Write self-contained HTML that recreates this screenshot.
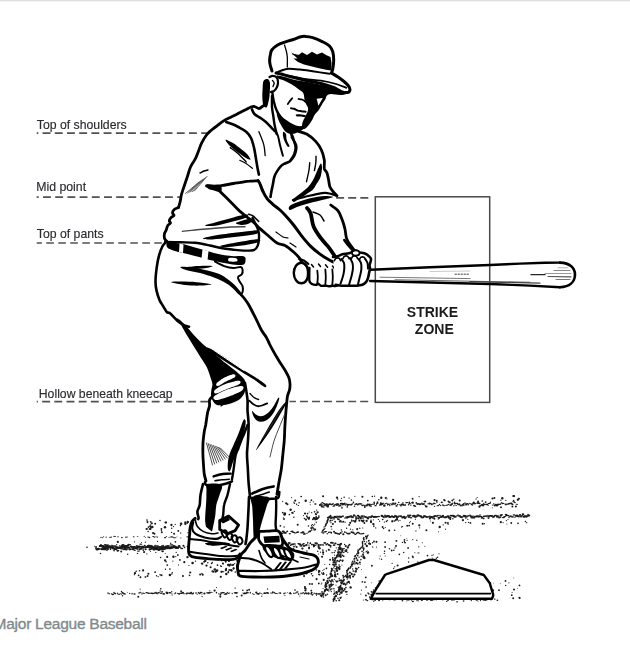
<!DOCTYPE html>
<html><head><meta charset="utf-8">
<style>
html,body{margin:0;padding:0;background:#fff;width:630px;height:653px;overflow:hidden}
svg{display:block;position:absolute;left:0;top:0;filter:blur(0.35px)}
.cap{position:absolute;left:-6.4px;top:614.6px;-webkit-text-stroke:0.35px #7f8a8d;font:15.5px "Liberation Sans",sans-serif;color:#7f8a8d;letter-spacing:-0.26px;white-space:nowrap;line-height:18px}
</style></head><body>
<svg width="630" height="653" viewBox="0 0 630 653">
<rect x="0" y="0" width="630" height="1" fill="#dfdfdf"/><rect x="0" y="1" width="630" height="1" fill="#f4f4f4"/>
<g font-family="Liberation Sans" fill="#2a2a30" stroke="#2a2a30" stroke-width="0.15">
<text x="36.8" y="129.4" font-size="12.25">Top of shoulders</text>
<text x="36.2" y="190.7" font-size="12.3">Mid point</text>
<text x="36.8" y="238.3" font-size="12.25">Top of pants</text>
<text x="38.8" y="397.6" font-size="12.22">Hollow beneath kneecap</text>
</g>
<g stroke="#525252" stroke-width="1.7" fill="none">
<line x1="36.7" y1="133.2" x2="207" y2="133.2" stroke-dasharray="7.9 4.3" stroke-dashoffset="6.3"/>
<line x1="36.7" y1="197.2" x2="181" y2="197.2" stroke-dasharray="7.9 4.3" stroke-dashoffset="5.9"/>
<line x1="336.1" y1="197.8" x2="369" y2="197.8" stroke-dasharray="8 4.1"/>
<line x1="36.7" y1="243" x2="164" y2="243" stroke-dasharray="7.6 4.4" stroke-dashoffset="2.4"/>
<line x1="36.7" y1="401.6" x2="208" y2="401.6" stroke-dasharray="7.9 4.27" stroke-dashoffset="6.7"/>
<line x1="289.5" y1="401.5" x2="369" y2="401.5" stroke-dasharray="8 4.05" stroke-dashoffset="1.6"/>
</g>
<rect x="375.3" y="196.8" width="114.4" height="205.6" fill="none" stroke="#4a4a4a" stroke-width="1.5"/>
<g font-family="Liberation Sans" font-weight="bold" font-size="14" fill="#1a1a1a" text-anchor="middle">
<text x="432.5" y="317.2">STRIKE</text>
<text x="434.3" y="334.4">ZONE</text>
</g>
<!-- DIRT -->
<g fill="#1a1a1a"><ellipse cx="101.0" cy="537.4" rx="0.56" ry="0.58" transform="rotate(0 101.0 537.4)"/><ellipse cx="102.3" cy="537.6" rx="0.55" ry="0.58" transform="rotate(0 102.3 537.6)"/><ellipse cx="103.6" cy="536.8" rx="0.57" ry="0.56" transform="rotate(0 103.6 536.8)"/><ellipse cx="106.2" cy="537.1" rx="0.68" ry="0.61" transform="rotate(0 106.2 537.1)"/><ellipse cx="110.2" cy="537.2" rx="1.19" ry="0.52" transform="rotate(0 110.2 537.2)"/><ellipse cx="111.5" cy="537.0" rx="0.59" ry="0.53" transform="rotate(0 111.5 537.0)"/><ellipse cx="114.1" cy="536.4" rx="0.80" ry="0.59" transform="rotate(0 114.1 536.4)"/><ellipse cx="115.4" cy="536.6" rx="0.55" ry="0.50" transform="rotate(0 115.4 536.6)"/><ellipse cx="118.0" cy="536.7" rx="0.86" ry="0.52" transform="rotate(0 118.0 536.7)"/><ellipse cx="121.9" cy="537.6" rx="0.96" ry="0.58" transform="rotate(0 121.9 537.6)"/><ellipse cx="125.9" cy="537.2" rx="0.83" ry="0.64" transform="rotate(0 125.9 537.2)"/><ellipse cx="127.2" cy="537.0" rx="0.89" ry="0.46" transform="rotate(0 127.2 537.0)"/><ellipse cx="133.7" cy="536.8" rx="0.96" ry="0.56" transform="rotate(0 133.7 536.8)"/><ellipse cx="137.6" cy="536.4" rx="1.03" ry="0.47" transform="rotate(0 137.6 536.4)"/><ellipse cx="144.2" cy="536.4" rx="0.52" ry="0.57" transform="rotate(0 144.2 536.4)"/><ellipse cx="145.5" cy="537.5" rx="0.59" ry="0.46" transform="rotate(0 145.5 537.5)"/><ellipse cx="148.1" cy="537.0" rx="1.20" ry="0.47" transform="rotate(0 148.1 537.0)"/><ellipse cx="149.4" cy="537.5" rx="0.94" ry="0.67" transform="rotate(0 149.4 537.5)"/><ellipse cx="153.4" cy="536.6" rx="1.21" ry="0.69" transform="rotate(0 153.4 536.6)"/><ellipse cx="154.7" cy="537.2" rx="0.64" ry="0.51" transform="rotate(0 154.7 537.2)"/><ellipse cx="156.0" cy="536.3" rx="0.71" ry="0.45" transform="rotate(0 156.0 536.3)"/><ellipse cx="157.3" cy="537.1" rx="0.80" ry="0.59" transform="rotate(0 157.3 537.1)"/><ellipse cx="165.1" cy="537.7" rx="1.20" ry="0.65" transform="rotate(0 165.1 537.7)"/><ellipse cx="166.4" cy="536.5" rx="0.82" ry="0.48" transform="rotate(0 166.4 536.5)"/><ellipse cx="169.1" cy="537.3" rx="0.63" ry="0.54" transform="rotate(0 169.1 537.3)"/><ellipse cx="170.4" cy="537.1" rx="0.50" ry="0.49" transform="rotate(0 170.4 537.1)"/><ellipse cx="171.7" cy="536.9" rx="1.20" ry="0.60" transform="rotate(0 171.7 536.9)"/><ellipse cx="173.0" cy="537.1" rx="0.70" ry="0.54" transform="rotate(0 173.0 537.1)"/><ellipse cx="174.3" cy="537.7" rx="1.29" ry="0.57" transform="rotate(0 174.3 537.7)"/><ellipse cx="175.6" cy="537.7" rx="0.57" ry="0.48" transform="rotate(0 175.6 537.7)"/><ellipse cx="176.9" cy="536.9" rx="0.63" ry="0.46" transform="rotate(0 176.9 536.9)"/><ellipse cx="180.8" cy="537.9" rx="0.93" ry="0.46" transform="rotate(0 180.8 537.9)"/><ellipse cx="187.4" cy="536.8" rx="1.12" ry="0.58" transform="rotate(0 187.4 536.8)"/><ellipse cx="87.0" cy="547.3" rx="0.80" ry="0.82" transform="rotate(0 87.0 547.3)"/><ellipse cx="94.8" cy="546.3" rx="0.63" ry="0.51" transform="rotate(0 94.8 546.3)"/><ellipse cx="96.1" cy="546.9" rx="0.83" ry="0.78" transform="rotate(0 96.1 546.9)"/><ellipse cx="98.7" cy="548.9" rx="1.46" ry="0.65" transform="rotate(0 98.7 548.9)"/><ellipse cx="100.0" cy="546.1" rx="1.25" ry="0.92" transform="rotate(0 100.0 546.1)"/><ellipse cx="101.0" cy="545.8" rx="1.92" ry="1.09" transform="rotate(0 101.0 545.8)"/><ellipse cx="102.0" cy="545.8" rx="1.88" ry="0.85" transform="rotate(0 102.0 545.8)"/><ellipse cx="103.0" cy="548.2" rx="1.83" ry="1.09" transform="rotate(0 103.0 548.2)"/><ellipse cx="104.0" cy="546.3" rx="1.87" ry="1.00" transform="rotate(0 104.0 546.3)"/><ellipse cx="105.0" cy="547.8" rx="1.44" ry="1.37" transform="rotate(0 105.0 547.8)"/><ellipse cx="106.0" cy="546.9" rx="1.19" ry="0.88" transform="rotate(0 106.0 546.9)"/><ellipse cx="107.0" cy="548.2" rx="1.16" ry="1.30" transform="rotate(0 107.0 548.2)"/><ellipse cx="108.0" cy="546.2" rx="1.72" ry="1.01" transform="rotate(0 108.0 546.2)"/><ellipse cx="109.0" cy="547.1" rx="2.07" ry="1.19" transform="rotate(0 109.0 547.1)"/><ellipse cx="110.0" cy="547.2" rx="2.03" ry="1.06" transform="rotate(0 110.0 547.2)"/><ellipse cx="111.0" cy="547.3" rx="1.28" ry="0.98" transform="rotate(0 111.0 547.3)"/><ellipse cx="112.0" cy="546.6" rx="1.65" ry="0.96" transform="rotate(0 112.0 546.6)"/><ellipse cx="113.0" cy="548.3" rx="1.39" ry="1.07" transform="rotate(0 113.0 548.3)"/><ellipse cx="114.0" cy="548.4" rx="1.99" ry="1.05" transform="rotate(0 114.0 548.4)"/><ellipse cx="115.0" cy="546.1" rx="1.58" ry="0.81" transform="rotate(0 115.0 546.1)"/><ellipse cx="116.0" cy="547.1" rx="1.20" ry="0.80" transform="rotate(0 116.0 547.1)"/><ellipse cx="117.0" cy="547.5" rx="1.80" ry="1.13" transform="rotate(0 117.0 547.5)"/><ellipse cx="118.0" cy="547.9" rx="1.57" ry="1.13" transform="rotate(0 118.0 547.9)"/><ellipse cx="119.0" cy="547.9" rx="1.27" ry="0.97" transform="rotate(0 119.0 547.9)"/><ellipse cx="120.0" cy="547.8" rx="1.56" ry="1.14" transform="rotate(0 120.0 547.8)"/><ellipse cx="121.0" cy="547.9" rx="1.67" ry="1.10" transform="rotate(0 121.0 547.9)"/><ellipse cx="122.0" cy="546.7" rx="1.76" ry="1.07" transform="rotate(0 122.0 546.7)"/><ellipse cx="123.0" cy="545.3" rx="1.77" ry="1.33" transform="rotate(0 123.0 545.3)"/><ellipse cx="124.0" cy="547.4" rx="1.29" ry="1.14" transform="rotate(0 124.0 547.4)"/><ellipse cx="125.0" cy="547.4" rx="1.13" ry="1.07" transform="rotate(0 125.0 547.4)"/><ellipse cx="126.0" cy="546.8" rx="1.26" ry="0.84" transform="rotate(0 126.0 546.8)"/><ellipse cx="127.0" cy="547.5" rx="1.17" ry="1.23" transform="rotate(0 127.0 547.5)"/><ellipse cx="128.0" cy="545.5" rx="1.16" ry="1.33" transform="rotate(0 128.0 545.5)"/><ellipse cx="129.0" cy="547.6" rx="1.44" ry="1.09" transform="rotate(0 129.0 547.6)"/><ellipse cx="130.0" cy="549.1" rx="1.92" ry="0.90" transform="rotate(0 130.0 549.1)"/><ellipse cx="131.0" cy="546.5" rx="1.22" ry="0.99" transform="rotate(0 131.0 546.5)"/><ellipse cx="132.0" cy="547.1" rx="1.02" ry="1.13" transform="rotate(0 132.0 547.1)"/><ellipse cx="133.0" cy="547.9" rx="1.69" ry="1.11" transform="rotate(0 133.0 547.9)"/><ellipse cx="134.0" cy="547.3" rx="2.08" ry="1.27" transform="rotate(0 134.0 547.3)"/><ellipse cx="135.0" cy="547.7" rx="1.04" ry="1.27" transform="rotate(0 135.0 547.7)"/><ellipse cx="136.0" cy="547.6" rx="1.14" ry="1.05" transform="rotate(0 136.0 547.6)"/><ellipse cx="137.0" cy="547.5" rx="1.16" ry="1.35" transform="rotate(0 137.0 547.5)"/><ellipse cx="138.0" cy="546.7" rx="1.77" ry="0.85" transform="rotate(0 138.0 546.7)"/><ellipse cx="139.0" cy="546.9" rx="1.08" ry="1.36" transform="rotate(0 139.0 546.9)"/><ellipse cx="140.0" cy="546.5" rx="1.88" ry="0.85" transform="rotate(0 140.0 546.5)"/><ellipse cx="141.0" cy="548.7" rx="1.50" ry="1.00" transform="rotate(0 141.0 548.7)"/><ellipse cx="142.0" cy="547.9" rx="2.02" ry="0.96" transform="rotate(0 142.0 547.9)"/><ellipse cx="143.0" cy="546.7" rx="1.12" ry="0.90" transform="rotate(0 143.0 546.7)"/><ellipse cx="144.0" cy="547.2" rx="1.22" ry="0.99" transform="rotate(0 144.0 547.2)"/><ellipse cx="145.0" cy="547.3" rx="1.55" ry="0.91" transform="rotate(0 145.0 547.3)"/><ellipse cx="146.0" cy="546.6" rx="1.02" ry="0.95" transform="rotate(0 146.0 546.6)"/><ellipse cx="147.0" cy="547.2" rx="1.21" ry="1.08" transform="rotate(0 147.0 547.2)"/><ellipse cx="148.0" cy="546.3" rx="1.12" ry="1.29" transform="rotate(0 148.0 546.3)"/><ellipse cx="149.0" cy="545.8" rx="1.43" ry="1.10" transform="rotate(0 149.0 545.8)"/><ellipse cx="150.0" cy="547.4" rx="2.08" ry="1.01" transform="rotate(0 150.0 547.4)"/><ellipse cx="151.0" cy="547.0" rx="1.45" ry="1.01" transform="rotate(0 151.0 547.0)"/><ellipse cx="152.0" cy="546.2" rx="1.14" ry="0.84" transform="rotate(0 152.0 546.2)"/><ellipse cx="153.0" cy="547.3" rx="1.09" ry="1.30" transform="rotate(0 153.0 547.3)"/><ellipse cx="154.0" cy="547.8" rx="1.74" ry="0.97" transform="rotate(0 154.0 547.8)"/><ellipse cx="155.0" cy="547.1" rx="1.17" ry="1.07" transform="rotate(0 155.0 547.1)"/><ellipse cx="156.0" cy="548.2" rx="2.06" ry="1.38" transform="rotate(0 156.0 548.2)"/><ellipse cx="157.0" cy="547.4" rx="1.34" ry="1.01" transform="rotate(0 157.0 547.4)"/><ellipse cx="158.0" cy="549.4" rx="1.42" ry="1.08" transform="rotate(0 158.0 549.4)"/><ellipse cx="159.0" cy="547.7" rx="1.01" ry="0.96" transform="rotate(0 159.0 547.7)"/><ellipse cx="160.0" cy="548.3" rx="1.44" ry="0.83" transform="rotate(0 160.0 548.3)"/><ellipse cx="161.0" cy="547.2" rx="1.64" ry="1.12" transform="rotate(0 161.0 547.2)"/><ellipse cx="162.0" cy="547.9" rx="1.72" ry="1.23" transform="rotate(0 162.0 547.9)"/><ellipse cx="163.0" cy="546.8" rx="2.08" ry="0.89" transform="rotate(0 163.0 546.8)"/><ellipse cx="164.0" cy="547.9" rx="1.71" ry="0.83" transform="rotate(0 164.0 547.9)"/><ellipse cx="165.0" cy="548.3" rx="1.81" ry="1.29" transform="rotate(0 165.0 548.3)"/><ellipse cx="166.0" cy="546.7" rx="1.58" ry="1.10" transform="rotate(0 166.0 546.7)"/><ellipse cx="167.0" cy="547.9" rx="1.64" ry="1.34" transform="rotate(0 167.0 547.9)"/><ellipse cx="168.0" cy="546.0" rx="1.76" ry="0.94" transform="rotate(0 168.0 546.0)"/><ellipse cx="169.0" cy="547.9" rx="1.12" ry="1.30" transform="rotate(0 169.0 547.9)"/><ellipse cx="170.0" cy="548.0" rx="1.69" ry="1.18" transform="rotate(0 170.0 548.0)"/><ellipse cx="171.0" cy="547.4" rx="1.88" ry="1.25" transform="rotate(0 171.0 547.4)"/><ellipse cx="172.0" cy="547.5" rx="1.59" ry="1.20" transform="rotate(0 172.0 547.5)"/><ellipse cx="173.0" cy="547.4" rx="1.08" ry="0.96" transform="rotate(0 173.0 547.4)"/><ellipse cx="174.0" cy="546.9" rx="1.23" ry="1.24" transform="rotate(0 174.0 546.9)"/><ellipse cx="175.0" cy="546.7" rx="1.53" ry="1.21" transform="rotate(0 175.0 546.7)"/><ellipse cx="176.0" cy="547.5" rx="1.68" ry="1.19" transform="rotate(0 176.0 547.5)"/><ellipse cx="177.0" cy="547.8" rx="1.82" ry="0.98" transform="rotate(0 177.0 547.8)"/><ellipse cx="178.0" cy="548.0" rx="1.01" ry="0.84" transform="rotate(0 178.0 548.0)"/><ellipse cx="179.0" cy="546.9" rx="1.74" ry="0.97" transform="rotate(0 179.0 546.9)"/><ellipse cx="96.0" cy="548.1" rx="1.21" ry="0.83" transform="rotate(0 96.0 548.1)"/><ellipse cx="97.2" cy="549.4" rx="1.73" ry="1.07" transform="rotate(0 97.2 549.4)"/><ellipse cx="98.4" cy="548.7" rx="1.21" ry="1.01" transform="rotate(0 98.4 548.7)"/><ellipse cx="100.8" cy="549.0" rx="1.70" ry="0.71" transform="rotate(0 100.8 549.0)"/><ellipse cx="102.0" cy="549.5" rx="0.89" ry="0.86" transform="rotate(0 102.0 549.5)"/><ellipse cx="104.5" cy="549.4" rx="1.64" ry="0.95" transform="rotate(0 104.5 549.4)"/><ellipse cx="105.7" cy="548.3" rx="1.65" ry="0.84" transform="rotate(0 105.7 548.3)"/><ellipse cx="106.9" cy="549.9" rx="1.20" ry="0.75" transform="rotate(0 106.9 549.9)"/><ellipse cx="108.1" cy="549.1" rx="1.09" ry="0.76" transform="rotate(0 108.1 549.1)"/><ellipse cx="110.5" cy="549.1" rx="0.87" ry="1.06" transform="rotate(0 110.5 549.1)"/><ellipse cx="111.7" cy="547.8" rx="1.65" ry="0.74" transform="rotate(0 111.7 547.8)"/><ellipse cx="113.0" cy="547.1" rx="1.34" ry="0.78" transform="rotate(0 113.0 547.1)"/><ellipse cx="114.1" cy="550.7" rx="1.03" ry="0.62" transform="rotate(0 114.1 550.7)"/><ellipse cx="115.4" cy="549.4" rx="1.69" ry="0.72" transform="rotate(0 115.4 549.4)"/><ellipse cx="116.6" cy="548.7" rx="1.26" ry="0.69" transform="rotate(0 116.6 548.7)"/><ellipse cx="117.8" cy="550.6" rx="1.56" ry="0.92" transform="rotate(0 117.8 550.6)"/><ellipse cx="121.4" cy="548.8" rx="1.47" ry="0.62" transform="rotate(0 121.4 548.8)"/><ellipse cx="122.6" cy="548.1" rx="1.39" ry="0.74" transform="rotate(0 122.6 548.1)"/><ellipse cx="123.8" cy="549.6" rx="1.68" ry="0.66" transform="rotate(0 123.8 549.6)"/><ellipse cx="125.1" cy="548.9" rx="1.49" ry="1.09" transform="rotate(0 125.1 548.9)"/><ellipse cx="126.3" cy="549.7" rx="1.41" ry="0.75" transform="rotate(0 126.3 549.7)"/><ellipse cx="127.5" cy="548.9" rx="0.91" ry="0.70" transform="rotate(0 127.5 548.9)"/><ellipse cx="129.9" cy="549.5" rx="0.97" ry="1.05" transform="rotate(0 129.9 549.5)"/><ellipse cx="132.3" cy="549.6" rx="0.84" ry="0.77" transform="rotate(0 132.3 549.6)"/><ellipse cx="133.5" cy="549.6" rx="0.99" ry="0.73" transform="rotate(0 133.5 549.6)"/><ellipse cx="134.7" cy="550.2" rx="1.16" ry="0.81" transform="rotate(0 134.7 550.2)"/><ellipse cx="136.0" cy="548.5" rx="1.13" ry="0.77" transform="rotate(0 136.0 548.5)"/><ellipse cx="137.2" cy="549.0" rx="0.88" ry="0.85" transform="rotate(0 137.2 549.0)"/><ellipse cx="138.4" cy="551.1" rx="1.61" ry="0.71" transform="rotate(0 138.4 551.1)"/><ellipse cx="139.6" cy="549.3" rx="1.20" ry="1.08" transform="rotate(0 139.6 549.3)"/><ellipse cx="143.2" cy="550.0" rx="0.78" ry="0.95" transform="rotate(0 143.2 550.0)"/><ellipse cx="145.6" cy="549.3" rx="1.14" ry="1.06" transform="rotate(0 145.6 549.3)"/><ellipse cx="150.5" cy="549.4" rx="0.86" ry="0.68" transform="rotate(0 150.5 549.4)"/><ellipse cx="151.7" cy="548.7" rx="1.47" ry="0.92" transform="rotate(0 151.7 548.7)"/><ellipse cx="152.9" cy="547.9" rx="1.21" ry="0.88" transform="rotate(0 152.9 547.9)"/><ellipse cx="154.1" cy="549.5" rx="1.67" ry="0.92" transform="rotate(0 154.1 549.5)"/><ellipse cx="155.3" cy="548.9" rx="0.88" ry="0.73" transform="rotate(0 155.3 548.9)"/><ellipse cx="156.5" cy="549.3" rx="0.82" ry="0.86" transform="rotate(0 156.5 549.3)"/><ellipse cx="157.7" cy="549.1" rx="1.14" ry="0.71" transform="rotate(0 157.7 549.1)"/><ellipse cx="158.9" cy="550.0" rx="1.21" ry="1.08" transform="rotate(0 158.9 550.0)"/><ellipse cx="160.2" cy="549.5" rx="1.63" ry="0.84" transform="rotate(0 160.2 549.5)"/><ellipse cx="161.4" cy="549.5" rx="1.45" ry="0.75" transform="rotate(0 161.4 549.5)"/><ellipse cx="162.6" cy="551.3" rx="1.25" ry="0.94" transform="rotate(0 162.6 551.3)"/><ellipse cx="163.8" cy="549.4" rx="1.68" ry="0.71" transform="rotate(0 163.8 549.4)"/><ellipse cx="100.0" cy="546.4" rx="1.09" ry="0.67" transform="rotate(0 100.0 546.4)"/><ellipse cx="102.6" cy="545.8" rx="1.25" ry="0.58" transform="rotate(0 102.6 545.8)"/><ellipse cx="105.3" cy="544.6" rx="1.57" ry="0.59" transform="rotate(0 105.3 544.6)"/><ellipse cx="106.6" cy="545.5" rx="1.70" ry="0.70" transform="rotate(0 106.6 545.5)"/><ellipse cx="107.9" cy="545.0" rx="0.97" ry="0.67" transform="rotate(0 107.9 545.0)"/><ellipse cx="111.8" cy="545.2" rx="1.72" ry="0.56" transform="rotate(0 111.8 545.2)"/><ellipse cx="113.2" cy="545.8" rx="0.81" ry="0.66" transform="rotate(0 113.2 545.8)"/><ellipse cx="121.1" cy="546.1" rx="1.50" ry="0.51" transform="rotate(0 121.1 546.1)"/><ellipse cx="123.7" cy="546.8" rx="1.12" ry="0.63" transform="rotate(0 123.7 546.8)"/><ellipse cx="125.0" cy="546.0" rx="1.10" ry="0.88" transform="rotate(0 125.0 546.0)"/><ellipse cx="126.3" cy="545.5" rx="1.71" ry="0.58" transform="rotate(0 126.3 545.5)"/><ellipse cx="127.6" cy="546.0" rx="1.18" ry="0.52" transform="rotate(0 127.6 546.0)"/><ellipse cx="128.9" cy="544.5" rx="1.12" ry="0.87" transform="rotate(0 128.9 544.5)"/><ellipse cx="130.3" cy="544.7" rx="0.78" ry="0.66" transform="rotate(0 130.3 544.7)"/><ellipse cx="134.2" cy="546.5" rx="0.78" ry="0.53" transform="rotate(0 134.2 546.5)"/><ellipse cx="136.8" cy="545.5" rx="1.09" ry="0.61" transform="rotate(0 136.8 545.5)"/><ellipse cx="140.8" cy="544.2" rx="1.47" ry="0.63" transform="rotate(0 140.8 544.2)"/><ellipse cx="142.1" cy="546.5" rx="1.67" ry="0.75" transform="rotate(0 142.1 546.5)"/><ellipse cx="144.7" cy="545.5" rx="0.98" ry="0.69" transform="rotate(0 144.7 545.5)"/><ellipse cx="148.7" cy="545.5" rx="1.24" ry="0.87" transform="rotate(0 148.7 545.5)"/><ellipse cx="150.0" cy="546.1" rx="1.55" ry="0.80" transform="rotate(0 150.0 546.1)"/><ellipse cx="155.3" cy="545.3" rx="1.53" ry="0.53" transform="rotate(0 155.3 545.3)"/><ellipse cx="156.6" cy="546.0" rx="1.50" ry="0.60" transform="rotate(0 156.6 546.0)"/><ellipse cx="157.9" cy="546.2" rx="1.08" ry="0.89" transform="rotate(0 157.9 546.2)"/><ellipse cx="161.8" cy="545.7" rx="0.83" ry="0.54" transform="rotate(0 161.8 545.7)"/><ellipse cx="163.2" cy="545.3" rx="0.98" ry="0.67" transform="rotate(0 163.2 545.3)"/><ellipse cx="171.1" cy="544.9" rx="1.59" ry="0.62" transform="rotate(0 171.1 544.9)"/><ellipse cx="172.4" cy="544.8" rx="0.95" ry="0.60" transform="rotate(0 172.4 544.8)"/><ellipse cx="173.7" cy="546.2" rx="0.90" ry="0.85" transform="rotate(0 173.7 546.2)"/><ellipse cx="175.0" cy="547.1" rx="1.49" ry="0.75" transform="rotate(0 175.0 547.1)"/><ellipse cx="176.4" cy="548.2" rx="1.33" ry="0.83" transform="rotate(0 176.4 548.2)"/><ellipse cx="179.1" cy="546.0" rx="1.36" ry="0.96" transform="rotate(0 179.1 546.0)"/><ellipse cx="180.5" cy="547.7" rx="0.86" ry="0.56" transform="rotate(0 180.5 547.7)"/><ellipse cx="181.8" cy="548.5" rx="1.44" ry="0.69" transform="rotate(0 181.8 548.5)"/><ellipse cx="184.5" cy="547.3" rx="0.83" ry="0.89" transform="rotate(0 184.5 547.3)"/><ellipse cx="187.3" cy="546.6" rx="0.80" ry="0.68" transform="rotate(0 187.3 546.6)"/><ellipse cx="188.6" cy="546.9" rx="0.78" ry="0.63" transform="rotate(0 188.6 546.9)"/><circle cx="153.9" cy="549.8" r="0.62"/><circle cx="101.0" cy="544.9" r="0.91"/><circle cx="116.7" cy="544.7" r="0.62"/><circle cx="171.6" cy="548.2" r="0.54"/><circle cx="109.1" cy="545.9" r="0.83"/><circle cx="157.5" cy="541.4" r="0.60"/><circle cx="162.6" cy="546.1" r="0.67"/><circle cx="127.7" cy="554.3" r="0.69"/><circle cx="151.0" cy="545.4" r="0.75"/><circle cx="177.8" cy="554.9" r="0.72"/><circle cx="117.7" cy="550.9" r="0.62"/><circle cx="100.5" cy="553.5" r="0.75"/><circle cx="173.8" cy="546.1" r="1.03"/><circle cx="141.5" cy="542.4" r="0.51"/><circle cx="149.6" cy="549.6" r="1.05"/><circle cx="108.0" cy="549.3" r="0.72"/><circle cx="145.4" cy="542.2" r="0.67"/><circle cx="146.9" cy="553.9" r="0.57"/><circle cx="144.1" cy="552.1" r="1.08"/><circle cx="117.8" cy="541.9" r="1.07"/><circle cx="187.8" cy="547.2" r="0.53"/><circle cx="183.4" cy="545.8" r="1.04"/><circle cx="155.8" cy="552.4" r="0.60"/><circle cx="170.7" cy="543.3" r="0.74"/><circle cx="176.2" cy="552.4" r="0.61"/><circle cx="119.6" cy="546.0" r="0.81"/><circle cx="134.5" cy="541.8" r="0.65"/><circle cx="165.2" cy="553.5" r="0.52"/><circle cx="150.6" cy="551.4" r="0.52"/><circle cx="175.4" cy="541.8" r="0.86"/><circle cx="149.5" cy="549.4" r="0.68"/><circle cx="137.8" cy="548.7" r="0.76"/><circle cx="159.3" cy="546.7" r="0.76"/><circle cx="102.1" cy="549.3" r="0.79"/><circle cx="121.2" cy="551.5" r="0.97"/><circle cx="166.2" cy="522.5" r="0.93"/><circle cx="150.7" cy="521.8" r="0.90"/><circle cx="150.0" cy="526.2" r="0.96"/><circle cx="147.8" cy="528.9" r="0.66"/><circle cx="178.3" cy="530.9" r="0.96"/><circle cx="148.4" cy="527.1" r="0.86"/><circle cx="187.8" cy="521.9" r="1.20"/><circle cx="189.8" cy="530.2" r="1.17"/><circle cx="154.5" cy="533.7" r="0.94"/><circle cx="188.1" cy="532.8" r="0.72"/><circle cx="180.7" cy="533.0" r="0.65"/><circle cx="161.4" cy="530.6" r="0.71"/><circle cx="185.4" cy="523.8" r="1.17"/><circle cx="152.3" cy="527.0" r="1.24"/><circle cx="155.2" cy="523.7" r="0.95"/><circle cx="160.0" cy="520.5" r="0.73"/><circle cx="153.1" cy="533.1" r="1.08"/><circle cx="185.4" cy="522.4" r="1.15"/><circle cx="151.1" cy="527.4" r="1.05"/><circle cx="161.8" cy="532.2" r="0.99"/><circle cx="171.5" cy="532.4" r="0.67"/><circle cx="189.7" cy="528.8" r="0.88"/><circle cx="181.1" cy="523.7" r="1.29"/><circle cx="171.4" cy="525.0" r="1.14"/><circle cx="165.5" cy="522.5" r="1.12"/><circle cx="148.1" cy="531.5" r="0.78"/><circle cx="174.1" cy="533.8" r="1.01"/><circle cx="175.2" cy="524.4" r="0.60"/><circle cx="147.5" cy="522.1" r="1.03"/><circle cx="165.0" cy="527.2" r="1.23"/><circle cx="151.8" cy="523.2" r="1.06"/><circle cx="147.0" cy="520.0" r="0.85"/><circle cx="150.7" cy="525.0" r="0.76"/><circle cx="171.7" cy="528.2" r="0.74"/><circle cx="173.5" cy="526.6" r="0.69"/><circle cx="187.2" cy="523.4" r="0.70"/><circle cx="150.2" cy="528.9" r="1.21"/><circle cx="180.4" cy="525.6" r="0.78"/><circle cx="146.5" cy="529.0" r="0.99"/><circle cx="161.4" cy="529.0" r="0.91"/><circle cx="235.3" cy="572.1" r="0.77"/><circle cx="232.8" cy="557.0" r="0.97"/><circle cx="195.4" cy="561.2" r="0.64"/><circle cx="223.4" cy="556.3" r="0.99"/><circle cx="235.6" cy="559.1" r="0.74"/><circle cx="210.6" cy="567.2" r="1.05"/><circle cx="226.0" cy="559.8" r="0.82"/><circle cx="187.5" cy="557.1" r="1.22"/><circle cx="223.7" cy="571.7" r="0.60"/><circle cx="228.3" cy="572.4" r="0.93"/><circle cx="220.6" cy="566.0" r="0.76"/><circle cx="172.9" cy="561.1" r="0.63"/><circle cx="190.2" cy="572.5" r="1.09"/><circle cx="228.4" cy="571.7" r="0.79"/><circle cx="206.5" cy="565.6" r="1.15"/><circle cx="204.2" cy="561.8" r="1.05"/><circle cx="237.4" cy="560.8" r="1.22"/><circle cx="166.1" cy="561.7" r="0.77"/><circle cx="220.8" cy="576.8" r="1.12"/><circle cx="189.5" cy="575.4" r="0.83"/><circle cx="182.9" cy="576.0" r="1.04"/><circle cx="217.0" cy="570.6" r="1.29"/><circle cx="200.2" cy="574.5" r="1.09"/><circle cx="229.3" cy="565.6" r="1.11"/><circle cx="207.8" cy="562.8" r="0.75"/><circle cx="211.7" cy="557.7" r="1.24"/><circle cx="175.8" cy="556.6" r="0.67"/><circle cx="234.7" cy="563.6" r="0.70"/><circle cx="167.2" cy="556.9" r="1.08"/><circle cx="212.5" cy="571.3" r="1.12"/><circle cx="169.9" cy="569.0" r="0.85"/><circle cx="226.3" cy="574.0" r="1.22"/><circle cx="169.9" cy="575.1" r="1.24"/><circle cx="235.8" cy="558.4" r="0.74"/><circle cx="173.4" cy="556.8" r="1.19"/><circle cx="225.9" cy="570.0" r="1.18"/><circle cx="212.4" cy="562.3" r="0.67"/><circle cx="172.3" cy="572.7" r="0.74"/><circle cx="188.9" cy="565.3" r="0.61"/><circle cx="184.3" cy="562.2" r="1.10"/><circle cx="192.6" cy="563.1" r="1.27"/><circle cx="202.8" cy="574.7" r="1.03"/><circle cx="167.3" cy="565.1" r="0.91"/><circle cx="223.0" cy="563.6" r="1.09"/><circle cx="205.3" cy="560.8" r="1.20"/><circle cx="171.8" cy="574.0" r="0.72"/><circle cx="165.1" cy="560.4" r="1.13"/><circle cx="238.3" cy="556.1" r="0.94"/><circle cx="201.9" cy="573.5" r="0.73"/><circle cx="202.1" cy="563.6" r="1.18"/><circle cx="140.4" cy="577.5" r="0.77"/><circle cx="138.6" cy="575.3" r="0.90"/><circle cx="134.4" cy="574.7" r="0.65"/><circle cx="161.5" cy="575.3" r="1.07"/><circle cx="155.1" cy="572.2" r="0.84"/><circle cx="145.8" cy="577.0" r="0.65"/><circle cx="165.5" cy="569.2" r="0.72"/><circle cx="140.5" cy="577.1" r="0.90"/><circle cx="145.2" cy="577.0" r="0.74"/><circle cx="148.4" cy="573.8" r="1.05"/><circle cx="160.1" cy="574.8" r="0.81"/><circle cx="143.1" cy="570.4" r="1.11"/><circle cx="156.5" cy="575.7" r="0.70"/><circle cx="147.6" cy="576.0" r="0.95"/><circle cx="135.0" cy="573.2" r="1.13"/><circle cx="139.5" cy="570.7" r="0.78"/><circle cx="158.1" cy="576.6" r="0.69"/><circle cx="136.2" cy="571.2" r="0.80"/><circle cx="225.7" cy="561.9" r="0.83"/><circle cx="215.7" cy="571.7" r="1.11"/><circle cx="213.1" cy="571.5" r="0.67"/><circle cx="221.5" cy="571.8" r="1.16"/><circle cx="232.0" cy="565.2" r="0.74"/><circle cx="229.1" cy="561.3" r="0.74"/><circle cx="221.7" cy="560.4" r="0.88"/><circle cx="233.7" cy="568.3" r="0.95"/><circle cx="229.0" cy="565.6" r="0.70"/><circle cx="228.1" cy="564.9" r="1.12"/><circle cx="237.2" cy="565.2" r="1.00"/><circle cx="232.5" cy="565.1" r="0.76"/><circle cx="231.7" cy="570.6" r="1.14"/><circle cx="231.0" cy="570.2" r="1.08"/><circle cx="229.2" cy="565.4" r="0.82"/><circle cx="228.8" cy="561.2" r="0.89"/><circle cx="233.5" cy="568.6" r="1.04"/><circle cx="217.5" cy="565.1" r="0.92"/><circle cx="228.6" cy="564.9" r="1.07"/><circle cx="237.9" cy="562.2" r="1.06"/><circle cx="233.3" cy="564.7" r="0.94"/><circle cx="239.2" cy="560.5" r="0.98"/><circle cx="214.8" cy="569.4" r="1.26"/><circle cx="225.6" cy="561.2" r="1.00"/><circle cx="226.2" cy="568.6" r="0.96"/><circle cx="229.2" cy="569.9" r="0.97"/><circle cx="222.3" cy="571.4" r="0.75"/><circle cx="230.5" cy="564.7" r="1.13"/><circle cx="213.7" cy="571.8" r="0.85"/><circle cx="211.7" cy="563.3" r="0.88"/><ellipse cx="108.0" cy="593.0" rx="1.20" ry="0.61" transform="rotate(-0 108.0 593.0)"/><ellipse cx="109.2" cy="593.8" rx="0.72" ry="0.78" transform="rotate(-0 109.2 593.8)"/><ellipse cx="111.6" cy="593.7" rx="0.89" ry="0.55" transform="rotate(-0 111.6 593.7)"/><ellipse cx="112.8" cy="594.5" rx="1.28" ry="0.81" transform="rotate(-0 112.8 594.5)"/><ellipse cx="114.0" cy="592.7" rx="0.73" ry="0.88" transform="rotate(-0 114.0 592.7)"/><ellipse cx="115.2" cy="593.6" rx="1.14" ry="0.82" transform="rotate(-0 115.2 593.6)"/><ellipse cx="117.6" cy="593.3" rx="0.63" ry="0.83" transform="rotate(-0 117.6 593.3)"/><ellipse cx="118.9" cy="594.2" rx="1.35" ry="0.57" transform="rotate(-0 118.9 594.2)"/><ellipse cx="120.1" cy="593.5" rx="0.69" ry="0.45" transform="rotate(-0 120.1 593.5)"/><ellipse cx="121.3" cy="594.1" rx="0.78" ry="0.56" transform="rotate(-0 121.3 594.1)"/><ellipse cx="122.5" cy="592.8" rx="1.14" ry="0.75" transform="rotate(-0 122.5 592.8)"/><ellipse cx="123.7" cy="593.5" rx="1.43" ry="0.83" transform="rotate(-0 123.7 593.5)"/><ellipse cx="124.9" cy="594.1" rx="1.28" ry="0.51" transform="rotate(-0 124.9 594.1)"/><ellipse cx="127.3" cy="592.3" rx="0.51" ry="0.46" transform="rotate(-0 127.3 592.3)"/><ellipse cx="129.7" cy="593.4" rx="0.64" ry="0.56" transform="rotate(-0 129.7 593.4)"/><ellipse cx="132.1" cy="593.7" rx="0.65" ry="0.86" transform="rotate(-0 132.1 593.7)"/><ellipse cx="134.5" cy="594.1" rx="1.28" ry="0.75" transform="rotate(-0 134.5 594.1)"/><ellipse cx="139.3" cy="592.9" rx="1.19" ry="0.69" transform="rotate(-0 139.3 592.9)"/><ellipse cx="140.5" cy="592.3" rx="1.06" ry="0.57" transform="rotate(-0 140.5 592.3)"/><ellipse cx="141.8" cy="593.9" rx="0.64" ry="0.67" transform="rotate(-0 141.8 593.9)"/><ellipse cx="143.0" cy="593.1" rx="0.99" ry="0.67" transform="rotate(-0 143.0 593.1)"/><ellipse cx="144.2" cy="593.5" rx="1.36" ry="0.45" transform="rotate(-0 144.2 593.5)"/><ellipse cx="146.6" cy="592.6" rx="1.34" ry="0.62" transform="rotate(-0 146.6 592.6)"/><ellipse cx="147.8" cy="593.1" rx="1.46" ry="0.48" transform="rotate(-0 147.8 593.1)"/><ellipse cx="149.0" cy="593.3" rx="1.11" ry="0.76" transform="rotate(-0 149.0 593.3)"/><ellipse cx="151.4" cy="593.3" rx="1.48" ry="0.68" transform="rotate(-0 151.4 593.3)"/><ellipse cx="152.6" cy="593.5" rx="1.22" ry="0.73" transform="rotate(-0 152.6 593.5)"/><ellipse cx="153.8" cy="593.3" rx="1.36" ry="0.61" transform="rotate(-0 153.8 593.3)"/><ellipse cx="155.0" cy="592.4" rx="0.71" ry="0.65" transform="rotate(-0 155.0 592.4)"/><ellipse cx="156.2" cy="593.2" rx="1.05" ry="0.82" transform="rotate(-0 156.2 593.2)"/><ellipse cx="157.4" cy="593.7" rx="1.00" ry="0.57" transform="rotate(-0 157.4 593.7)"/><ellipse cx="158.6" cy="592.8" rx="1.47" ry="0.74" transform="rotate(-0 158.6 592.8)"/><ellipse cx="161.0" cy="593.2" rx="1.09" ry="0.74" transform="rotate(-0 161.0 593.2)"/><ellipse cx="163.5" cy="593.8" rx="1.22" ry="0.85" transform="rotate(-0 163.5 593.8)"/><ellipse cx="164.7" cy="593.9" rx="0.51" ry="0.54" transform="rotate(-0 164.7 593.9)"/><ellipse cx="167.1" cy="593.5" rx="1.16" ry="0.81" transform="rotate(-0 167.1 593.5)"/><ellipse cx="169.5" cy="592.7" rx="1.20" ry="0.72" transform="rotate(-0 169.5 592.7)"/><ellipse cx="170.7" cy="592.8" rx="0.71" ry="0.75" transform="rotate(-0 170.7 592.8)"/><ellipse cx="171.9" cy="593.4" rx="0.68" ry="0.47" transform="rotate(-0 171.9 593.4)"/><ellipse cx="175.5" cy="593.1" rx="0.87" ry="0.82" transform="rotate(-0 175.5 593.1)"/><ellipse cx="177.9" cy="593.3" rx="0.92" ry="0.59" transform="rotate(-0 177.9 593.3)"/><ellipse cx="179.1" cy="593.8" rx="1.14" ry="0.87" transform="rotate(-0 179.1 593.8)"/><ellipse cx="180.3" cy="593.2" rx="0.62" ry="0.81" transform="rotate(-0 180.3 593.2)"/><ellipse cx="181.5" cy="593.3" rx="1.42" ry="0.65" transform="rotate(-0 181.5 593.3)"/><ellipse cx="182.7" cy="592.7" rx="1.44" ry="0.89" transform="rotate(-0 182.7 592.7)"/><ellipse cx="184.0" cy="593.8" rx="0.91" ry="0.50" transform="rotate(-0 184.0 593.8)"/><ellipse cx="185.2" cy="593.4" rx="0.52" ry="0.45" transform="rotate(-0 185.2 593.4)"/><ellipse cx="186.4" cy="593.7" rx="0.62" ry="0.88" transform="rotate(-0 186.4 593.7)"/><ellipse cx="187.6" cy="593.5" rx="0.52" ry="0.77" transform="rotate(-0 187.6 593.5)"/><ellipse cx="188.8" cy="593.1" rx="1.23" ry="0.53" transform="rotate(-0 188.8 593.1)"/><ellipse cx="190.0" cy="593.5" rx="1.36" ry="0.78" transform="rotate(-0 190.0 593.5)"/><ellipse cx="191.2" cy="592.4" rx="1.13" ry="0.77" transform="rotate(-0 191.2 592.4)"/><ellipse cx="192.4" cy="593.7" rx="1.46" ry="0.77" transform="rotate(-0 192.4 593.7)"/><ellipse cx="193.6" cy="593.1" rx="0.51" ry="0.74" transform="rotate(-0 193.6 593.1)"/><ellipse cx="196.0" cy="592.9" rx="0.67" ry="0.84" transform="rotate(-0 196.0 592.9)"/><ellipse cx="197.2" cy="594.2" rx="0.56" ry="0.62" transform="rotate(-0 197.2 594.2)"/><ellipse cx="198.4" cy="592.5" rx="0.64" ry="0.81" transform="rotate(-0 198.4 592.5)"/><ellipse cx="199.6" cy="593.6" rx="1.14" ry="0.73" transform="rotate(-0 199.6 593.6)"/><ellipse cx="200.8" cy="592.5" rx="1.44" ry="0.80" transform="rotate(-0 200.8 592.5)"/><ellipse cx="202.0" cy="594.0" rx="0.79" ry="0.48" transform="rotate(-0 202.0 594.0)"/><ellipse cx="204.4" cy="593.5" rx="1.11" ry="0.89" transform="rotate(-0 204.4 593.5)"/><ellipse cx="206.9" cy="592.8" rx="0.81" ry="0.64" transform="rotate(-0 206.9 592.8)"/><ellipse cx="209.3" cy="592.9" rx="1.40" ry="0.81" transform="rotate(-0 209.3 592.9)"/><ellipse cx="210.5" cy="592.5" rx="0.50" ry="0.57" transform="rotate(-0 210.5 592.5)"/><ellipse cx="211.7" cy="592.3" rx="1.39" ry="0.47" transform="rotate(-0 211.7 592.3)"/><ellipse cx="216.5" cy="592.7" rx="0.77" ry="0.83" transform="rotate(-0 216.5 592.7)"/><ellipse cx="218.9" cy="593.7" rx="0.59" ry="0.70" transform="rotate(-0 218.9 593.7)"/><ellipse cx="221.3" cy="593.0" rx="1.25" ry="0.87" transform="rotate(-0 221.3 593.0)"/><ellipse cx="222.5" cy="592.5" rx="0.97" ry="0.54" transform="rotate(-0 222.5 592.5)"/><ellipse cx="223.7" cy="592.7" rx="1.25" ry="0.81" transform="rotate(-0 223.7 592.7)"/><ellipse cx="224.9" cy="594.2" rx="1.27" ry="0.55" transform="rotate(-0 224.9 594.2)"/><ellipse cx="226.1" cy="593.8" rx="1.40" ry="0.85" transform="rotate(-0 226.1 593.8)"/><ellipse cx="227.3" cy="592.4" rx="0.69" ry="0.54" transform="rotate(-0 227.3 592.4)"/><ellipse cx="228.6" cy="593.3" rx="1.20" ry="0.61" transform="rotate(-0 228.6 593.3)"/><ellipse cx="229.8" cy="592.6" rx="0.65" ry="0.47" transform="rotate(-0 229.8 592.6)"/><ellipse cx="232.2" cy="593.6" rx="0.61" ry="0.73" transform="rotate(-0 232.2 593.6)"/><ellipse cx="234.6" cy="592.8" rx="1.02" ry="0.46" transform="rotate(-0 234.6 592.8)"/><ellipse cx="235.8" cy="592.9" rx="1.49" ry="0.84" transform="rotate(-0 235.8 592.9)"/><ellipse cx="237.0" cy="592.8" rx="1.28" ry="0.64" transform="rotate(-0 237.0 592.8)"/><ellipse cx="243.0" cy="593.0" rx="0.54" ry="0.54" transform="rotate(-0 243.0 593.0)"/><ellipse cx="244.2" cy="593.4" rx="1.06" ry="0.84" transform="rotate(-0 244.2 593.4)"/><ellipse cx="245.4" cy="593.3" rx="1.45" ry="0.86" transform="rotate(-0 245.4 593.3)"/><ellipse cx="246.6" cy="592.7" rx="0.62" ry="0.88" transform="rotate(-0 246.6 592.7)"/><ellipse cx="247.8" cy="592.8" rx="1.06" ry="0.74" transform="rotate(-0 247.8 592.8)"/><ellipse cx="250.3" cy="592.7" rx="0.66" ry="0.88" transform="rotate(-0 250.3 592.7)"/><ellipse cx="252.7" cy="593.6" rx="0.54" ry="0.57" transform="rotate(-0 252.7 593.6)"/><ellipse cx="253.9" cy="594.2" rx="1.34" ry="0.47" transform="rotate(-0 253.9 594.2)"/><ellipse cx="256.3" cy="592.4" rx="1.15" ry="0.89" transform="rotate(-0 256.3 592.4)"/><ellipse cx="257.5" cy="593.8" rx="1.44" ry="0.75" transform="rotate(-0 257.5 593.8)"/><ellipse cx="258.7" cy="593.9" rx="1.09" ry="0.79" transform="rotate(-0 258.7 593.9)"/><ellipse cx="259.9" cy="592.9" rx="0.62" ry="0.67" transform="rotate(-0 259.9 592.9)"/><ellipse cx="261.1" cy="593.6" rx="0.74" ry="0.51" transform="rotate(-0 261.1 593.6)"/><ellipse cx="262.3" cy="594.1" rx="0.70" ry="0.47" transform="rotate(-0 262.3 594.1)"/><ellipse cx="264.7" cy="593.2" rx="1.43" ry="0.84" transform="rotate(-0 264.7 593.2)"/><ellipse cx="267.1" cy="592.9" rx="1.43" ry="0.83" transform="rotate(-0 267.1 592.9)"/><ellipse cx="268.3" cy="593.2" rx="0.95" ry="0.60" transform="rotate(-0 268.3 593.2)"/><ellipse cx="270.7" cy="592.9" rx="0.72" ry="0.48" transform="rotate(-0 270.7 592.9)"/><ellipse cx="272.0" cy="592.9" rx="1.05" ry="0.52" transform="rotate(-0 272.0 592.9)"/><ellipse cx="274.4" cy="592.8" rx="0.77" ry="0.83" transform="rotate(-0 274.4 592.8)"/><ellipse cx="275.6" cy="593.3" rx="0.67" ry="0.67" transform="rotate(-0 275.6 593.3)"/><ellipse cx="276.8" cy="593.4" rx="1.48" ry="0.48" transform="rotate(-0 276.8 593.4)"/><ellipse cx="279.2" cy="592.9" rx="0.71" ry="0.66" transform="rotate(-0 279.2 592.9)"/><ellipse cx="280.4" cy="593.1" rx="0.86" ry="0.90" transform="rotate(-0 280.4 593.1)"/><ellipse cx="284.0" cy="593.5" rx="0.79" ry="0.85" transform="rotate(-0 284.0 593.5)"/><ellipse cx="285.2" cy="593.0" rx="1.48" ry="0.46" transform="rotate(-0 285.2 593.0)"/><ellipse cx="287.6" cy="592.6" rx="0.64" ry="0.45" transform="rotate(-0 287.6 592.6)"/><ellipse cx="290.0" cy="593.3" rx="1.41" ry="0.55" transform="rotate(-0 290.0 593.3)"/><ellipse cx="291.2" cy="593.7" rx="0.64" ry="0.53" transform="rotate(-0 291.2 593.7)"/><ellipse cx="293.7" cy="593.2" rx="0.59" ry="0.72" transform="rotate(-0 293.7 593.2)"/><ellipse cx="294.9" cy="593.3" rx="0.77" ry="0.54" transform="rotate(-0 294.9 593.3)"/><ellipse cx="296.1" cy="592.8" rx="1.08" ry="0.54" transform="rotate(-0 296.1 592.8)"/><ellipse cx="297.3" cy="592.0" rx="1.23" ry="0.63" transform="rotate(-0 297.3 592.0)"/><ellipse cx="298.5" cy="594.1" rx="0.84" ry="0.83" transform="rotate(-0 298.5 594.1)"/><ellipse cx="300.9" cy="593.4" rx="0.52" ry="0.86" transform="rotate(-0 300.9 593.4)"/><ellipse cx="302.1" cy="593.4" rx="0.69" ry="0.82" transform="rotate(-0 302.1 593.4)"/><ellipse cx="303.3" cy="592.7" rx="0.66" ry="0.62" transform="rotate(-0 303.3 592.7)"/><ellipse cx="304.5" cy="593.8" rx="0.95" ry="0.68" transform="rotate(-0 304.5 593.8)"/><ellipse cx="305.7" cy="593.1" rx="1.21" ry="0.82" transform="rotate(-0 305.7 593.1)"/><ellipse cx="308.1" cy="592.9" rx="1.25" ry="0.48" transform="rotate(-0 308.1 592.9)"/><ellipse cx="311.7" cy="592.5" rx="1.01" ry="0.69" transform="rotate(-0 311.7 592.5)"/><ellipse cx="312.9" cy="594.6" rx="0.72" ry="0.53" transform="rotate(-0 312.9 594.6)"/><ellipse cx="314.2" cy="593.2" rx="0.75" ry="0.82" transform="rotate(-0 314.2 593.2)"/><ellipse cx="315.4" cy="593.8" rx="0.70" ry="0.46" transform="rotate(-0 315.4 593.8)"/><ellipse cx="316.6" cy="593.5" rx="1.08" ry="0.69" transform="rotate(-0 316.6 593.5)"/><ellipse cx="317.8" cy="594.0" rx="1.22" ry="0.47" transform="rotate(-0 317.8 594.0)"/><ellipse cx="319.0" cy="593.7" rx="0.99" ry="0.68" transform="rotate(-0 319.0 593.7)"/><ellipse cx="320.2" cy="593.5" rx="0.64" ry="0.72" transform="rotate(-0 320.2 593.5)"/><ellipse cx="322.6" cy="593.4" rx="1.07" ry="0.79" transform="rotate(-0 322.6 593.4)"/><ellipse cx="323.8" cy="593.7" rx="0.89" ry="0.64" transform="rotate(-0 323.8 593.7)"/><circle cx="290.2" cy="592.7" r="0.74"/><circle cx="312.3" cy="595.0" r="0.70"/><circle cx="160.2" cy="591.0" r="0.76"/><circle cx="320.9" cy="595.2" r="1.05"/><circle cx="284.9" cy="595.6" r="0.53"/><circle cx="220.3" cy="596.6" r="1.06"/><circle cx="162.1" cy="591.8" r="0.88"/><circle cx="187.1" cy="592.8" r="0.54"/><circle cx="202.0" cy="592.5" r="0.51"/><circle cx="138.3" cy="596.7" r="0.97"/><circle cx="311.3" cy="593.7" r="0.99"/><circle cx="299.9" cy="596.0" r="0.52"/><circle cx="247.2" cy="590.4" r="0.91"/><circle cx="167.3" cy="592.9" r="1.05"/><circle cx="242.8" cy="590.3" r="0.81"/><circle cx="202.1" cy="596.6" r="0.67"/><circle cx="174.3" cy="593.8" r="0.57"/><circle cx="237.0" cy="596.6" r="0.81"/><circle cx="166.2" cy="592.2" r="0.82"/><circle cx="140.2" cy="589.1" r="0.58"/><circle cx="171.7" cy="591.7" r="0.67"/><circle cx="160.8" cy="588.8" r="0.83"/><circle cx="290.2" cy="593.5" r="0.84"/><circle cx="249.1" cy="589.8" r="0.93"/><circle cx="208.0" cy="592.9" r="0.87"/><circle cx="209.8" cy="590.8" r="0.65"/><circle cx="156.1" cy="592.6" r="0.73"/><circle cx="235.1" cy="588.1" r="0.71"/><circle cx="295.0" cy="590.1" r="0.83"/><circle cx="214.6" cy="590.6" r="1.09"/><circle cx="172.1" cy="594.9" r="0.60"/><circle cx="122.5" cy="595.8" r="0.76"/><circle cx="121.5" cy="591.5" r="0.76"/><circle cx="267.6" cy="589.0" r="0.64"/><circle cx="316.2" cy="594.6" r="0.59"/><circle cx="181.1" cy="591.2" r="0.91"/><circle cx="241.7" cy="595.6" r="0.99"/><circle cx="220.4" cy="594.6" r="0.95"/><circle cx="272.9" cy="592.3" r="0.97"/><circle cx="261.8" cy="596.2" r="0.58"/><circle cx="221.3" cy="530.3" r="0.81"/><circle cx="179.9" cy="559.9" r="0.89"/><circle cx="177.9" cy="555.1" r="0.81"/><circle cx="221.6" cy="566.4" r="0.65"/><circle cx="160.6" cy="557.5" r="0.79"/><circle cx="137.5" cy="553.4" r="0.72"/><circle cx="150.8" cy="549.3" r="0.81"/><circle cx="218.2" cy="560.0" r="0.68"/><circle cx="121.7" cy="548.2" r="0.56"/><circle cx="178.4" cy="564.9" r="0.54"/><circle cx="228.4" cy="549.4" r="0.84"/><circle cx="216.5" cy="587.5" r="0.58"/><ellipse cx="282.7" cy="501.5" rx="0.54" ry="0.67" transform="rotate(1 282.7 501.5)"/><ellipse cx="294.4" cy="503.2" rx="0.78" ry="0.78" transform="rotate(1 294.4 503.2)"/><ellipse cx="298.3" cy="505.5" rx="0.80" ry="0.62" transform="rotate(1 298.3 505.5)"/><ellipse cx="310.2" cy="502.2" rx="0.64" ry="0.60" transform="rotate(1 310.2 502.2)"/><ellipse cx="315.4" cy="504.0" rx="1.22" ry="0.71" transform="rotate(1 315.4 504.0)"/><ellipse cx="320.2" cy="505.0" rx="1.06" ry="0.75" transform="rotate(-0 320.2 505.0)"/><ellipse cx="321.3" cy="505.2" rx="0.76" ry="0.82" transform="rotate(-0 321.3 505.2)"/><ellipse cx="322.4" cy="502.6" rx="1.17" ry="0.52" transform="rotate(-0 322.4 502.6)"/><ellipse cx="323.5" cy="507.0" rx="1.31" ry="0.65" transform="rotate(-0 323.5 507.0)"/><ellipse cx="324.6" cy="505.3" rx="1.36" ry="0.79" transform="rotate(-0 324.6 505.3)"/><ellipse cx="325.7" cy="504.5" rx="0.78" ry="0.75" transform="rotate(-0 325.7 504.5)"/><ellipse cx="326.8" cy="504.3" rx="1.08" ry="1.00" transform="rotate(-0 326.8 504.3)"/><ellipse cx="327.9" cy="505.9" rx="0.97" ry="0.56" transform="rotate(-0 327.9 505.9)"/><ellipse cx="329.0" cy="504.5" rx="0.69" ry="0.59" transform="rotate(-0 329.0 504.5)"/><ellipse cx="330.2" cy="504.0" rx="1.34" ry="0.81" transform="rotate(-0 330.2 504.0)"/><ellipse cx="331.3" cy="504.6" rx="1.29" ry="0.66" transform="rotate(-0 331.3 504.6)"/><ellipse cx="332.4" cy="504.5" rx="0.92" ry="0.58" transform="rotate(-0 332.4 504.5)"/><ellipse cx="333.5" cy="506.2" rx="1.12" ry="0.67" transform="rotate(-0 333.5 506.2)"/><ellipse cx="334.6" cy="505.7" rx="0.95" ry="0.53" transform="rotate(-0 334.6 505.7)"/><ellipse cx="336.8" cy="505.5" rx="1.16" ry="0.62" transform="rotate(-0 336.8 505.5)"/><ellipse cx="337.9" cy="504.2" rx="1.44" ry="0.93" transform="rotate(-0 337.9 504.2)"/><ellipse cx="339.0" cy="505.9" rx="0.87" ry="0.80" transform="rotate(-0 339.0 505.9)"/><ellipse cx="341.2" cy="503.4" rx="1.45" ry="0.62" transform="rotate(-0 341.2 503.4)"/><ellipse cx="342.3" cy="504.3" rx="0.88" ry="0.94" transform="rotate(-0 342.3 504.3)"/><ellipse cx="343.4" cy="503.7" rx="1.31" ry="0.62" transform="rotate(-0 343.4 503.7)"/><ellipse cx="344.5" cy="504.0" rx="1.47" ry="0.65" transform="rotate(-0 344.5 504.0)"/><ellipse cx="345.6" cy="504.9" rx="0.70" ry="0.77" transform="rotate(-0 345.6 504.9)"/><ellipse cx="346.7" cy="504.1" rx="0.71" ry="0.91" transform="rotate(-0 346.7 504.1)"/><ellipse cx="347.8" cy="504.6" rx="0.82" ry="0.60" transform="rotate(-0 347.8 504.6)"/><ellipse cx="348.9" cy="504.4" rx="1.20" ry="0.67" transform="rotate(-0 348.9 504.4)"/><ellipse cx="350.0" cy="504.7" rx="1.24" ry="0.55" transform="rotate(-0 350.0 504.7)"/><ellipse cx="351.1" cy="504.7" rx="1.00" ry="0.92" transform="rotate(-0 351.1 504.7)"/><ellipse cx="352.3" cy="504.0" rx="0.74" ry="0.68" transform="rotate(-0 352.3 504.0)"/><ellipse cx="353.4" cy="502.6" rx="0.79" ry="0.98" transform="rotate(-0 353.4 502.6)"/><ellipse cx="354.5" cy="506.2" rx="0.80" ry="0.73" transform="rotate(-0 354.5 506.2)"/><ellipse cx="355.6" cy="504.2" rx="1.41" ry="0.79" transform="rotate(-0 355.6 504.2)"/><ellipse cx="356.7" cy="503.7" rx="0.82" ry="0.80" transform="rotate(-0 356.7 503.7)"/><ellipse cx="357.8" cy="504.8" rx="1.06" ry="0.77" transform="rotate(-0 357.8 504.8)"/><ellipse cx="358.9" cy="504.0" rx="1.29" ry="0.69" transform="rotate(-0 358.9 504.0)"/><ellipse cx="360.0" cy="503.6" rx="0.95" ry="0.54" transform="rotate(-0 360.0 503.6)"/><ellipse cx="361.1" cy="504.0" rx="1.37" ry="0.66" transform="rotate(-0 361.1 504.0)"/><ellipse cx="362.2" cy="505.4" rx="0.93" ry="0.75" transform="rotate(-0 362.2 505.4)"/><ellipse cx="363.3" cy="505.2" rx="0.66" ry="0.66" transform="rotate(-0 363.3 505.2)"/><ellipse cx="364.4" cy="505.5" rx="0.85" ry="0.70" transform="rotate(-0 364.4 505.5)"/><ellipse cx="366.6" cy="505.5" rx="1.39" ry="0.93" transform="rotate(-0 366.6 505.5)"/><ellipse cx="367.7" cy="504.3" rx="1.21" ry="0.83" transform="rotate(-0 367.7 504.3)"/><ellipse cx="368.8" cy="504.6" rx="0.97" ry="0.83" transform="rotate(-0 368.8 504.6)"/><ellipse cx="369.9" cy="504.4" rx="0.92" ry="0.81" transform="rotate(-0 369.9 504.4)"/><ellipse cx="371.0" cy="506.3" rx="0.70" ry="0.96" transform="rotate(-0 371.0 506.3)"/><ellipse cx="372.1" cy="504.3" rx="0.64" ry="0.58" transform="rotate(-0 372.1 504.3)"/><ellipse cx="373.2" cy="504.1" rx="0.87" ry="0.69" transform="rotate(-0 373.2 504.1)"/><ellipse cx="374.4" cy="503.8" rx="0.76" ry="0.92" transform="rotate(-0 374.4 503.8)"/><ellipse cx="375.5" cy="505.7" rx="1.24" ry="0.63" transform="rotate(-0 375.5 505.7)"/><ellipse cx="376.6" cy="504.0" rx="0.60" ry="0.92" transform="rotate(-0 376.6 504.0)"/><ellipse cx="377.7" cy="503.5" rx="0.86" ry="0.52" transform="rotate(-0 377.7 503.5)"/><ellipse cx="379.9" cy="505.1" rx="0.70" ry="0.90" transform="rotate(-0 379.9 505.1)"/><ellipse cx="381.0" cy="504.6" rx="1.42" ry="0.87" transform="rotate(-0 381.0 504.6)"/><ellipse cx="382.1" cy="504.0" rx="1.27" ry="0.91" transform="rotate(-0 382.1 504.0)"/><ellipse cx="383.2" cy="503.4" rx="0.68" ry="0.97" transform="rotate(-0 383.2 503.4)"/><ellipse cx="384.3" cy="505.7" rx="1.26" ry="0.91" transform="rotate(-0 384.3 505.7)"/><ellipse cx="385.4" cy="503.7" rx="1.01" ry="0.53" transform="rotate(-0 385.4 503.7)"/><ellipse cx="386.5" cy="503.3" rx="1.44" ry="0.56" transform="rotate(-0 386.5 503.3)"/><ellipse cx="387.6" cy="504.8" rx="0.64" ry="0.85" transform="rotate(-0 387.6 504.8)"/><ellipse cx="388.7" cy="504.2" rx="1.47" ry="0.82" transform="rotate(-0 388.7 504.2)"/><ellipse cx="389.8" cy="505.6" rx="0.82" ry="0.53" transform="rotate(-0 389.8 505.6)"/><ellipse cx="390.9" cy="503.7" rx="0.88" ry="0.57" transform="rotate(-0 390.9 503.7)"/><ellipse cx="392.0" cy="504.7" rx="1.20" ry="0.62" transform="rotate(-0 392.0 504.7)"/><ellipse cx="393.1" cy="503.2" rx="1.44" ry="0.68" transform="rotate(-0 393.1 503.2)"/><ellipse cx="394.2" cy="504.2" rx="1.40" ry="0.57" transform="rotate(-0 394.2 504.2)"/><ellipse cx="395.3" cy="503.4" rx="1.09" ry="0.88" transform="rotate(-0 395.3 503.4)"/><ellipse cx="396.5" cy="505.9" rx="1.20" ry="0.80" transform="rotate(-0 396.5 505.9)"/><ellipse cx="397.6" cy="504.5" rx="0.70" ry="0.64" transform="rotate(-0 397.6 504.5)"/><ellipse cx="398.7" cy="502.4" rx="0.79" ry="0.53" transform="rotate(-0 398.7 502.4)"/><ellipse cx="399.8" cy="504.8" rx="1.00" ry="0.56" transform="rotate(-0 399.8 504.8)"/><ellipse cx="400.9" cy="505.8" rx="1.02" ry="0.68" transform="rotate(-0 400.9 505.8)"/><ellipse cx="402.0" cy="504.4" rx="1.49" ry="0.88" transform="rotate(-0 402.0 504.4)"/><ellipse cx="403.1" cy="504.4" rx="1.25" ry="0.99" transform="rotate(-0 403.1 504.4)"/><ellipse cx="404.2" cy="505.2" rx="0.99" ry="0.59" transform="rotate(-0 404.2 505.2)"/><ellipse cx="405.3" cy="505.0" rx="0.61" ry="0.96" transform="rotate(-0 405.3 505.0)"/><ellipse cx="406.4" cy="502.7" rx="1.19" ry="0.63" transform="rotate(-0 406.4 502.7)"/><ellipse cx="407.5" cy="502.6" rx="0.72" ry="0.51" transform="rotate(-0 407.5 502.6)"/><ellipse cx="408.6" cy="504.7" rx="0.77" ry="0.82" transform="rotate(-0 408.6 504.7)"/><ellipse cx="409.7" cy="503.6" rx="1.43" ry="0.58" transform="rotate(-0 409.7 503.6)"/><ellipse cx="410.8" cy="505.1" rx="0.89" ry="0.59" transform="rotate(-0 410.8 505.1)"/><ellipse cx="411.9" cy="502.8" rx="0.89" ry="0.68" transform="rotate(-0 411.9 502.8)"/><ellipse cx="413.0" cy="503.0" rx="0.82" ry="0.52" transform="rotate(-0 413.0 503.0)"/><ellipse cx="414.1" cy="505.6" rx="1.17" ry="0.91" transform="rotate(-0 414.1 505.6)"/><ellipse cx="415.2" cy="506.3" rx="1.04" ry="0.75" transform="rotate(-0 415.2 506.3)"/><ellipse cx="416.3" cy="502.9" rx="0.87" ry="0.79" transform="rotate(-0 416.3 502.9)"/><ellipse cx="417.4" cy="504.0" rx="1.00" ry="0.98" transform="rotate(-0 417.4 504.0)"/><ellipse cx="418.6" cy="503.7" rx="0.64" ry="0.72" transform="rotate(-0 418.6 503.7)"/><ellipse cx="419.7" cy="504.2" rx="1.36" ry="0.93" transform="rotate(-0 419.7 504.2)"/><ellipse cx="420.8" cy="504.2" rx="0.98" ry="0.64" transform="rotate(-0 420.8 504.2)"/><ellipse cx="421.9" cy="503.2" rx="0.90" ry="0.72" transform="rotate(-0 421.9 503.2)"/><ellipse cx="423.0" cy="504.1" rx="1.34" ry="0.95" transform="rotate(-0 423.0 504.1)"/><ellipse cx="424.1" cy="503.9" rx="1.11" ry="0.67" transform="rotate(-0 424.1 503.9)"/><ellipse cx="425.2" cy="505.3" rx="0.68" ry="0.66" transform="rotate(-0 425.2 505.3)"/><ellipse cx="426.3" cy="506.4" rx="1.38" ry="0.99" transform="rotate(-0 426.3 506.4)"/><ellipse cx="428.5" cy="503.8" rx="1.33" ry="0.53" transform="rotate(-0 428.5 503.8)"/><ellipse cx="429.6" cy="503.6" rx="1.11" ry="0.98" transform="rotate(-0 429.6 503.6)"/><ellipse cx="430.7" cy="503.7" rx="1.18" ry="0.65" transform="rotate(-0 430.7 503.7)"/><ellipse cx="431.8" cy="504.4" rx="0.77" ry="0.84" transform="rotate(-0 431.8 504.4)"/><ellipse cx="432.9" cy="504.1" rx="0.68" ry="0.83" transform="rotate(-0 432.9 504.1)"/><ellipse cx="434.0" cy="503.3" rx="1.08" ry="0.78" transform="rotate(-0 434.0 503.3)"/><ellipse cx="435.1" cy="503.7" rx="0.70" ry="0.59" transform="rotate(-0 435.1 503.7)"/><ellipse cx="437.3" cy="505.7" rx="0.83" ry="0.55" transform="rotate(-0 437.3 505.7)"/><ellipse cx="438.4" cy="505.5" rx="0.83" ry="0.74" transform="rotate(-0 438.4 505.5)"/><ellipse cx="439.5" cy="504.4" rx="0.70" ry="0.76" transform="rotate(-0 439.5 504.4)"/><ellipse cx="440.7" cy="505.5" rx="0.67" ry="0.70" transform="rotate(-0 440.7 505.5)"/><ellipse cx="441.8" cy="502.3" rx="1.10" ry="0.86" transform="rotate(-0 441.8 502.3)"/><ellipse cx="442.9" cy="504.9" rx="0.70" ry="1.00" transform="rotate(-0 442.9 504.9)"/><ellipse cx="444.0" cy="505.7" rx="0.95" ry="0.59" transform="rotate(-0 444.0 505.7)"/><ellipse cx="446.2" cy="505.3" rx="1.30" ry="0.57" transform="rotate(-0 446.2 505.3)"/><ellipse cx="447.3" cy="504.9" rx="0.94" ry="0.51" transform="rotate(-0 447.3 504.9)"/><ellipse cx="448.4" cy="504.4" rx="0.79" ry="0.65" transform="rotate(-0 448.4 504.4)"/><ellipse cx="449.5" cy="502.3" rx="1.16" ry="0.94" transform="rotate(-0 449.5 502.3)"/><ellipse cx="450.6" cy="505.1" rx="1.43" ry="0.94" transform="rotate(-0 450.6 505.1)"/><ellipse cx="451.7" cy="504.1" rx="1.29" ry="0.84" transform="rotate(-0 451.7 504.1)"/><ellipse cx="452.8" cy="503.2" rx="0.71" ry="0.69" transform="rotate(-0 452.8 503.2)"/><ellipse cx="453.9" cy="505.7" rx="0.64" ry="0.80" transform="rotate(-0 453.9 505.7)"/><ellipse cx="455.0" cy="503.6" rx="1.09" ry="0.90" transform="rotate(-0 455.0 503.6)"/><ellipse cx="456.1" cy="505.5" rx="0.83" ry="0.60" transform="rotate(-0 456.1 505.5)"/><ellipse cx="457.2" cy="503.5" rx="1.35" ry="0.79" transform="rotate(-0 457.2 503.5)"/><ellipse cx="458.3" cy="504.6" rx="1.32" ry="0.59" transform="rotate(-0 458.3 504.6)"/><ellipse cx="459.4" cy="504.2" rx="0.86" ry="0.84" transform="rotate(-0 459.4 504.2)"/><ellipse cx="460.5" cy="505.4" rx="1.08" ry="0.84" transform="rotate(-0 460.5 505.4)"/><ellipse cx="461.7" cy="505.7" rx="1.45" ry="0.51" transform="rotate(-0 461.7 505.7)"/><ellipse cx="462.8" cy="504.8" rx="1.39" ry="0.90" transform="rotate(-0 462.8 504.8)"/><ellipse cx="463.9" cy="505.1" rx="0.76" ry="0.91" transform="rotate(-0 463.9 505.1)"/><ellipse cx="465.0" cy="503.2" rx="0.74" ry="0.92" transform="rotate(-0 465.0 503.2)"/><ellipse cx="466.1" cy="504.8" rx="1.39" ry="0.81" transform="rotate(-0 466.1 504.8)"/><ellipse cx="467.2" cy="503.8" rx="1.40" ry="0.79" transform="rotate(-0 467.2 503.8)"/><ellipse cx="468.3" cy="504.7" rx="0.75" ry="0.68" transform="rotate(-0 468.3 504.7)"/><ellipse cx="469.4" cy="503.2" rx="0.92" ry="0.50" transform="rotate(-0 469.4 503.2)"/><ellipse cx="470.5" cy="503.7" rx="0.90" ry="0.51" transform="rotate(-0 470.5 503.7)"/><ellipse cx="471.6" cy="504.4" rx="0.73" ry="0.84" transform="rotate(-0 471.6 504.4)"/><ellipse cx="472.7" cy="504.1" rx="0.85" ry="0.75" transform="rotate(-0 472.7 504.1)"/><ellipse cx="473.8" cy="503.0" rx="1.46" ry="1.00" transform="rotate(-0 473.8 503.0)"/><ellipse cx="474.9" cy="503.6" rx="1.10" ry="0.89" transform="rotate(-0 474.9 503.6)"/><ellipse cx="477.1" cy="503.2" rx="0.93" ry="0.64" transform="rotate(-0 477.1 503.2)"/><ellipse cx="478.2" cy="503.0" rx="1.39" ry="0.97" transform="rotate(-0 478.2 503.0)"/><ellipse cx="479.3" cy="503.5" rx="1.27" ry="0.75" transform="rotate(-0 479.3 503.5)"/><ellipse cx="480.4" cy="505.7" rx="0.92" ry="0.78" transform="rotate(-0 480.4 505.7)"/><ellipse cx="481.5" cy="504.9" rx="0.89" ry="0.99" transform="rotate(-0 481.5 504.9)"/><ellipse cx="482.6" cy="504.4" rx="0.93" ry="0.62" transform="rotate(-0 482.6 504.4)"/><ellipse cx="483.7" cy="503.8" rx="0.61" ry="0.94" transform="rotate(-0 483.7 503.8)"/><ellipse cx="484.9" cy="504.5" rx="1.00" ry="0.78" transform="rotate(-0 484.9 504.5)"/><ellipse cx="486.0" cy="504.3" rx="0.87" ry="0.65" transform="rotate(-0 486.0 504.3)"/><ellipse cx="487.1" cy="504.4" rx="1.10" ry="0.97" transform="rotate(-0 487.1 504.4)"/><ellipse cx="488.2" cy="505.2" rx="0.67" ry="0.59" transform="rotate(-0 488.2 505.2)"/><ellipse cx="489.3" cy="503.4" rx="1.49" ry="0.68" transform="rotate(-0 489.3 503.4)"/><ellipse cx="490.4" cy="502.3" rx="0.66" ry="0.74" transform="rotate(-0 490.4 502.3)"/><ellipse cx="492.6" cy="504.9" rx="0.83" ry="0.51" transform="rotate(-0 492.6 504.9)"/><ellipse cx="493.7" cy="503.9" rx="0.80" ry="0.70" transform="rotate(-0 493.7 503.9)"/><ellipse cx="494.8" cy="505.6" rx="1.14" ry="0.93" transform="rotate(-0 494.8 505.6)"/><ellipse cx="495.9" cy="504.6" rx="1.47" ry="0.80" transform="rotate(-0 495.9 504.6)"/><ellipse cx="497.0" cy="505.6" rx="1.33" ry="0.94" transform="rotate(-0 497.0 505.6)"/><ellipse cx="498.1" cy="504.5" rx="1.08" ry="0.94" transform="rotate(-0 498.1 504.5)"/><ellipse cx="499.2" cy="504.5" rx="1.43" ry="0.61" transform="rotate(-0 499.2 504.5)"/><ellipse cx="500.3" cy="504.0" rx="0.96" ry="0.84" transform="rotate(-0 500.3 504.0)"/><ellipse cx="501.4" cy="502.6" rx="0.65" ry="0.71" transform="rotate(-0 501.4 502.6)"/><ellipse cx="502.5" cy="503.4" rx="1.04" ry="0.80" transform="rotate(-0 502.5 503.4)"/><ellipse cx="503.6" cy="503.4" rx="1.02" ry="0.51" transform="rotate(-0 503.6 503.4)"/><ellipse cx="505.8" cy="504.4" rx="1.15" ry="0.86" transform="rotate(-0 505.8 504.4)"/><ellipse cx="507.0" cy="504.0" rx="0.68" ry="0.58" transform="rotate(-0 507.0 504.0)"/><ellipse cx="508.1" cy="504.1" rx="1.33" ry="0.71" transform="rotate(-0 508.1 504.1)"/><ellipse cx="509.2" cy="503.6" rx="1.13" ry="0.78" transform="rotate(-0 509.2 503.6)"/><ellipse cx="510.3" cy="503.3" rx="1.27" ry="0.63" transform="rotate(-0 510.3 503.3)"/><ellipse cx="511.4" cy="503.5" rx="1.29" ry="0.89" transform="rotate(-0 511.4 503.5)"/><ellipse cx="512.5" cy="504.4" rx="1.01" ry="0.64" transform="rotate(-0 512.5 504.4)"/><ellipse cx="513.6" cy="501.3" rx="1.45" ry="0.57" transform="rotate(-0 513.6 501.3)"/><ellipse cx="514.7" cy="502.6" rx="1.30" ry="0.68" transform="rotate(-0 514.7 502.6)"/><ellipse cx="516.9" cy="504.2" rx="1.28" ry="0.54" transform="rotate(-0 516.9 504.2)"/><circle cx="291.6" cy="497.6" r="0.54"/><circle cx="402.9" cy="502.7" r="0.63"/><circle cx="505.8" cy="500.4" r="0.60"/><circle cx="326.7" cy="504.9" r="1.15"/><circle cx="323.1" cy="496.3" r="1.04"/><circle cx="342.0" cy="507.8" r="0.85"/><circle cx="434.5" cy="500.1" r="1.06"/><circle cx="393.1" cy="499.9" r="1.13"/><circle cx="310.3" cy="504.8" r="0.55"/><circle cx="436.7" cy="500.8" r="1.10"/><circle cx="299.1" cy="502.8" r="0.79"/><circle cx="501.0" cy="507.3" r="0.94"/><circle cx="337.7" cy="499.0" r="0.68"/><circle cx="386.9" cy="498.8" r="0.64"/><circle cx="463.4" cy="503.7" r="0.71"/><circle cx="518.7" cy="498.6" r="0.90"/><circle cx="321.8" cy="506.4" r="1.11"/><circle cx="347.8" cy="505.0" r="1.08"/><circle cx="351.4" cy="500.0" r="0.84"/><circle cx="494.4" cy="497.9" r="0.98"/><circle cx="425.4" cy="501.4" r="0.91"/><circle cx="492.5" cy="498.5" r="1.12"/><circle cx="369.7" cy="505.4" r="1.10"/><circle cx="327.8" cy="506.4" r="1.20"/><circle cx="354.9" cy="496.3" r="0.58"/><circle cx="514.0" cy="496.1" r="1.14"/><circle cx="320.4" cy="504.8" r="0.57"/><circle cx="324.7" cy="504.2" r="0.56"/><circle cx="364.8" cy="507.0" r="1.00"/><circle cx="492.3" cy="507.8" r="0.52"/><circle cx="340.1" cy="505.5" r="0.98"/><circle cx="293.9" cy="502.1" r="0.66"/><circle cx="386.2" cy="497.3" r="0.51"/><circle cx="517.8" cy="499.8" r="1.12"/><circle cx="313.3" cy="501.8" r="0.60"/><circle cx="385.7" cy="498.1" r="0.98"/><circle cx="319.8" cy="504.9" r="0.85"/><circle cx="311.4" cy="500.2" r="0.85"/><circle cx="500.9" cy="500.2" r="0.65"/><circle cx="512.4" cy="506.6" r="1.01"/><circle cx="349.1" cy="498.1" r="0.69"/><circle cx="301.2" cy="496.5" r="0.86"/><circle cx="380.9" cy="502.7" r="0.75"/><circle cx="287.5" cy="504.3" r="0.96"/><circle cx="412.8" cy="502.6" r="0.98"/><circle cx="515.9" cy="506.5" r="1.00"/><circle cx="378.8" cy="499.8" r="0.79"/><circle cx="513.6" cy="500.6" r="0.77"/><circle cx="381.3" cy="497.7" r="1.20"/><circle cx="286.2" cy="503.3" r="1.15"/><circle cx="344.8" cy="503.3" r="0.76"/><circle cx="341.6" cy="498.4" r="0.58"/><circle cx="483.1" cy="505.4" r="1.14"/><circle cx="296.6" cy="504.3" r="0.73"/><circle cx="436.9" cy="502.6" r="0.72"/><circle cx="513.3" cy="496.0" r="1.02"/><circle cx="485.6" cy="502.1" r="0.91"/><circle cx="518.8" cy="498.8" r="0.94"/><circle cx="459.7" cy="500.5" r="1.00"/><circle cx="377.5" cy="502.3" r="0.93"/><circle cx="444.1" cy="499.9" r="0.94"/><circle cx="412.6" cy="498.7" r="0.93"/><circle cx="347.3" cy="506.9" r="0.83"/><circle cx="454.6" cy="502.3" r="0.83"/><circle cx="337.0" cy="497.7" r="1.15"/><circle cx="409.3" cy="502.3" r="0.87"/><circle cx="476.1" cy="498.9" r="0.62"/><circle cx="478.1" cy="501.5" r="0.95"/><circle cx="479.4" cy="506.7" r="1.11"/><circle cx="295.2" cy="500.6" r="1.08"/><circle cx="477.2" cy="497.5" r="0.61"/><circle cx="344.1" cy="497.2" r="0.75"/><circle cx="473.8" cy="502.3" r="0.82"/><circle cx="305.7" cy="500.7" r="1.20"/><circle cx="448.3" cy="501.4" r="0.83"/><circle cx="472.6" cy="505.1" r="0.60"/><circle cx="444.8" cy="500.4" r="0.86"/><circle cx="340.8" cy="500.4" r="0.74"/><circle cx="374.6" cy="496.2" r="0.64"/><circle cx="419.1" cy="496.7" r="0.62"/><circle cx="453.8" cy="499.3" r="0.73"/><circle cx="341.8" cy="506.0" r="0.56"/><circle cx="434.5" cy="506.3" r="0.64"/><circle cx="384.4" cy="505.5" r="0.93"/><circle cx="372.3" cy="496.5" r="0.81"/><circle cx="371.3" cy="504.6" r="0.71"/><circle cx="380.9" cy="503.8" r="1.07"/><circle cx="367.8" cy="500.6" r="0.91"/><circle cx="502.3" cy="498.3" r="1.18"/><circle cx="452.3" cy="500.5" r="0.97"/><circle cx="362.4" cy="496.8" r="1.03"/><circle cx="374.2" cy="502.3" r="0.85"/><circle cx="496.8" cy="505.1" r="0.52"/><circle cx="424.3" cy="501.6" r="0.82"/><circle cx="482.3" cy="501.0" r="0.83"/><ellipse cx="321.3" cy="504.0" rx="1.34" ry="0.77" transform="rotate(-2 321.3 504.0)"/><ellipse cx="322.6" cy="505.0" rx="0.96" ry="0.52" transform="rotate(-2 322.6 505.0)"/><ellipse cx="323.9" cy="503.6" rx="1.29" ry="0.55" transform="rotate(-2 323.9 503.6)"/><ellipse cx="325.2" cy="504.3" rx="0.67" ry="0.83" transform="rotate(-2 325.2 504.3)"/><ellipse cx="326.5" cy="505.9" rx="1.11" ry="0.52" transform="rotate(-2 326.5 505.9)"/><ellipse cx="327.8" cy="505.4" rx="1.24" ry="0.69" transform="rotate(-2 327.8 505.4)"/><ellipse cx="329.1" cy="504.3" rx="1.13" ry="0.90" transform="rotate(-2 329.1 504.3)"/><ellipse cx="333.0" cy="503.7" rx="0.90" ry="0.71" transform="rotate(-2 333.0 503.7)"/><ellipse cx="334.3" cy="505.1" rx="0.84" ry="0.63" transform="rotate(-2 334.3 505.1)"/><ellipse cx="335.6" cy="504.4" rx="1.37" ry="0.72" transform="rotate(-2 335.6 504.4)"/><ellipse cx="336.9" cy="504.1" rx="0.87" ry="0.85" transform="rotate(-2 336.9 504.1)"/><ellipse cx="340.8" cy="504.3" rx="0.78" ry="0.52" transform="rotate(-2 340.8 504.3)"/><ellipse cx="342.1" cy="503.5" rx="1.04" ry="0.73" transform="rotate(-2 342.1 503.5)"/><ellipse cx="343.4" cy="504.7" rx="1.32" ry="0.58" transform="rotate(-2 343.4 504.7)"/><ellipse cx="328.0" cy="517.6" rx="1.23" ry="0.80" transform="rotate(-0 328.0 517.6)"/><ellipse cx="329.0" cy="517.2" rx="1.02" ry="0.74" transform="rotate(-0 329.0 517.2)"/><ellipse cx="330.0" cy="516.7" rx="1.50" ry="0.90" transform="rotate(-0 330.0 516.7)"/><ellipse cx="331.0" cy="518.1" rx="1.63" ry="0.82" transform="rotate(-0 331.0 518.1)"/><ellipse cx="332.0" cy="517.7" rx="1.34" ry="0.62" transform="rotate(-0 332.0 517.7)"/><ellipse cx="333.0" cy="517.2" rx="0.77" ry="0.90" transform="rotate(-0 333.0 517.2)"/><ellipse cx="334.0" cy="517.8" rx="1.50" ry="0.85" transform="rotate(-0 334.0 517.8)"/><ellipse cx="335.0" cy="516.5" rx="1.37" ry="0.75" transform="rotate(-0 335.0 516.5)"/><ellipse cx="336.0" cy="517.2" rx="1.62" ry="0.70" transform="rotate(-0 336.0 517.2)"/><ellipse cx="337.0" cy="516.6" rx="0.80" ry="0.99" transform="rotate(-0 337.0 516.6)"/><ellipse cx="339.0" cy="516.7" rx="1.61" ry="0.94" transform="rotate(-0 339.0 516.7)"/><ellipse cx="340.0" cy="516.5" rx="0.76" ry="0.95" transform="rotate(-0 340.0 516.5)"/><ellipse cx="341.0" cy="517.2" rx="0.93" ry="0.89" transform="rotate(-0 341.0 517.2)"/><ellipse cx="342.0" cy="516.4" rx="1.26" ry="0.68" transform="rotate(-0 342.0 516.4)"/><ellipse cx="343.0" cy="516.3" rx="0.85" ry="1.00" transform="rotate(-0 343.0 516.3)"/><ellipse cx="345.0" cy="518.1" rx="0.73" ry="0.79" transform="rotate(-0 345.0 518.1)"/><ellipse cx="346.0" cy="517.1" rx="0.79" ry="0.83" transform="rotate(-0 346.0 517.1)"/><ellipse cx="347.0" cy="517.8" rx="1.13" ry="0.94" transform="rotate(-0 347.0 517.8)"/><ellipse cx="348.0" cy="517.1" rx="1.62" ry="1.10" transform="rotate(-0 348.0 517.1)"/><ellipse cx="349.0" cy="516.6" rx="1.23" ry="0.75" transform="rotate(-0 349.0 516.6)"/><ellipse cx="350.0" cy="516.9" rx="1.63" ry="0.65" transform="rotate(-0 350.0 516.9)"/><ellipse cx="351.0" cy="516.1" rx="1.56" ry="0.90" transform="rotate(-0 351.0 516.1)"/><ellipse cx="352.0" cy="517.2" rx="0.97" ry="1.05" transform="rotate(-0 352.0 517.2)"/><ellipse cx="353.0" cy="517.1" rx="0.93" ry="1.06" transform="rotate(-0 353.0 517.1)"/><ellipse cx="354.0" cy="515.4" rx="1.04" ry="1.07" transform="rotate(-0 354.0 515.4)"/><ellipse cx="355.0" cy="515.8" rx="0.75" ry="0.77" transform="rotate(-0 355.0 515.8)"/><ellipse cx="356.0" cy="516.9" rx="0.88" ry="0.99" transform="rotate(-0 356.0 516.9)"/><ellipse cx="357.0" cy="518.0" rx="0.77" ry="0.88" transform="rotate(-0 357.0 518.0)"/><ellipse cx="358.0" cy="515.7" rx="1.30" ry="0.83" transform="rotate(-0 358.0 515.7)"/><ellipse cx="359.0" cy="516.5" rx="1.21" ry="0.65" transform="rotate(-0 359.0 516.5)"/><ellipse cx="360.0" cy="517.5" rx="1.05" ry="0.79" transform="rotate(-0 360.0 517.5)"/><ellipse cx="361.0" cy="517.5" rx="0.86" ry="0.68" transform="rotate(-0 361.0 517.5)"/><ellipse cx="362.0" cy="516.2" rx="1.57" ry="0.84" transform="rotate(-0 362.0 516.2)"/><ellipse cx="363.0" cy="518.0" rx="0.79" ry="1.04" transform="rotate(-0 363.0 518.0)"/><ellipse cx="364.0" cy="516.0" rx="0.82" ry="0.83" transform="rotate(-0 364.0 516.0)"/><ellipse cx="365.0" cy="516.8" rx="1.24" ry="0.85" transform="rotate(-0 365.0 516.8)"/><ellipse cx="366.0" cy="517.0" rx="0.90" ry="0.66" transform="rotate(-0 366.0 517.0)"/><ellipse cx="367.0" cy="517.5" rx="1.57" ry="0.85" transform="rotate(-0 367.0 517.5)"/><ellipse cx="368.0" cy="518.5" rx="1.19" ry="1.00" transform="rotate(-0 368.0 518.5)"/><ellipse cx="369.0" cy="517.0" rx="1.39" ry="0.71" transform="rotate(-0 369.0 517.0)"/><ellipse cx="370.0" cy="517.1" rx="0.73" ry="0.80" transform="rotate(-0 370.0 517.1)"/><ellipse cx="371.0" cy="517.2" rx="0.99" ry="1.05" transform="rotate(-0 371.0 517.2)"/><ellipse cx="372.0" cy="516.3" rx="1.30" ry="0.99" transform="rotate(-0 372.0 516.3)"/><ellipse cx="373.0" cy="516.5" rx="0.76" ry="0.72" transform="rotate(-0 373.0 516.5)"/><ellipse cx="374.0" cy="517.0" rx="1.32" ry="0.95" transform="rotate(-0 374.0 517.0)"/><ellipse cx="375.0" cy="516.7" rx="1.04" ry="1.01" transform="rotate(-0 375.0 516.7)"/><ellipse cx="376.0" cy="516.9" rx="1.64" ry="0.81" transform="rotate(-0 376.0 516.9)"/><ellipse cx="377.0" cy="516.7" rx="0.79" ry="0.72" transform="rotate(-0 377.0 516.7)"/><ellipse cx="378.0" cy="516.6" rx="1.04" ry="0.67" transform="rotate(-0 378.0 516.6)"/><ellipse cx="379.0" cy="516.4" rx="0.92" ry="0.77" transform="rotate(-0 379.0 516.4)"/><ellipse cx="382.0" cy="515.9" rx="1.48" ry="1.05" transform="rotate(-0 382.0 515.9)"/><ellipse cx="383.0" cy="516.8" rx="1.34" ry="0.70" transform="rotate(-0 383.0 516.8)"/><ellipse cx="384.0" cy="517.4" rx="0.79" ry="0.96" transform="rotate(-0 384.0 517.4)"/><ellipse cx="385.0" cy="515.7" rx="0.86" ry="1.08" transform="rotate(-0 385.0 515.7)"/><ellipse cx="386.0" cy="516.7" rx="1.53" ry="1.07" transform="rotate(-0 386.0 516.7)"/><ellipse cx="387.0" cy="516.3" rx="1.44" ry="1.02" transform="rotate(-0 387.0 516.3)"/><ellipse cx="388.0" cy="516.1" rx="1.53" ry="0.99" transform="rotate(-0 388.0 516.1)"/><ellipse cx="389.0" cy="516.3" rx="1.00" ry="1.08" transform="rotate(-0 389.0 516.3)"/><ellipse cx="390.0" cy="517.0" rx="1.67" ry="0.99" transform="rotate(-0 390.0 517.0)"/><ellipse cx="391.0" cy="516.6" rx="1.54" ry="0.72" transform="rotate(-0 391.0 516.6)"/><ellipse cx="392.0" cy="516.2" rx="1.19" ry="1.05" transform="rotate(-0 392.0 516.2)"/><ellipse cx="393.0" cy="516.8" rx="1.41" ry="0.80" transform="rotate(-0 393.0 516.8)"/><ellipse cx="394.0" cy="517.0" rx="1.64" ry="1.01" transform="rotate(-0 394.0 517.0)"/><ellipse cx="395.0" cy="515.6" rx="0.79" ry="0.93" transform="rotate(-0 395.0 515.6)"/><ellipse cx="396.0" cy="516.2" rx="1.54" ry="1.00" transform="rotate(-0 396.0 516.2)"/><ellipse cx="397.0" cy="517.5" rx="1.19" ry="0.61" transform="rotate(-0 397.0 517.5)"/><ellipse cx="398.0" cy="516.9" rx="1.30" ry="0.83" transform="rotate(-0 398.0 516.9)"/><ellipse cx="399.0" cy="516.0" rx="0.91" ry="0.78" transform="rotate(-0 399.0 516.0)"/><ellipse cx="400.0" cy="516.2" rx="0.79" ry="0.74" transform="rotate(-0 400.0 516.2)"/><ellipse cx="401.0" cy="516.2" rx="1.14" ry="0.93" transform="rotate(-0 401.0 516.2)"/><ellipse cx="402.0" cy="517.4" rx="0.74" ry="1.01" transform="rotate(-0 402.0 517.4)"/><ellipse cx="403.0" cy="517.4" rx="0.97" ry="1.08" transform="rotate(-0 403.0 517.4)"/><ellipse cx="404.0" cy="516.9" rx="1.31" ry="1.05" transform="rotate(-0 404.0 516.9)"/><ellipse cx="405.0" cy="518.1" rx="1.20" ry="1.08" transform="rotate(-0 405.0 518.1)"/><ellipse cx="406.0" cy="517.1" rx="1.53" ry="0.68" transform="rotate(-0 406.0 517.1)"/><ellipse cx="407.0" cy="516.6" rx="0.70" ry="0.69" transform="rotate(-0 407.0 516.6)"/><ellipse cx="408.0" cy="515.4" rx="0.95" ry="0.78" transform="rotate(-0 408.0 515.4)"/><ellipse cx="409.0" cy="517.0" rx="1.25" ry="1.03" transform="rotate(-0 409.0 517.0)"/><ellipse cx="410.0" cy="515.4" rx="1.59" ry="0.93" transform="rotate(-0 410.0 515.4)"/><ellipse cx="411.0" cy="517.7" rx="1.32" ry="0.82" transform="rotate(-0 411.0 517.7)"/><ellipse cx="413.0" cy="516.1" rx="1.08" ry="0.86" transform="rotate(-0 413.0 516.1)"/><ellipse cx="414.0" cy="515.7" rx="1.61" ry="0.85" transform="rotate(-0 414.0 515.7)"/><ellipse cx="415.0" cy="516.8" rx="1.53" ry="0.94" transform="rotate(-0 415.0 516.8)"/><ellipse cx="416.0" cy="516.5" rx="1.15" ry="0.98" transform="rotate(-0 416.0 516.5)"/><ellipse cx="417.0" cy="516.4" rx="0.74" ry="0.76" transform="rotate(-0 417.0 516.4)"/><ellipse cx="418.0" cy="515.4" rx="1.65" ry="1.05" transform="rotate(-0 418.0 515.4)"/><ellipse cx="419.0" cy="515.8" rx="0.75" ry="0.80" transform="rotate(-0 419.0 515.8)"/><ellipse cx="420.0" cy="516.1" rx="1.34" ry="0.74" transform="rotate(-0 420.0 516.1)"/><ellipse cx="421.0" cy="516.3" rx="1.12" ry="1.09" transform="rotate(-0 421.0 516.3)"/><ellipse cx="422.0" cy="517.4" rx="1.50" ry="0.94" transform="rotate(-0 422.0 517.4)"/><ellipse cx="423.0" cy="517.6" rx="1.39" ry="0.74" transform="rotate(-0 423.0 517.6)"/><ellipse cx="424.0" cy="516.3" rx="1.28" ry="1.01" transform="rotate(-0 424.0 516.3)"/><ellipse cx="425.0" cy="516.3" rx="1.22" ry="1.04" transform="rotate(-0 425.0 516.3)"/><ellipse cx="426.0" cy="516.8" rx="1.44" ry="0.69" transform="rotate(-0 426.0 516.8)"/><ellipse cx="427.0" cy="517.1" rx="1.08" ry="1.08" transform="rotate(-0 427.0 517.1)"/><ellipse cx="429.0" cy="516.7" rx="1.01" ry="1.07" transform="rotate(-0 429.0 516.7)"/><ellipse cx="430.0" cy="516.2" rx="0.81" ry="0.73" transform="rotate(-0 430.0 516.2)"/><ellipse cx="431.0" cy="517.2" rx="1.09" ry="1.08" transform="rotate(-0 431.0 517.2)"/><ellipse cx="432.0" cy="516.9" rx="1.15" ry="1.02" transform="rotate(-0 432.0 516.9)"/><ellipse cx="433.0" cy="517.9" rx="1.48" ry="0.76" transform="rotate(-0 433.0 517.9)"/><ellipse cx="434.0" cy="516.5" rx="1.26" ry="0.94" transform="rotate(-0 434.0 516.5)"/><ellipse cx="435.0" cy="515.7" rx="0.98" ry="0.78" transform="rotate(-0 435.0 515.7)"/><ellipse cx="436.0" cy="515.9" rx="1.33" ry="0.73" transform="rotate(-0 436.0 515.9)"/><ellipse cx="437.0" cy="516.4" rx="0.74" ry="1.01" transform="rotate(-0 437.0 516.4)"/><ellipse cx="438.0" cy="515.4" rx="0.97" ry="0.72" transform="rotate(-0 438.0 515.4)"/><ellipse cx="439.0" cy="517.8" rx="1.25" ry="0.98" transform="rotate(-0 439.0 517.8)"/><ellipse cx="440.0" cy="515.4" rx="0.81" ry="0.75" transform="rotate(-0 440.0 515.4)"/><ellipse cx="441.0" cy="517.1" rx="1.67" ry="0.92" transform="rotate(-0 441.0 517.1)"/><ellipse cx="442.0" cy="516.5" rx="1.64" ry="0.97" transform="rotate(-0 442.0 516.5)"/><ellipse cx="443.0" cy="515.7" rx="1.09" ry="1.00" transform="rotate(-0 443.0 515.7)"/><ellipse cx="444.0" cy="517.0" rx="1.23" ry="0.86" transform="rotate(-0 444.0 517.0)"/><ellipse cx="445.0" cy="517.7" rx="1.60" ry="0.67" transform="rotate(-0 445.0 517.7)"/><ellipse cx="446.0" cy="517.1" rx="1.20" ry="1.03" transform="rotate(-0 446.0 517.1)"/><ellipse cx="447.0" cy="516.7" rx="1.28" ry="0.80" transform="rotate(-0 447.0 516.7)"/><ellipse cx="448.0" cy="516.2" rx="1.49" ry="1.02" transform="rotate(-0 448.0 516.2)"/><ellipse cx="449.0" cy="517.7" rx="1.37" ry="0.98" transform="rotate(-0 449.0 517.7)"/><ellipse cx="450.0" cy="517.6" rx="1.44" ry="1.01" transform="rotate(-0 450.0 517.6)"/><ellipse cx="451.0" cy="515.5" rx="1.58" ry="0.67" transform="rotate(-0 451.0 515.5)"/><ellipse cx="452.0" cy="516.1" rx="0.98" ry="0.63" transform="rotate(-0 452.0 516.1)"/><ellipse cx="453.0" cy="515.5" rx="1.52" ry="0.74" transform="rotate(-0 453.0 515.5)"/><ellipse cx="454.0" cy="516.4" rx="1.38" ry="1.09" transform="rotate(-0 454.0 516.4)"/><ellipse cx="455.0" cy="516.7" rx="1.06" ry="0.95" transform="rotate(-0 455.0 516.7)"/><ellipse cx="456.0" cy="516.7" rx="0.70" ry="0.91" transform="rotate(-0 456.0 516.7)"/><ellipse cx="457.0" cy="515.8" rx="0.98" ry="0.63" transform="rotate(-0 457.0 515.8)"/><ellipse cx="458.0" cy="515.2" rx="0.74" ry="1.01" transform="rotate(-0 458.0 515.2)"/><ellipse cx="459.0" cy="515.9" rx="0.92" ry="0.91" transform="rotate(-0 459.0 515.9)"/><ellipse cx="460.0" cy="515.9" rx="0.92" ry="1.00" transform="rotate(-0 460.0 515.9)"/><ellipse cx="461.0" cy="517.1" rx="1.54" ry="1.00" transform="rotate(-0 461.0 517.1)"/><ellipse cx="462.0" cy="517.5" rx="0.73" ry="0.85" transform="rotate(-0 462.0 517.5)"/><ellipse cx="463.0" cy="516.6" rx="0.76" ry="0.92" transform="rotate(-0 463.0 516.6)"/><ellipse cx="464.0" cy="515.7" rx="1.21" ry="0.89" transform="rotate(-0 464.0 515.7)"/><ellipse cx="465.0" cy="516.0" rx="1.57" ry="1.10" transform="rotate(-0 465.0 516.0)"/><ellipse cx="466.0" cy="516.9" rx="1.69" ry="0.64" transform="rotate(-0 466.0 516.9)"/><ellipse cx="467.0" cy="516.2" rx="0.83" ry="0.83" transform="rotate(-0 467.0 516.2)"/><ellipse cx="468.0" cy="516.1" rx="1.04" ry="0.69" transform="rotate(-0 468.0 516.1)"/><ellipse cx="469.0" cy="515.6" rx="0.98" ry="0.70" transform="rotate(-0 469.0 515.6)"/><ellipse cx="470.0" cy="515.5" rx="0.90" ry="0.95" transform="rotate(-0 470.0 515.5)"/><ellipse cx="471.0" cy="516.2" rx="0.97" ry="0.88" transform="rotate(-0 471.0 516.2)"/><ellipse cx="472.0" cy="517.4" rx="1.65" ry="1.06" transform="rotate(-0 472.0 517.4)"/><ellipse cx="473.0" cy="516.1" rx="1.42" ry="0.63" transform="rotate(-0 473.0 516.1)"/><ellipse cx="474.0" cy="517.7" rx="1.42" ry="0.92" transform="rotate(-0 474.0 517.7)"/><ellipse cx="475.0" cy="516.4" rx="1.06" ry="0.68" transform="rotate(-0 475.0 516.4)"/><ellipse cx="476.0" cy="516.9" rx="0.74" ry="0.69" transform="rotate(-0 476.0 516.9)"/><ellipse cx="477.0" cy="516.2" rx="1.60" ry="1.00" transform="rotate(-0 477.0 516.2)"/><ellipse cx="478.0" cy="516.5" rx="0.85" ry="0.99" transform="rotate(-0 478.0 516.5)"/><ellipse cx="479.0" cy="516.5" rx="1.69" ry="1.06" transform="rotate(-0 479.0 516.5)"/><ellipse cx="480.0" cy="515.0" rx="0.83" ry="0.65" transform="rotate(-0 480.0 515.0)"/><ellipse cx="481.0" cy="516.4" rx="1.21" ry="0.70" transform="rotate(-0 481.0 516.4)"/><ellipse cx="482.0" cy="517.8" rx="1.41" ry="1.07" transform="rotate(-0 482.0 517.8)"/><ellipse cx="484.0" cy="516.4" rx="1.43" ry="0.79" transform="rotate(-0 484.0 516.4)"/><ellipse cx="485.0" cy="516.4" rx="0.71" ry="0.71" transform="rotate(-0 485.0 516.4)"/><ellipse cx="486.0" cy="515.9" rx="1.08" ry="0.60" transform="rotate(-0 486.0 515.9)"/><ellipse cx="487.0" cy="516.4" rx="0.74" ry="1.04" transform="rotate(-0 487.0 516.4)"/><ellipse cx="488.0" cy="515.4" rx="0.77" ry="0.76" transform="rotate(-0 488.0 515.4)"/><ellipse cx="489.0" cy="516.8" rx="1.34" ry="0.70" transform="rotate(-0 489.0 516.8)"/><ellipse cx="490.0" cy="515.7" rx="1.61" ry="0.79" transform="rotate(-0 490.0 515.7)"/><ellipse cx="491.0" cy="515.9" rx="0.90" ry="0.83" transform="rotate(-0 491.0 515.9)"/><ellipse cx="492.0" cy="516.0" rx="1.34" ry="0.95" transform="rotate(-0 492.0 516.0)"/><ellipse cx="493.0" cy="517.2" rx="0.75" ry="0.84" transform="rotate(-0 493.0 517.2)"/><ellipse cx="494.0" cy="516.6" rx="1.37" ry="0.96" transform="rotate(-0 494.0 516.6)"/><ellipse cx="495.0" cy="515.5" rx="1.17" ry="0.67" transform="rotate(-0 495.0 515.5)"/><ellipse cx="496.0" cy="515.3" rx="1.30" ry="0.63" transform="rotate(-0 496.0 515.3)"/><ellipse cx="497.0" cy="516.7" rx="1.09" ry="0.99" transform="rotate(-0 497.0 516.7)"/><ellipse cx="498.0" cy="516.1" rx="1.33" ry="0.97" transform="rotate(-0 498.0 516.1)"/><ellipse cx="499.0" cy="517.7" rx="1.50" ry="0.62" transform="rotate(-0 499.0 517.7)"/><ellipse cx="500.0" cy="517.2" rx="0.94" ry="1.07" transform="rotate(-0 500.0 517.2)"/><ellipse cx="501.0" cy="515.4" rx="1.34" ry="1.06" transform="rotate(-0 501.0 515.4)"/><ellipse cx="502.0" cy="514.7" rx="0.85" ry="0.61" transform="rotate(-0 502.0 514.7)"/><ellipse cx="503.0" cy="517.6" rx="1.41" ry="0.69" transform="rotate(-0 503.0 517.6)"/><ellipse cx="504.0" cy="517.3" rx="0.86" ry="0.86" transform="rotate(-0 504.0 517.3)"/><ellipse cx="505.0" cy="516.5" rx="1.62" ry="0.60" transform="rotate(-0 505.0 516.5)"/><ellipse cx="506.0" cy="514.7" rx="1.26" ry="1.01" transform="rotate(-0 506.0 514.7)"/><ellipse cx="507.0" cy="515.4" rx="1.50" ry="0.64" transform="rotate(-0 507.0 515.4)"/><ellipse cx="508.0" cy="515.5" rx="1.25" ry="0.75" transform="rotate(-0 508.0 515.5)"/><ellipse cx="509.0" cy="517.3" rx="0.72" ry="1.01" transform="rotate(-0 509.0 517.3)"/><ellipse cx="510.0" cy="516.2" rx="1.16" ry="0.66" transform="rotate(-0 510.0 516.2)"/><ellipse cx="511.0" cy="516.3" rx="0.81" ry="1.09" transform="rotate(-0 511.0 516.3)"/><ellipse cx="512.0" cy="516.8" rx="1.05" ry="0.65" transform="rotate(-0 512.0 516.8)"/><ellipse cx="513.0" cy="516.9" rx="0.80" ry="0.78" transform="rotate(-0 513.0 516.9)"/><ellipse cx="514.0" cy="515.0" rx="1.46" ry="0.67" transform="rotate(-0 514.0 515.0)"/><ellipse cx="515.0" cy="517.3" rx="0.71" ry="0.64" transform="rotate(-0 515.0 517.3)"/><ellipse cx="516.0" cy="515.9" rx="1.39" ry="0.90" transform="rotate(-0 516.0 515.9)"/><ellipse cx="517.0" cy="515.4" rx="1.31" ry="0.92" transform="rotate(-0 517.0 515.4)"/><ellipse cx="518.0" cy="516.3" rx="1.43" ry="1.00" transform="rotate(-0 518.0 516.3)"/><ellipse cx="519.0" cy="516.6" rx="0.73" ry="0.94" transform="rotate(-0 519.0 516.6)"/><ellipse cx="520.0" cy="515.1" rx="1.13" ry="1.04" transform="rotate(-0 520.0 515.1)"/><ellipse cx="521.0" cy="516.8" rx="1.41" ry="0.73" transform="rotate(-0 521.0 516.8)"/><ellipse cx="522.0" cy="515.8" rx="1.05" ry="0.76" transform="rotate(-0 522.0 515.8)"/><ellipse cx="523.0" cy="514.2" rx="1.35" ry="1.07" transform="rotate(-0 523.0 514.2)"/><ellipse cx="524.0" cy="516.7" rx="1.54" ry="1.10" transform="rotate(-0 524.0 516.7)"/><ellipse cx="525.0" cy="515.9" rx="1.11" ry="0.61" transform="rotate(-0 525.0 515.9)"/><ellipse cx="526.0" cy="516.5" rx="1.59" ry="1.06" transform="rotate(-0 526.0 516.5)"/><ellipse cx="527.0" cy="516.2" rx="1.59" ry="1.00" transform="rotate(-0 527.0 516.2)"/><ellipse cx="528.0" cy="514.8" rx="0.80" ry="1.01" transform="rotate(-0 528.0 514.8)"/><ellipse cx="529.0" cy="515.5" rx="1.24" ry="1.08" transform="rotate(-0 529.0 515.5)"/><circle cx="349.3" cy="524.9" r="0.95"/><circle cx="394.6" cy="530.2" r="0.79"/><circle cx="439.7" cy="527.0" r="1.18"/><circle cx="340.8" cy="520.8" r="0.70"/><circle cx="438.8" cy="518.2" r="0.68"/><circle cx="415.9" cy="530.9" r="0.62"/><circle cx="382.6" cy="526.9" r="0.98"/><circle cx="419.5" cy="527.8" r="0.67"/><circle cx="360.9" cy="518.4" r="0.98"/><circle cx="355.1" cy="521.4" r="1.18"/><circle cx="407.2" cy="525.7" r="0.96"/><circle cx="401.7" cy="527.0" r="0.71"/><circle cx="337.7" cy="518.9" r="0.51"/><circle cx="373.4" cy="519.8" r="0.58"/><circle cx="389.2" cy="530.6" r="0.98"/><circle cx="362.8" cy="528.0" r="0.62"/><circle cx="342.0" cy="521.9" r="0.79"/><circle cx="412.7" cy="523.8" r="1.01"/><circle cx="341.4" cy="530.1" r="0.74"/><circle cx="429.9" cy="518.4" r="1.08"/><circle cx="357.2" cy="529.1" r="1.06"/><circle cx="410.5" cy="521.6" r="0.51"/><circle cx="352.8" cy="529.8" r="0.61"/><circle cx="409.1" cy="525.6" r="0.96"/><circle cx="351.7" cy="519.9" r="0.57"/><circle cx="447.9" cy="523.0" r="0.96"/><circle cx="398.4" cy="520.9" r="0.55"/><circle cx="331.8" cy="529.1" r="0.59"/><circle cx="445.6" cy="522.7" r="1.01"/><circle cx="346.6" cy="528.2" r="0.68"/><circle cx="373.9" cy="524.8" r="0.58"/><circle cx="359.8" cy="528.3" r="0.70"/><circle cx="375.7" cy="527.9" r="0.66"/><circle cx="353.3" cy="520.8" r="0.77"/><circle cx="373.8" cy="526.3" r="0.83"/><circle cx="434.4" cy="518.7" r="0.96"/><circle cx="430.4" cy="521.1" r="0.52"/><circle cx="382.6" cy="519.5" r="0.82"/><circle cx="415.4" cy="519.2" r="0.58"/><circle cx="387.5" cy="520.3" r="0.66"/><circle cx="382.8" cy="519.5" r="0.55"/><circle cx="373.3" cy="524.1" r="1.16"/><circle cx="396.6" cy="518.9" r="0.66"/><circle cx="419.3" cy="525.3" r="1.11"/><circle cx="445.5" cy="529.2" r="0.58"/><circle cx="443.2" cy="524.8" r="0.67"/><circle cx="350.5" cy="529.2" r="0.65"/><circle cx="340.0" cy="521.4" r="1.15"/><circle cx="385.3" cy="527.5" r="0.55"/><circle cx="384.4" cy="522.1" r="0.64"/><circle cx="409.6" cy="522.7" r="0.58"/><circle cx="448.1" cy="524.3" r="0.63"/><circle cx="331.3" cy="526.5" r="0.86"/><circle cx="332.9" cy="524.1" r="1.02"/><circle cx="394.5" cy="521.0" r="0.85"/><circle cx="402.6" cy="526.5" r="0.60"/><circle cx="426.4" cy="530.3" r="1.02"/><circle cx="432.9" cy="522.8" r="1.13"/><circle cx="351.8" cy="520.9" r="0.92"/><circle cx="438.2" cy="519.1" r="0.65"/><circle cx="332.5" cy="520.2" r="0.60"/><circle cx="343.4" cy="521.7" r="0.91"/><circle cx="395.8" cy="520.0" r="0.98"/><circle cx="330.9" cy="522.7" r="0.66"/><circle cx="363.4" cy="520.6" r="1.16"/><circle cx="364.4" cy="523.0" r="0.93"/><circle cx="345.1" cy="522.2" r="0.64"/><circle cx="400.0" cy="520.3" r="0.66"/><circle cx="397.3" cy="519.6" r="0.78"/><circle cx="354.0" cy="521.3" r="0.52"/><circle cx="356.2" cy="518.8" r="1.08"/><circle cx="330.0" cy="521.0" r="0.68"/><circle cx="361.8" cy="520.8" r="1.00"/><circle cx="339.6" cy="519.2" r="0.58"/><circle cx="397.2" cy="518.7" r="0.60"/><circle cx="366.6" cy="520.9" r="1.12"/><circle cx="334.0" cy="519.2" r="0.62"/><circle cx="371.0" cy="520.3" r="0.79"/><circle cx="392.2" cy="521.3" r="1.10"/><circle cx="397.0" cy="519.3" r="1.16"/><circle cx="358.5" cy="518.3" r="1.14"/><circle cx="337.3" cy="518.1" r="0.70"/><circle cx="350.2" cy="522.8" r="1.11"/><circle cx="359.4" cy="520.6" r="1.09"/><circle cx="386.5" cy="521.3" r="0.86"/><circle cx="338.2" cy="519.2" r="0.96"/><circle cx="371.0" cy="522.0" r="1.13"/><circle cx="397.4" cy="519.0" r="0.55"/><circle cx="392.8" cy="520.9" r="0.63"/><circle cx="378.4" cy="519.3" r="0.67"/><circle cx="355.6" cy="520.6" r="0.97"/><circle cx="335.1" cy="521.7" r="0.94"/><circle cx="363.0" cy="521.4" r="1.06"/><circle cx="330.7" cy="520.4" r="0.97"/><circle cx="379.6" cy="521.2" r="0.63"/><circle cx="526.7" cy="522.7" r="0.64"/><circle cx="484.5" cy="523.7" r="0.62"/><circle cx="482.7" cy="523.8" r="1.04"/><circle cx="468.6" cy="522.4" r="0.72"/><circle cx="503.1" cy="522.6" r="0.58"/><circle cx="467.8" cy="519.3" r="0.66"/><circle cx="452.9" cy="518.8" r="0.74"/><circle cx="483.7" cy="518.5" r="0.85"/><circle cx="525.4" cy="521.5" r="0.71"/><circle cx="506.4" cy="520.6" r="0.61"/><circle cx="488.5" cy="518.1" r="0.91"/><circle cx="462.9" cy="520.2" r="1.08"/><circle cx="511.3" cy="523.0" r="0.89"/><circle cx="500.8" cy="522.2" r="1.08"/><circle cx="465.7" cy="522.6" r="0.68"/><circle cx="470.5" cy="522.9" r="0.86"/><circle cx="518.0" cy="523.3" r="0.85"/><circle cx="465.9" cy="518.1" r="0.82"/><circle cx="508.0" cy="519.6" r="0.54"/><circle cx="450.4" cy="519.0" r="0.92"/><circle cx="450.3" cy="519.4" r="0.66"/><circle cx="506.9" cy="523.9" r="0.51"/><ellipse cx="330.4" cy="516.2" rx="1.44" ry="0.99" transform="rotate(117 330.4 516.2)"/><ellipse cx="329.7" cy="517.4" rx="0.89" ry="0.74" transform="rotate(117 329.7 517.4)"/><ellipse cx="328.2" cy="518.2" rx="0.83" ry="0.57" transform="rotate(117 328.2 518.2)"/><ellipse cx="328.0" cy="519.6" rx="1.16" ry="0.86" transform="rotate(117 328.0 519.6)"/><ellipse cx="327.3" cy="520.8" rx="1.31" ry="0.88" transform="rotate(117 327.3 520.8)"/><ellipse cx="327.3" cy="522.3" rx="1.44" ry="0.80" transform="rotate(117 327.3 522.3)"/><ellipse cx="326.3" cy="523.4" rx="0.74" ry="0.86" transform="rotate(117 326.3 523.4)"/><ellipse cx="325.8" cy="524.7" rx="1.32" ry="0.91" transform="rotate(117 325.8 524.7)"/><ellipse cx="325.5" cy="526.0" rx="1.13" ry="0.64" transform="rotate(117 325.5 526.0)"/><ellipse cx="324.1" cy="526.9" rx="0.81" ry="0.59" transform="rotate(117 324.1 526.9)"/><ellipse cx="324.7" cy="528.8" rx="1.11" ry="0.61" transform="rotate(117 324.7 528.8)"/><ellipse cx="323.5" cy="529.6" rx="1.17" ry="0.66" transform="rotate(117 323.5 529.6)"/><ellipse cx="322.7" cy="530.8" rx="0.98" ry="0.79" transform="rotate(117 322.7 530.8)"/><ellipse cx="318.9" cy="516.0" rx="0.73" ry="0.76" transform="rotate(120 318.9 516.0)"/><ellipse cx="318.7" cy="517.4" rx="0.99" ry="0.86" transform="rotate(120 318.7 517.4)"/><ellipse cx="317.9" cy="518.4" rx="0.71" ry="0.56" transform="rotate(120 317.9 518.4)"/><ellipse cx="315.9" cy="518.8" rx="1.12" ry="0.83" transform="rotate(120 315.9 518.8)"/><ellipse cx="314.7" cy="524.2" rx="0.54" ry="0.74" transform="rotate(120 314.7 524.2)"/><ellipse cx="312.6" cy="524.5" rx="0.54" ry="0.71" transform="rotate(120 312.6 524.5)"/><ellipse cx="311.6" cy="525.4" rx="0.87" ry="0.58" transform="rotate(120 311.6 525.4)"/><ellipse cx="312.9" cy="527.7" rx="0.91" ry="0.71" transform="rotate(120 312.9 527.7)"/><ellipse cx="311.8" cy="528.6" rx="1.12" ry="0.54" transform="rotate(120 311.8 528.6)"/><ellipse cx="311.8" cy="530.1" rx="0.81" ry="0.69" transform="rotate(120 311.8 530.1)"/><ellipse cx="310.6" cy="530.9" rx="0.75" ry="0.69" transform="rotate(120 310.6 530.9)"/><circle cx="309.3" cy="517.2" r="0.81"/><circle cx="315.2" cy="529.5" r="0.93"/><circle cx="284.0" cy="519.0" r="0.95"/><circle cx="290.6" cy="509.8" r="1.19"/><circle cx="314.6" cy="511.8" r="0.83"/><circle cx="303.5" cy="515.6" r="0.55"/><circle cx="308.5" cy="526.0" r="0.81"/><circle cx="283.3" cy="517.7" r="0.57"/><circle cx="316.6" cy="510.1" r="0.70"/><circle cx="309.2" cy="512.0" r="0.57"/><circle cx="282.7" cy="512.6" r="0.87"/><circle cx="311.7" cy="512.7" r="0.62"/><circle cx="309.1" cy="518.4" r="0.74"/><circle cx="284.7" cy="514.3" r="1.18"/><circle cx="284.4" cy="514.7" r="1.02"/><circle cx="313.9" cy="528.9" r="0.83"/><circle cx="316.3" cy="522.3" r="0.70"/><circle cx="297.7" cy="524.8" r="1.01"/><circle cx="284.9" cy="513.3" r="1.17"/><circle cx="284.1" cy="526.9" r="0.74"/><circle cx="289.4" cy="514.6" r="0.83"/><circle cx="317.6" cy="512.3" r="1.10"/><circle cx="292.2" cy="512.8" r="1.02"/><circle cx="293.0" cy="513.1" r="0.79"/><circle cx="311.2" cy="528.0" r="0.90"/><circle cx="280.4" cy="525.8" r="0.92"/><circle cx="314.2" cy="529.9" r="0.73"/><circle cx="312.2" cy="527.0" r="0.69"/><circle cx="293.9" cy="517.2" r="0.75"/><circle cx="294.4" cy="511.4" r="0.66"/><circle cx="314.6" cy="518.0" r="0.95"/><circle cx="313.7" cy="525.6" r="0.67"/><circle cx="316.9" cy="518.6" r="1.29"/><circle cx="314.2" cy="518.3" r="1.17"/><circle cx="307.5" cy="517.6" r="0.87"/><circle cx="315.8" cy="513.9" r="0.98"/><circle cx="308.7" cy="518.7" r="0.84"/><circle cx="315.8" cy="518.9" r="1.22"/><circle cx="305.9" cy="519.6" r="1.12"/><circle cx="313.5" cy="517.6" r="0.63"/><circle cx="316.2" cy="516.8" r="0.92"/><circle cx="308.8" cy="518.5" r="1.15"/><circle cx="316.2" cy="514.5" r="0.84"/><circle cx="307.5" cy="513.7" r="0.83"/><circle cx="304.4" cy="518.6" r="0.76"/><circle cx="305.0" cy="513.5" r="1.12"/><circle cx="306.8" cy="516.2" r="0.88"/><circle cx="315.2" cy="519.7" r="0.82"/><circle cx="312.9" cy="519.3" r="0.93"/><circle cx="316.6" cy="518.1" r="0.82"/><ellipse cx="322.0" cy="532.1" rx="1.19" ry="0.60" transform="rotate(1 322.0 532.1)"/><ellipse cx="323.3" cy="532.9" rx="1.11" ry="0.74" transform="rotate(1 323.3 532.9)"/><ellipse cx="324.7" cy="531.9" rx="1.28" ry="0.64" transform="rotate(1 324.7 531.9)"/><ellipse cx="326.0" cy="531.6" rx="1.31" ry="0.61" transform="rotate(1 326.0 531.6)"/><ellipse cx="327.3" cy="533.8" rx="0.68" ry="0.82" transform="rotate(1 327.3 533.8)"/><ellipse cx="328.7" cy="532.5" rx="0.74" ry="0.79" transform="rotate(1 328.7 532.5)"/><ellipse cx="330.0" cy="532.1" rx="1.40" ry="0.71" transform="rotate(1 330.0 532.1)"/><ellipse cx="331.3" cy="532.7" rx="0.86" ry="0.95" transform="rotate(1 331.3 532.7)"/><ellipse cx="334.0" cy="531.7" rx="1.01" ry="0.87" transform="rotate(1 334.0 531.7)"/><ellipse cx="335.3" cy="533.0" rx="0.96" ry="0.88" transform="rotate(1 335.3 533.0)"/><ellipse cx="336.7" cy="533.3" rx="1.17" ry="0.78" transform="rotate(1 336.7 533.3)"/><ellipse cx="338.0" cy="533.8" rx="1.60" ry="0.80" transform="rotate(1 338.0 533.8)"/><ellipse cx="339.3" cy="534.1" rx="0.82" ry="0.96" transform="rotate(1 339.3 534.1)"/><ellipse cx="340.7" cy="533.0" rx="0.99" ry="0.97" transform="rotate(1 340.7 533.0)"/><ellipse cx="342.0" cy="531.7" rx="0.67" ry="0.78" transform="rotate(1 342.0 531.7)"/><ellipse cx="343.3" cy="534.2" rx="1.14" ry="0.97" transform="rotate(1 343.3 534.2)"/><ellipse cx="344.7" cy="532.1" rx="0.79" ry="0.83" transform="rotate(1 344.7 532.1)"/><ellipse cx="346.0" cy="532.3" rx="0.90" ry="0.67" transform="rotate(1 346.0 532.3)"/><ellipse cx="347.3" cy="533.5" rx="1.14" ry="0.76" transform="rotate(1 347.3 533.5)"/><ellipse cx="348.7" cy="533.7" rx="1.33" ry="0.89" transform="rotate(1 348.7 533.7)"/><ellipse cx="350.0" cy="533.2" rx="0.89" ry="0.78" transform="rotate(1 350.0 533.2)"/><ellipse cx="351.4" cy="532.1" rx="0.84" ry="0.81" transform="rotate(1 351.4 532.1)"/><ellipse cx="352.7" cy="532.4" rx="1.36" ry="0.87" transform="rotate(1 352.7 532.4)"/><ellipse cx="354.0" cy="533.1" rx="1.53" ry="0.57" transform="rotate(1 354.0 533.1)"/><ellipse cx="355.3" cy="534.4" rx="1.07" ry="0.59" transform="rotate(1 355.3 534.4)"/><ellipse cx="356.7" cy="533.5" rx="0.79" ry="0.76" transform="rotate(1 356.7 533.5)"/><ellipse cx="358.0" cy="532.5" rx="1.60" ry="0.70" transform="rotate(1 358.0 532.5)"/><ellipse cx="359.3" cy="533.4" rx="0.80" ry="0.73" transform="rotate(1 359.3 533.4)"/><ellipse cx="360.7" cy="533.8" rx="0.94" ry="0.62" transform="rotate(1 360.7 533.8)"/><ellipse cx="362.0" cy="533.7" rx="0.95" ry="0.78" transform="rotate(1 362.0 533.7)"/><ellipse cx="363.3" cy="533.6" rx="1.11" ry="0.75" transform="rotate(1 363.3 533.6)"/><ellipse cx="270.0" cy="533.3" rx="0.86" ry="0.85" transform="rotate(0 270.0 533.3)"/><ellipse cx="271.3" cy="532.2" rx="0.83" ry="0.59" transform="rotate(0 271.3 532.2)"/><ellipse cx="272.6" cy="533.3" rx="1.02" ry="0.76" transform="rotate(0 272.6 533.3)"/><ellipse cx="274.0" cy="532.3" rx="1.38" ry="0.75" transform="rotate(0 274.0 532.3)"/><ellipse cx="275.3" cy="533.2" rx="0.66" ry="0.97" transform="rotate(0 275.3 533.2)"/><ellipse cx="276.6" cy="531.7" rx="1.02" ry="0.86" transform="rotate(0 276.6 531.7)"/><ellipse cx="279.3" cy="531.9" rx="1.23" ry="0.88" transform="rotate(0 279.3 531.9)"/><ellipse cx="280.6" cy="532.8" rx="1.65" ry="0.62" transform="rotate(0 280.6 532.8)"/><ellipse cx="281.9" cy="533.3" rx="1.27" ry="0.89" transform="rotate(0 281.9 533.3)"/><ellipse cx="283.2" cy="531.4" rx="1.64" ry="0.82" transform="rotate(0 283.2 531.4)"/><ellipse cx="284.5" cy="532.7" rx="1.59" ry="0.95" transform="rotate(0 284.5 532.7)"/><ellipse cx="285.9" cy="532.9" rx="0.99" ry="0.79" transform="rotate(0 285.9 532.9)"/><ellipse cx="287.2" cy="531.4" rx="1.02" ry="0.82" transform="rotate(0 287.2 531.4)"/><ellipse cx="289.8" cy="533.8" rx="1.15" ry="0.72" transform="rotate(0 289.8 533.8)"/><ellipse cx="291.2" cy="531.4" rx="0.92" ry="0.74" transform="rotate(0 291.2 531.4)"/><ellipse cx="292.5" cy="531.6" rx="1.03" ry="1.01" transform="rotate(0 292.5 531.6)"/><ellipse cx="293.8" cy="532.4" rx="1.51" ry="0.63" transform="rotate(0 293.8 532.4)"/><ellipse cx="295.1" cy="533.2" rx="0.67" ry="0.65" transform="rotate(0 295.1 533.2)"/><ellipse cx="296.5" cy="532.7" rx="0.89" ry="0.58" transform="rotate(0 296.5 532.7)"/><ellipse cx="297.8" cy="532.1" rx="1.42" ry="0.91" transform="rotate(0 297.8 532.1)"/><ellipse cx="301.7" cy="532.8" rx="1.62" ry="0.77" transform="rotate(0 301.7 532.8)"/><ellipse cx="303.1" cy="532.3" rx="1.44" ry="0.98" transform="rotate(0 303.1 532.3)"/><ellipse cx="304.4" cy="533.9" rx="1.44" ry="0.85" transform="rotate(0 304.4 533.9)"/><ellipse cx="307.0" cy="533.4" rx="0.71" ry="0.61" transform="rotate(0 307.0 533.4)"/><ellipse cx="308.4" cy="532.2" rx="0.77" ry="0.63" transform="rotate(0 308.4 532.2)"/><ellipse cx="309.7" cy="531.4" rx="1.29" ry="0.89" transform="rotate(0 309.7 531.4)"/><ellipse cx="281.3" cy="545.2" rx="1.06" ry="0.68" transform="rotate(-0 281.3 545.2)"/><ellipse cx="282.6" cy="544.4" rx="1.67" ry="1.05" transform="rotate(-0 282.6 544.4)"/><ellipse cx="284.0" cy="544.7" rx="0.81" ry="0.73" transform="rotate(-0 284.0 544.7)"/><ellipse cx="285.3" cy="544.9" rx="0.71" ry="0.82" transform="rotate(-0 285.3 544.9)"/><ellipse cx="286.6" cy="545.2" rx="1.48" ry="0.84" transform="rotate(-0 286.6 545.2)"/><ellipse cx="287.9" cy="544.6" rx="1.58" ry="0.85" transform="rotate(-0 287.9 544.6)"/><ellipse cx="289.2" cy="543.1" rx="1.55" ry="1.01" transform="rotate(-0 289.2 543.1)"/><ellipse cx="290.6" cy="545.4" rx="0.80" ry="0.64" transform="rotate(-0 290.6 545.4)"/><ellipse cx="291.9" cy="544.4" rx="1.49" ry="0.94" transform="rotate(-0 291.9 544.4)"/><ellipse cx="293.2" cy="544.3" rx="0.66" ry="0.95" transform="rotate(-0 293.2 544.3)"/><ellipse cx="294.5" cy="543.9" rx="1.41" ry="0.75" transform="rotate(-0 294.5 543.9)"/><ellipse cx="298.5" cy="543.6" rx="1.30" ry="0.71" transform="rotate(-0 298.5 543.6)"/><ellipse cx="299.8" cy="544.2" rx="1.48" ry="0.94" transform="rotate(-0 299.8 544.2)"/><ellipse cx="301.1" cy="545.8" rx="1.69" ry="0.89" transform="rotate(-0 301.1 545.8)"/><ellipse cx="302.4" cy="544.3" rx="1.29" ry="0.63" transform="rotate(-0 302.4 544.3)"/><ellipse cx="303.7" cy="543.8" rx="1.16" ry="0.69" transform="rotate(-0 303.7 543.8)"/><ellipse cx="305.1" cy="545.7" rx="1.44" ry="0.62" transform="rotate(-0 305.1 545.7)"/><ellipse cx="306.4" cy="545.1" rx="1.25" ry="1.00" transform="rotate(-0 306.4 545.1)"/><ellipse cx="307.7" cy="542.8" rx="0.74" ry="0.94" transform="rotate(-0 307.7 542.8)"/><ellipse cx="309.0" cy="545.0" rx="0.94" ry="0.61" transform="rotate(-0 309.0 545.0)"/><ellipse cx="310.3" cy="543.2" rx="0.92" ry="0.92" transform="rotate(-0 310.3 543.2)"/><ellipse cx="311.7" cy="544.6" rx="0.75" ry="0.80" transform="rotate(-0 311.7 544.6)"/><ellipse cx="313.0" cy="544.5" rx="0.94" ry="0.74" transform="rotate(-0 313.0 544.5)"/><ellipse cx="314.3" cy="545.2" rx="1.64" ry="1.05" transform="rotate(-0 314.3 545.2)"/><ellipse cx="315.6" cy="543.1" rx="1.45" ry="0.78" transform="rotate(-0 315.6 543.1)"/><ellipse cx="316.9" cy="543.6" rx="1.07" ry="1.03" transform="rotate(-0 316.9 543.6)"/><ellipse cx="318.3" cy="545.0" rx="0.80" ry="0.89" transform="rotate(-0 318.3 545.0)"/><ellipse cx="319.6" cy="545.0" rx="1.69" ry="0.82" transform="rotate(-0 319.6 545.0)"/><ellipse cx="320.9" cy="544.8" rx="1.05" ry="0.67" transform="rotate(-0 320.9 544.8)"/><ellipse cx="322.2" cy="544.9" rx="0.68" ry="0.79" transform="rotate(-0 322.2 544.9)"/><ellipse cx="323.5" cy="545.0" rx="0.69" ry="0.78" transform="rotate(-0 323.5 545.0)"/><ellipse cx="324.8" cy="542.9" rx="1.40" ry="0.91" transform="rotate(-0 324.8 542.9)"/><ellipse cx="326.2" cy="544.5" rx="0.79" ry="0.96" transform="rotate(-0 326.2 544.5)"/><ellipse cx="327.5" cy="543.9" rx="0.85" ry="0.80" transform="rotate(-0 327.5 543.9)"/><ellipse cx="328.8" cy="544.9" rx="1.15" ry="0.94" transform="rotate(-0 328.8 544.9)"/><ellipse cx="330.1" cy="545.5" rx="1.61" ry="0.66" transform="rotate(-0 330.1 545.5)"/><ellipse cx="331.4" cy="542.7" rx="1.46" ry="0.87" transform="rotate(-0 331.4 542.7)"/><ellipse cx="332.8" cy="542.9" rx="1.55" ry="0.77" transform="rotate(-0 332.8 542.9)"/><ellipse cx="334.1" cy="545.1" rx="1.37" ry="0.92" transform="rotate(-0 334.1 545.1)"/><ellipse cx="335.4" cy="543.4" rx="1.14" ry="0.96" transform="rotate(-0 335.4 543.4)"/><ellipse cx="338.0" cy="544.6" rx="1.23" ry="0.75" transform="rotate(-0 338.0 544.6)"/><ellipse cx="339.4" cy="544.9" rx="0.79" ry="0.79" transform="rotate(-0 339.4 544.9)"/><ellipse cx="340.7" cy="543.9" rx="1.23" ry="0.93" transform="rotate(-0 340.7 543.9)"/><circle cx="318.6" cy="546.8" r="1.12"/><circle cx="306.0" cy="555.6" r="1.19"/><circle cx="293.0" cy="551.4" r="1.18"/><circle cx="306.9" cy="551.0" r="0.72"/><circle cx="286.6" cy="547.3" r="0.59"/><circle cx="301.2" cy="551.9" r="0.89"/><circle cx="339.0" cy="552.5" r="0.75"/><circle cx="339.1" cy="552.0" r="0.88"/><circle cx="334.2" cy="552.4" r="0.75"/><circle cx="319.5" cy="548.3" r="1.18"/><circle cx="298.9" cy="555.7" r="0.55"/><circle cx="285.6" cy="551.1" r="0.64"/><circle cx="313.9" cy="546.3" r="1.09"/><circle cx="323.1" cy="552.5" r="1.15"/><circle cx="341.6" cy="552.5" r="1.00"/><circle cx="285.1" cy="545.5" r="0.80"/><circle cx="340.2" cy="548.4" r="0.90"/><circle cx="285.5" cy="549.6" r="1.13"/><circle cx="318.6" cy="554.1" r="0.51"/><circle cx="296.6" cy="547.0" r="1.08"/><circle cx="290.8" cy="555.3" r="0.69"/><circle cx="335.2" cy="550.7" r="0.73"/><circle cx="340.1" cy="549.5" r="0.99"/><circle cx="288.8" cy="554.1" r="1.19"/><circle cx="291.3" cy="553.2" r="0.69"/><circle cx="293.4" cy="549.0" r="0.96"/><circle cx="339.4" cy="555.9" r="1.20"/><circle cx="320.5" cy="552.2" r="0.61"/><circle cx="326.4" cy="551.1" r="0.75"/><circle cx="336.3" cy="547.8" r="0.60"/><circle cx="294.0" cy="546.6" r="0.91"/><circle cx="330.6" cy="546.8" r="0.85"/><circle cx="317.7" cy="551.2" r="0.79"/><circle cx="316.0" cy="545.2" r="0.54"/><circle cx="309.1" cy="547.6" r="1.03"/><circle cx="298.8" cy="554.1" r="0.67"/><circle cx="290.3" cy="550.3" r="0.77"/><circle cx="304.1" cy="553.4" r="0.66"/><circle cx="323.2" cy="554.2" r="0.82"/><circle cx="313.7" cy="555.2" r="0.92"/><circle cx="295.3" cy="545.8" r="0.56"/><circle cx="303.9" cy="546.0" r="0.95"/><circle cx="309.1" cy="548.4" r="0.86"/><circle cx="338.4" cy="547.7" r="0.61"/><circle cx="302.4" cy="548.6" r="1.14"/><ellipse cx="341.2" cy="543.7" rx="1.01" ry="0.68" transform="rotate(111 341.2 543.7)"/><ellipse cx="340.4" cy="544.8" rx="1.20" ry="0.68" transform="rotate(111 340.4 544.8)"/><ellipse cx="339.9" cy="546.0" rx="0.70" ry="0.85" transform="rotate(111 339.9 546.0)"/><ellipse cx="339.5" cy="547.3" rx="1.26" ry="0.86" transform="rotate(111 339.5 547.3)"/><ellipse cx="339.3" cy="548.6" rx="1.22" ry="0.82" transform="rotate(111 339.3 548.6)"/><ellipse cx="338.1" cy="549.6" rx="0.65" ry="0.71" transform="rotate(111 338.1 549.6)"/><ellipse cx="338.2" cy="551.1" rx="0.82" ry="0.64" transform="rotate(111 338.2 551.1)"/><ellipse cx="337.9" cy="552.4" rx="0.88" ry="0.94" transform="rotate(111 337.9 552.4)"/><ellipse cx="338.2" cy="553.9" rx="0.99" ry="0.94" transform="rotate(111 338.2 553.9)"/><ellipse cx="337.6" cy="555.1" rx="1.11" ry="1.10" transform="rotate(111 337.6 555.1)"/><ellipse cx="337.0" cy="556.3" rx="0.73" ry="0.85" transform="rotate(111 337.0 556.3)"/><ellipse cx="336.4" cy="557.5" rx="1.07" ry="1.00" transform="rotate(111 336.4 557.5)"/><ellipse cx="335.1" cy="558.4" rx="1.44" ry="1.01" transform="rotate(111 335.1 558.4)"/><ellipse cx="335.2" cy="559.9" rx="0.76" ry="0.94" transform="rotate(111 335.2 559.9)"/><ellipse cx="334.6" cy="561.1" rx="1.14" ry="1.09" transform="rotate(111 334.6 561.1)"/><ellipse cx="335.2" cy="562.7" rx="0.75" ry="0.76" transform="rotate(111 335.2 562.7)"/><ellipse cx="335.9" cy="564.4" rx="1.15" ry="0.96" transform="rotate(111 335.9 564.4)"/><ellipse cx="334.2" cy="565.2" rx="1.26" ry="0.74" transform="rotate(111 334.2 565.2)"/><ellipse cx="333.7" cy="567.8" rx="0.65" ry="0.65" transform="rotate(111 333.7 567.8)"/><ellipse cx="331.7" cy="568.5" rx="0.78" ry="1.04" transform="rotate(111 331.7 568.5)"/><ellipse cx="332.9" cy="570.4" rx="0.75" ry="0.79" transform="rotate(111 332.9 570.4)"/><ellipse cx="331.3" cy="571.2" rx="0.95" ry="1.04" transform="rotate(111 331.3 571.2)"/><ellipse cx="330.6" cy="573.7" rx="1.42" ry="0.99" transform="rotate(111 330.6 573.7)"/><ellipse cx="332.0" cy="575.7" rx="1.20" ry="1.07" transform="rotate(111 332.0 575.7)"/><ellipse cx="330.8" cy="576.7" rx="0.82" ry="0.86" transform="rotate(111 330.8 576.7)"/><ellipse cx="329.6" cy="577.6" rx="1.08" ry="0.89" transform="rotate(111 329.6 577.6)"/><ellipse cx="328.0" cy="578.4" rx="0.89" ry="0.85" transform="rotate(111 328.0 578.4)"/><ellipse cx="329.3" cy="580.4" rx="0.81" ry="0.87" transform="rotate(111 329.3 580.4)"/><ellipse cx="327.2" cy="581.0" rx="1.30" ry="0.95" transform="rotate(111 327.2 581.0)"/><ellipse cx="327.9" cy="582.7" rx="1.44" ry="0.86" transform="rotate(111 327.9 582.7)"/><ellipse cx="326.9" cy="583.7" rx="0.90" ry="0.80" transform="rotate(111 326.9 583.7)"/><ellipse cx="325.9" cy="584.8" rx="1.27" ry="0.71" transform="rotate(111 325.9 584.8)"/><ellipse cx="326.7" cy="586.5" rx="0.95" ry="0.75" transform="rotate(111 326.7 586.5)"/><ellipse cx="325.4" cy="587.4" rx="0.83" ry="0.72" transform="rotate(111 325.4 587.4)"/><ellipse cx="326.3" cy="589.1" rx="1.21" ry="0.94" transform="rotate(111 326.3 589.1)"/><ellipse cx="324.7" cy="590.0" rx="0.70" ry="0.78" transform="rotate(111 324.7 590.0)"/><ellipse cx="324.6" cy="591.3" rx="1.47" ry="0.86" transform="rotate(111 324.6 591.3)"/><ellipse cx="322.0" cy="591.8" rx="0.84" ry="0.77" transform="rotate(111 322.0 591.8)"/><ellipse cx="323.3" cy="593.7" rx="1.33" ry="0.97" transform="rotate(111 323.3 593.7)"/><ellipse cx="323.0" cy="595.0" rx="1.06" ry="0.96" transform="rotate(111 323.0 595.0)"/><ellipse cx="321.6" cy="595.9" rx="1.37" ry="1.03" transform="rotate(111 321.6 595.9)"/><ellipse cx="367.7" cy="535.8" rx="1.48" ry="0.69" transform="rotate(118 367.7 535.8)"/><ellipse cx="366.0" cy="536.4" rx="0.89" ry="1.06" transform="rotate(118 366.0 536.4)"/><ellipse cx="366.6" cy="538.2" rx="1.41" ry="0.81" transform="rotate(118 366.6 538.2)"/><ellipse cx="363.7" cy="538.1" rx="1.31" ry="0.79" transform="rotate(118 363.7 538.1)"/><ellipse cx="363.8" cy="539.6" rx="0.99" ry="0.90" transform="rotate(118 363.8 539.6)"/><ellipse cx="364.5" cy="541.5" rx="0.67" ry="0.80" transform="rotate(118 364.5 541.5)"/><ellipse cx="362.5" cy="541.9" rx="1.30" ry="0.77" transform="rotate(118 362.5 541.9)"/><ellipse cx="362.6" cy="543.5" rx="1.18" ry="0.69" transform="rotate(118 362.6 543.5)"/><ellipse cx="362.6" cy="545.0" rx="0.90" ry="0.70" transform="rotate(118 362.6 545.0)"/><ellipse cx="362.6" cy="546.4" rx="1.42" ry="0.72" transform="rotate(118 362.6 546.4)"/><ellipse cx="361.6" cy="547.3" rx="0.68" ry="0.76" transform="rotate(118 361.6 547.3)"/><ellipse cx="360.6" cy="548.3" rx="1.16" ry="0.86" transform="rotate(118 360.6 548.3)"/><ellipse cx="359.5" cy="549.2" rx="1.00" ry="0.78" transform="rotate(118 359.5 549.2)"/><ellipse cx="358.3" cy="550.1" rx="0.75" ry="1.09" transform="rotate(118 358.3 550.1)"/><ellipse cx="358.0" cy="551.4" rx="1.15" ry="0.79" transform="rotate(118 358.0 551.4)"/><ellipse cx="358.3" cy="553.0" rx="1.33" ry="1.01" transform="rotate(118 358.3 553.0)"/><ellipse cx="357.0" cy="553.8" rx="1.49" ry="0.63" transform="rotate(118 357.0 553.8)"/><ellipse cx="357.6" cy="555.6" rx="0.84" ry="0.91" transform="rotate(118 357.6 555.6)"/><ellipse cx="355.3" cy="555.9" rx="0.98" ry="1.00" transform="rotate(118 355.3 555.9)"/><ellipse cx="356.3" cy="557.9" rx="0.87" ry="0.98" transform="rotate(118 356.3 557.9)"/><ellipse cx="354.3" cy="558.4" rx="1.04" ry="0.71" transform="rotate(118 354.3 558.4)"/><ellipse cx="354.1" cy="559.7" rx="0.73" ry="0.65" transform="rotate(118 354.1 559.7)"/><ellipse cx="354.5" cy="561.4" rx="0.90" ry="0.95" transform="rotate(118 354.5 561.4)"/><ellipse cx="352.4" cy="561.8" rx="1.48" ry="0.68" transform="rotate(118 352.4 561.8)"/><ellipse cx="353.1" cy="563.6" rx="1.38" ry="0.70" transform="rotate(118 353.1 563.6)"/><ellipse cx="351.6" cy="564.3" rx="0.95" ry="0.77" transform="rotate(118 351.6 564.3)"/><ellipse cx="351.7" cy="565.9" rx="0.72" ry="1.08" transform="rotate(118 351.7 565.9)"/><ellipse cx="350.7" cy="566.8" rx="0.75" ry="0.93" transform="rotate(118 350.7 566.8)"/><ellipse cx="350.2" cy="568.0" rx="1.37" ry="0.77" transform="rotate(118 350.2 568.0)"/><ellipse cx="348.5" cy="568.6" rx="1.46" ry="0.78" transform="rotate(118 348.5 568.6)"/><ellipse cx="347.9" cy="569.8" rx="1.22" ry="0.82" transform="rotate(118 347.9 569.8)"/><ellipse cx="346.9" cy="570.7" rx="0.85" ry="0.99" transform="rotate(118 346.9 570.7)"/><ellipse cx="346.9" cy="572.2" rx="1.27" ry="0.61" transform="rotate(118 346.9 572.2)"/><ellipse cx="347.5" cy="574.0" rx="1.47" ry="0.94" transform="rotate(118 347.5 574.0)"/><ellipse cx="347.1" cy="575.3" rx="0.82" ry="0.69" transform="rotate(118 347.1 575.3)"/><ellipse cx="345.5" cy="575.9" rx="1.24" ry="0.73" transform="rotate(118 345.5 575.9)"/><ellipse cx="344.1" cy="576.7" rx="0.80" ry="0.85" transform="rotate(118 344.1 576.7)"/><ellipse cx="343.4" cy="577.8" rx="1.12" ry="0.67" transform="rotate(118 343.4 577.8)"/><ellipse cx="344.0" cy="579.6" rx="0.91" ry="0.94" transform="rotate(118 344.0 579.6)"/><ellipse cx="343.4" cy="580.7" rx="1.17" ry="0.99" transform="rotate(118 343.4 580.7)"/><ellipse cx="342.3" cy="581.6" rx="1.36" ry="0.88" transform="rotate(118 342.3 581.6)"/><ellipse cx="340.9" cy="582.4" rx="0.96" ry="0.82" transform="rotate(118 340.9 582.4)"/><ellipse cx="340.8" cy="585.3" rx="1.17" ry="0.62" transform="rotate(118 340.8 585.3)"/><ellipse cx="340.3" cy="586.5" rx="1.48" ry="0.96" transform="rotate(118 340.3 586.5)"/><ellipse cx="339.1" cy="587.3" rx="1.35" ry="0.86" transform="rotate(118 339.1 587.3)"/><ellipse cx="339.2" cy="588.9" rx="1.41" ry="0.82" transform="rotate(118 339.2 588.9)"/><ellipse cx="338.6" cy="590.0" rx="1.38" ry="0.70" transform="rotate(118 338.6 590.0)"/><ellipse cx="338.5" cy="591.5" rx="0.94" ry="0.61" transform="rotate(118 338.5 591.5)"/><ellipse cx="336.6" cy="592.0" rx="1.18" ry="0.66" transform="rotate(118 336.6 592.0)"/><ellipse cx="336.2" cy="593.2" rx="0.90" ry="0.74" transform="rotate(118 336.2 593.2)"/><ellipse cx="334.2" cy="593.7" rx="1.49" ry="0.82" transform="rotate(118 334.2 593.7)"/><ellipse cx="336.1" cy="596.1" rx="0.89" ry="1.06" transform="rotate(118 336.1 596.1)"/><ellipse cx="334.5" cy="596.8" rx="0.73" ry="1.06" transform="rotate(118 334.5 596.8)"/><ellipse cx="334.5" cy="598.3" rx="1.17" ry="1.03" transform="rotate(118 334.5 598.3)"/><ellipse cx="333.5" cy="599.2" rx="1.32" ry="0.83" transform="rotate(118 333.5 599.2)"/><ellipse cx="333.6" cy="600.7" rx="1.46" ry="0.74" transform="rotate(118 333.6 600.7)"/><circle cx="331.3" cy="585.7" r="0.99"/><circle cx="336.0" cy="566.2" r="0.66"/><circle cx="343.7" cy="556.2" r="0.86"/><circle cx="334.8" cy="572.1" r="0.52"/><circle cx="330.0" cy="586.2" r="0.75"/><circle cx="336.5" cy="555.7" r="0.74"/><circle cx="329.2" cy="585.0" r="0.87"/><circle cx="340.6" cy="552.6" r="1.14"/><circle cx="331.7" cy="570.4" r="0.64"/><circle cx="330.6" cy="584.5" r="0.75"/><circle cx="330.6" cy="589.5" r="0.94"/><circle cx="337.0" cy="571.0" r="0.76"/><circle cx="334.4" cy="576.4" r="0.50"/><circle cx="331.9" cy="588.7" r="0.68"/><circle cx="325.3" cy="590.5" r="0.94"/><circle cx="342.3" cy="551.0" r="1.04"/><circle cx="342.7" cy="560.4" r="0.97"/><circle cx="325.5" cy="589.7" r="0.81"/><circle cx="333.4" cy="581.7" r="0.57"/><circle cx="336.9" cy="567.1" r="0.86"/><circle cx="343.8" cy="552.4" r="0.77"/><circle cx="347.8" cy="552.3" r="0.63"/><circle cx="334.9" cy="576.3" r="0.88"/><circle cx="339.4" cy="568.6" r="0.85"/><circle cx="334.2" cy="590.9" r="0.64"/><circle cx="345.8" cy="546.1" r="1.04"/><circle cx="332.3" cy="575.9" r="1.05"/><circle cx="339.2" cy="561.2" r="1.01"/><circle cx="338.0" cy="556.8" r="0.76"/><circle cx="334.3" cy="570.9" r="0.55"/><circle cx="332.0" cy="580.0" r="0.89"/><circle cx="329.3" cy="585.1" r="0.57"/><circle cx="328.9" cy="591.0" r="0.67"/><circle cx="343.6" cy="548.7" r="0.68"/><circle cx="342.3" cy="548.8" r="0.71"/><circle cx="336.4" cy="569.8" r="0.76"/><circle cx="329.2" cy="588.2" r="0.66"/><circle cx="344.6" cy="544.5" r="0.73"/><circle cx="342.3" cy="550.1" r="1.20"/><circle cx="337.5" cy="555.7" r="0.53"/><circle cx="325.2" cy="586.4" r="0.77"/><circle cx="342.5" cy="561.5" r="0.55"/><circle cx="323.4" cy="597.1" r="0.81"/><circle cx="329.7" cy="587.0" r="1.08"/><circle cx="337.1" cy="570.7" r="1.12"/><circle cx="339.7" cy="566.8" r="0.96"/><circle cx="331.1" cy="575.3" r="0.67"/><circle cx="335.1" cy="575.2" r="1.11"/><circle cx="340.8" cy="548.5" r="1.18"/><circle cx="349.5" cy="544.7" r="0.94"/><circle cx="334.3" cy="579.4" r="0.59"/><circle cx="337.3" cy="560.8" r="1.00"/><circle cx="331.7" cy="584.8" r="0.96"/><circle cx="335.6" cy="580.8" r="0.52"/><circle cx="335.2" cy="568.7" r="0.74"/><circle cx="346.3" cy="551.2" r="0.97"/><circle cx="340.5" cy="560.1" r="0.88"/><circle cx="327.0" cy="589.3" r="0.58"/><circle cx="336.0" cy="584.9" r="0.52"/><circle cx="333.2" cy="584.5" r="0.76"/><circle cx="339.9" cy="554.1" r="0.79"/><circle cx="345.2" cy="550.9" r="0.87"/><circle cx="342.1" cy="560.8" r="0.80"/><circle cx="340.7" cy="556.8" r="1.18"/><circle cx="336.4" cy="562.0" r="0.78"/><circle cx="326.4" cy="586.3" r="0.70"/><circle cx="346.3" cy="550.1" r="1.11"/><circle cx="342.5" cy="555.4" r="0.81"/><circle cx="329.7" cy="586.7" r="0.86"/><circle cx="338.5" cy="567.8" r="1.16"/><circle cx="327.4" cy="594.3" r="0.79"/><circle cx="348.5" cy="545.9" r="0.81"/><circle cx="325.7" cy="595.3" r="1.00"/><circle cx="347.8" cy="547.5" r="1.15"/><circle cx="342.4" cy="550.1" r="0.51"/><circle cx="341.9" cy="565.0" r="0.59"/><circle cx="337.5" cy="570.5" r="0.66"/><circle cx="344.4" cy="548.6" r="0.56"/><circle cx="340.6" cy="554.9" r="1.07"/><circle cx="337.1" cy="567.3" r="0.68"/><circle cx="363.1" cy="554.7" r="1.02"/><circle cx="366.8" cy="546.0" r="1.16"/><circle cx="351.8" cy="564.9" r="0.57"/><circle cx="365.3" cy="543.9" r="0.99"/><circle cx="350.0" cy="575.8" r="0.85"/><circle cx="362.1" cy="551.4" r="0.81"/><circle cx="359.0" cy="557.2" r="0.69"/><circle cx="347.2" cy="579.2" r="0.56"/><circle cx="340.8" cy="588.9" r="0.58"/><circle cx="353.3" cy="571.0" r="0.85"/><circle cx="343.6" cy="583.9" r="1.12"/><circle cx="363.6" cy="556.7" r="1.19"/><circle cx="346.9" cy="594.4" r="0.68"/><circle cx="342.1" cy="589.7" r="0.93"/><circle cx="368.2" cy="552.4" r="1.07"/><circle cx="351.4" cy="574.0" r="0.56"/><circle cx="341.8" cy="592.7" r="0.93"/><circle cx="366.3" cy="551.8" r="0.82"/><circle cx="349.7" cy="583.5" r="0.57"/><circle cx="356.9" cy="569.0" r="0.95"/><circle cx="348.8" cy="581.9" r="1.17"/><circle cx="357.8" cy="563.9" r="0.80"/><circle cx="356.3" cy="562.9" r="0.96"/><circle cx="352.3" cy="564.5" r="0.90"/><circle cx="355.7" cy="571.4" r="1.18"/><circle cx="350.6" cy="587.4" r="1.19"/><circle cx="355.9" cy="568.4" r="1.02"/><circle cx="344.1" cy="583.6" r="1.16"/><circle cx="343.6" cy="590.8" r="1.05"/><circle cx="352.7" cy="569.0" r="0.72"/><circle cx="359.8" cy="562.5" r="1.09"/><circle cx="342.1" cy="580.8" r="0.62"/><circle cx="363.7" cy="549.5" r="0.74"/><circle cx="366.6" cy="546.3" r="0.61"/><circle cx="346.9" cy="583.7" r="0.73"/><circle cx="347.0" cy="591.8" r="0.71"/><circle cx="361.3" cy="556.3" r="0.80"/><circle cx="358.0" cy="563.2" r="0.51"/><circle cx="340.8" cy="592.6" r="1.17"/><circle cx="363.1" cy="553.9" r="0.68"/><circle cx="374.0" cy="541.5" r="0.91"/><circle cx="356.1" cy="570.7" r="0.67"/><circle cx="363.8" cy="557.5" r="1.19"/><circle cx="339.4" cy="594.1" r="0.59"/><circle cx="346.0" cy="591.7" r="1.07"/><circle cx="347.3" cy="582.4" r="0.88"/><circle cx="344.7" cy="589.6" r="0.69"/><circle cx="360.1" cy="564.3" r="0.63"/><circle cx="341.5" cy="583.2" r="0.94"/><circle cx="347.7" cy="576.6" r="1.15"/><circle cx="340.1" cy="589.6" r="1.15"/><circle cx="356.9" cy="562.6" r="0.57"/><circle cx="357.5" cy="560.3" r="0.95"/><circle cx="341.1" cy="580.4" r="1.16"/><circle cx="340.6" cy="587.5" r="1.03"/><circle cx="361.0" cy="559.4" r="0.58"/><circle cx="350.1" cy="577.8" r="0.98"/><circle cx="337.6" cy="594.4" r="0.59"/><circle cx="363.5" cy="548.3" r="1.16"/><circle cx="336.2" cy="600.8" r="0.81"/><circle cx="342.0" cy="588.4" r="1.18"/><circle cx="363.5" cy="550.6" r="0.55"/><circle cx="358.6" cy="567.6" r="0.79"/><circle cx="338.0" cy="598.2" r="0.79"/><circle cx="342.0" cy="591.8" r="0.67"/><circle cx="356.4" cy="558.6" r="0.84"/><circle cx="355.0" cy="564.1" r="0.73"/><circle cx="346.9" cy="577.0" r="1.20"/><circle cx="363.7" cy="552.4" r="0.57"/><circle cx="369.5" cy="543.4" r="0.80"/><circle cx="339.2" cy="591.0" r="1.09"/><circle cx="343.1" cy="575.7" r="0.91"/><circle cx="368.8" cy="540.8" r="0.93"/><circle cx="370.3" cy="544.0" r="0.88"/><circle cx="354.8" cy="562.9" r="0.57"/><circle cx="345.6" cy="584.6" r="1.06"/><circle cx="353.1" cy="576.5" r="1.11"/><circle cx="339.2" cy="600.2" r="1.03"/><circle cx="372.6" cy="542.8" r="0.69"/><circle cx="335.7" cy="596.1" r="1.08"/><circle cx="339.7" cy="594.6" r="0.77"/><circle cx="364.6" cy="558.1" r="1.03"/><circle cx="347.6" cy="577.6" r="1.15"/><circle cx="354.4" cy="574.6" r="1.14"/><circle cx="351.9" cy="574.5" r="0.82"/><circle cx="351.6" cy="573.7" r="1.01"/><circle cx="334.6" cy="599.1" r="0.94"/><circle cx="349.9" cy="572.5" r="0.99"/><circle cx="340.5" cy="597.8" r="1.11"/><circle cx="369.1" cy="543.6" r="1.05"/><circle cx="366.7" cy="541.9" r="0.67"/><circle cx="353.3" cy="563.3" r="0.66"/><circle cx="342.3" cy="583.0" r="0.73"/><circle cx="349.7" cy="575.8" r="1.17"/><circle cx="345.9" cy="587.5" r="0.86"/><circle cx="356.8" cy="563.5" r="0.74"/><circle cx="344.6" cy="589.0" r="1.04"/><circle cx="341.7" cy="597.1" r="0.51"/><circle cx="354.5" cy="556.5" r="0.61"/><circle cx="341.9" cy="591.3" r="0.78"/><circle cx="321.9" cy="593.1" r="0.54"/><circle cx="313.2" cy="562.2" r="0.59"/><circle cx="312.1" cy="584.0" r="0.91"/><circle cx="304.9" cy="588.1" r="0.86"/><circle cx="305.7" cy="588.8" r="1.07"/><circle cx="308.7" cy="593.6" r="1.07"/><circle cx="309.2" cy="556.0" r="1.11"/><circle cx="333.0" cy="559.9" r="1.04"/><circle cx="330.9" cy="581.3" r="1.08"/><circle cx="339.4" cy="569.1" r="1.08"/><circle cx="336.8" cy="568.5" r="0.98"/><circle cx="327.4" cy="590.0" r="0.90"/><circle cx="311.0" cy="566.1" r="0.88"/><circle cx="305.4" cy="590.4" r="1.12"/><circle cx="309.7" cy="583.9" r="0.97"/><circle cx="304.9" cy="587.1" r="1.04"/><circle cx="312.3" cy="559.9" r="0.70"/><circle cx="330.9" cy="574.7" r="1.07"/><circle cx="306.4" cy="560.3" r="0.74"/><circle cx="335.2" cy="562.5" r="0.55"/><circle cx="330.1" cy="559.7" r="0.97"/><circle cx="303.3" cy="565.9" r="0.96"/><circle cx="334.9" cy="572.4" r="0.81"/><circle cx="301.2" cy="569.6" r="0.67"/><circle cx="331.5" cy="584.6" r="1.05"/><circle cx="321.3" cy="584.0" r="0.59"/><circle cx="315.4" cy="567.7" r="0.70"/><circle cx="329.6" cy="564.6" r="0.73"/><circle cx="311.3" cy="590.6" r="0.95"/><circle cx="319.2" cy="571.2" r="1.15"/><circle cx="337.6" cy="574.0" r="0.90"/><circle cx="334.5" cy="566.3" r="0.68"/><circle cx="304.1" cy="576.1" r="1.04"/><circle cx="306.3" cy="573.3" r="1.19"/><circle cx="319.2" cy="571.3" r="1.09"/><circle cx="335.7" cy="571.0" r="0.59"/><circle cx="325.5" cy="585.6" r="1.15"/><circle cx="326.4" cy="568.3" r="0.86"/><circle cx="311.5" cy="573.8" r="0.83"/><circle cx="336.5" cy="592.2" r="1.15"/><circle cx="319.1" cy="594.6" r="0.60"/><circle cx="336.8" cy="581.6" r="1.11"/><circle cx="316.5" cy="595.6" r="0.52"/><circle cx="333.9" cy="588.8" r="0.76"/><circle cx="333.1" cy="564.5" r="1.03"/><circle cx="318.7" cy="572.4" r="0.64"/><circle cx="332.0" cy="585.2" r="0.56"/><circle cx="339.1" cy="564.9" r="0.76"/><circle cx="316.6" cy="579.1" r="1.12"/><circle cx="337.8" cy="581.3" r="0.76"/><circle cx="304.3" cy="558.8" r="0.86"/><circle cx="323.3" cy="573.9" r="1.19"/><circle cx="316.5" cy="570.0" r="0.79"/><circle cx="306.9" cy="593.6" r="0.91"/><circle cx="321.7" cy="573.0" r="0.68"/><circle cx="312.6" cy="575.7" r="0.81"/><circle cx="339.2" cy="578.5" r="0.64"/><circle cx="302.1" cy="562.4" r="0.74"/><circle cx="331.3" cy="591.6" r="0.67"/><circle cx="331.2" cy="573.7" r="0.88"/><circle cx="329.7" cy="550.0" r="0.55"/><circle cx="332.7" cy="581.1" r="0.77"/><circle cx="338.2" cy="587.4" r="0.71"/><circle cx="319.5" cy="574.6" r="0.96"/><circle cx="322.9" cy="550.1" r="0.84"/><circle cx="318.8" cy="583.4" r="0.94"/><circle cx="324.1" cy="569.4" r="0.66"/><circle cx="322.1" cy="556.7" r="1.07"/><circle cx="328.0" cy="582.3" r="0.74"/><circle cx="335.8" cy="576.6" r="0.96"/><circle cx="326.6" cy="575.0" r="0.63"/><circle cx="339.4" cy="580.3" r="0.87"/><circle cx="332.1" cy="552.8" r="0.73"/><circle cx="323.1" cy="588.5" r="0.51"/><circle cx="327.8" cy="589.7" r="1.05"/><circle cx="333.8" cy="562.5" r="0.66"/><circle cx="333.5" cy="562.3" r="1.01"/><circle cx="325.7" cy="584.5" r="0.90"/><circle cx="335.9" cy="595.3" r="0.77"/><circle cx="339.7" cy="548.5" r="1.11"/><circle cx="318.7" cy="574.2" r="0.77"/><circle cx="334.9" cy="563.1" r="0.65"/><circle cx="335.2" cy="574.4" r="1.03"/><circle cx="328.8" cy="549.8" r="1.04"/><circle cx="322.8" cy="570.6" r="0.50"/><circle cx="323.7" cy="579.9" r="1.03"/><circle cx="332.0" cy="569.3" r="1.01"/><circle cx="332.7" cy="557.9" r="0.87"/><circle cx="331.2" cy="583.0" r="0.64"/><circle cx="324.8" cy="564.5" r="0.57"/><circle cx="325.7" cy="583.0" r="0.90"/><circle cx="321.8" cy="583.1" r="0.58"/><circle cx="334.5" cy="555.1" r="0.57"/><circle cx="323.5" cy="572.7" r="0.69"/><circle cx="337.4" cy="593.0" r="0.70"/><circle cx="405.0" cy="581.7" r="0.76"/><circle cx="375.3" cy="597.0" r="0.98"/><circle cx="360.8" cy="559.8" r="0.63"/><circle cx="371.9" cy="565.8" r="0.94"/><circle cx="361.4" cy="590.1" r="0.62"/><circle cx="360.8" cy="594.0" r="0.60"/><circle cx="372.7" cy="547.0" r="0.65"/><circle cx="367.2" cy="550.8" r="0.59"/><circle cx="394.7" cy="566.8" r="0.62"/><circle cx="391.6" cy="586.4" r="0.85"/><circle cx="380.6" cy="595.1" r="0.89"/><circle cx="393.7" cy="568.5" r="0.63"/><circle cx="368.0" cy="593.1" r="0.78"/><circle cx="365.9" cy="595.5" r="0.94"/><circle cx="362.0" cy="582.0" r="0.58"/><circle cx="392.1" cy="590.1" r="0.64"/><circle cx="389.9" cy="579.9" r="0.56"/><circle cx="397.6" cy="565.5" r="0.99"/><circle cx="371.3" cy="582.7" r="0.47"/><circle cx="376.4" cy="547.1" r="0.53"/><circle cx="391.7" cy="550.5" r="0.89"/><circle cx="365.8" cy="577.4" r="0.92"/><circle cx="367.6" cy="553.0" r="0.87"/><circle cx="388.2" cy="595.9" r="0.64"/><circle cx="383.9" cy="597.5" r="0.64"/><circle cx="418.0" cy="593.5" r="0.56"/><circle cx="392.7" cy="596.5" r="0.51"/><circle cx="410.9" cy="586.5" r="0.86"/><circle cx="396.0" cy="546.0" r="0.98"/><circle cx="366.1" cy="587.0" r="0.85"/><circle cx="379.0" cy="581.1" r="0.68"/><circle cx="405.0" cy="542.6" r="0.96"/><circle cx="383.1" cy="588.2" r="0.71"/><circle cx="408.7" cy="558.1" r="0.75"/><circle cx="361.5" cy="569.4" r="0.49"/><circle cx="411.6" cy="580.6" r="0.68"/><circle cx="418.5" cy="596.8" r="0.98"/><circle cx="364.9" cy="582.2" r="0.85"/><circle cx="396.4" cy="540.9" r="0.96"/><circle cx="386.3" cy="575.7" r="0.90"/><circle cx="376.5" cy="541.8" r="0.96"/><circle cx="376.2" cy="542.5" r="0.53"/><circle cx="419.7" cy="584.4" r="0.57"/><circle cx="368.8" cy="593.9" r="0.82"/><circle cx="395.0" cy="547.9" r="0.68"/><circle cx="416.8" cy="540.2" r="0.68"/><circle cx="363.4" cy="599.9" r="0.51"/><circle cx="417.2" cy="590.5" r="0.85"/><circle cx="362.5" cy="581.7" r="0.72"/><circle cx="389.5" cy="548.7" r="0.73"/><circle cx="408.1" cy="547.9" r="0.93"/><circle cx="385.2" cy="556.0" r="0.58"/><circle cx="387.6" cy="578.8" r="0.76"/><circle cx="413.4" cy="570.7" r="0.73"/><circle cx="419.3" cy="552.9" r="0.46"/><circle cx="379.7" cy="558.8" r="0.52"/><circle cx="385.1" cy="542.1" r="0.96"/><circle cx="389.1" cy="592.7" r="0.83"/><circle cx="403.8" cy="585.5" r="0.62"/><circle cx="403.7" cy="552.4" r="0.76"/><circle cx="414.9" cy="552.8" r="0.53"/><circle cx="399.3" cy="554.4" r="0.81"/><circle cx="438.6" cy="531.8" r="0.54"/><circle cx="384.6" cy="551.2" r="0.79"/><circle cx="418.2" cy="552.9" r="0.68"/><circle cx="412.9" cy="557.5" r="0.74"/><circle cx="418.7" cy="546.8" r="0.67"/><circle cx="424.9" cy="546.3" r="0.51"/><circle cx="404.4" cy="541.5" r="0.64"/><circle cx="412.8" cy="539.6" r="0.63"/><circle cx="404.5" cy="539.9" r="0.89"/><circle cx="383.6" cy="528.5" r="0.77"/><circle cx="402.5" cy="542.4" r="0.72"/><circle cx="400.8" cy="535.7" r="0.46"/><circle cx="432.2" cy="558.0" r="0.58"/><circle cx="406.8" cy="538.4" r="0.48"/><circle cx="433.3" cy="554.8" r="0.56"/><circle cx="393.8" cy="550.3" r="0.81"/><circle cx="407.1" cy="540.4" r="0.56"/><circle cx="427.5" cy="555.6" r="0.84"/><circle cx="385.1" cy="547.0" r="0.89"/><circle cx="422.3" cy="542.7" r="0.52"/><circle cx="371.9" cy="596.5" r="1.07"/><circle cx="380.9" cy="582.0" r="0.83"/><circle cx="387.8" cy="576.6" r="0.57"/><circle cx="379.3" cy="583.9" r="0.79"/><circle cx="377.9" cy="592.0" r="0.59"/><circle cx="373.3" cy="592.5" r="0.74"/><circle cx="379.2" cy="584.2" r="1.07"/><circle cx="375.8" cy="593.6" r="1.00"/><circle cx="380.9" cy="590.1" r="0.73"/><circle cx="379.0" cy="583.5" r="0.58"/><circle cx="375.5" cy="588.1" r="0.74"/><circle cx="369.5" cy="597.2" r="0.59"/><circle cx="380.8" cy="584.5" r="0.93"/><circle cx="386.9" cy="576.4" r="0.86"/><circle cx="373.7" cy="591.9" r="1.05"/><circle cx="372.7" cy="594.3" r="0.68"/><circle cx="379.0" cy="587.5" r="0.63"/><circle cx="372.5" cy="594.8" r="0.65"/><circle cx="373.6" cy="590.0" r="0.78"/><circle cx="380.7" cy="586.6" r="0.78"/><circle cx="385.1" cy="579.4" r="1.14"/><circle cx="373.8" cy="592.0" r="1.18"/><circle cx="378.6" cy="585.4" r="0.69"/><circle cx="371.4" cy="594.8" r="1.12"/><circle cx="376.0" cy="589.4" r="0.87"/><circle cx="372.2" cy="593.0" r="0.62"/><circle cx="375.3" cy="589.9" r="0.50"/><circle cx="380.1" cy="580.9" r="0.80"/><circle cx="372.0" cy="596.3" r="1.08"/><circle cx="381.2" cy="584.8" r="0.73"/><circle cx="374.6" cy="592.0" r="0.74"/><circle cx="385.2" cy="579.0" r="1.05"/><circle cx="384.4" cy="581.2" r="0.58"/><circle cx="369.8" cy="596.9" r="0.62"/><circle cx="371.5" cy="591.8" r="0.91"/><circle cx="377.2" cy="587.7" r="0.67"/><circle cx="386.7" cy="574.4" r="0.53"/><circle cx="384.9" cy="574.4" r="0.68"/><circle cx="386.7" cy="577.7" r="0.75"/><circle cx="387.2" cy="576.7" r="0.71"/><circle cx="492.3" cy="595.7" r="1.19"/><circle cx="490.3" cy="583.2" r="0.98"/><circle cx="489.6" cy="591.5" r="1.19"/><circle cx="492.5" cy="597.0" r="0.93"/><circle cx="490.0" cy="590.0" r="1.15"/><circle cx="492.0" cy="592.3" r="0.62"/><circle cx="485.6" cy="583.5" r="0.63"/><circle cx="483.0" cy="577.9" r="0.58"/><circle cx="490.7" cy="594.0" r="0.83"/><circle cx="490.0" cy="585.3" r="1.01"/><circle cx="484.3" cy="577.4" r="1.08"/><circle cx="492.0" cy="597.6" r="0.72"/><circle cx="488.1" cy="594.7" r="0.59"/><circle cx="487.6" cy="591.2" r="1.10"/><circle cx="488.9" cy="582.2" r="1.06"/><circle cx="490.7" cy="588.6" r="0.61"/><circle cx="486.3" cy="582.8" r="0.62"/><circle cx="489.8" cy="588.7" r="0.59"/><circle cx="486.5" cy="589.1" r="0.78"/><circle cx="484.8" cy="579.6" r="0.56"/><circle cx="493.0" cy="590.4" r="1.14"/><circle cx="484.3" cy="580.4" r="0.88"/><circle cx="484.8" cy="579.9" r="0.68"/><circle cx="490.8" cy="595.8" r="1.11"/><circle cx="487.3" cy="590.6" r="0.57"/><circle cx="487.7" cy="581.8" r="1.06"/><circle cx="486.9" cy="579.7" r="0.60"/><circle cx="484.7" cy="580.5" r="0.99"/><circle cx="488.4" cy="589.5" r="1.08"/><circle cx="489.3" cy="587.4" r="1.07"/><ellipse cx="366.0" cy="599.7" rx="1.10" ry="0.76" transform="rotate(0 366.0 599.7)"/><ellipse cx="367.3" cy="600.6" rx="1.05" ry="0.59" transform="rotate(0 367.3 600.6)"/><ellipse cx="372.5" cy="599.8" rx="1.14" ry="0.56" transform="rotate(0 372.5 599.8)"/><ellipse cx="373.8" cy="601.2" rx="0.66" ry="0.79" transform="rotate(0 373.8 601.2)"/><ellipse cx="375.1" cy="600.3" rx="0.94" ry="0.64" transform="rotate(0 375.1 600.3)"/><ellipse cx="376.4" cy="599.3" rx="0.95" ry="0.48" transform="rotate(0 376.4 599.3)"/><ellipse cx="379.0" cy="600.6" rx="1.01" ry="0.73" transform="rotate(0 379.0 600.6)"/><ellipse cx="382.9" cy="600.7" rx="0.51" ry="0.53" transform="rotate(0 382.9 600.7)"/><ellipse cx="385.5" cy="599.0" rx="0.63" ry="0.63" transform="rotate(0 385.5 599.0)"/><ellipse cx="389.4" cy="599.8" rx="0.88" ry="0.55" transform="rotate(0 389.4 599.8)"/><ellipse cx="394.6" cy="599.9" rx="1.14" ry="0.58" transform="rotate(0 394.6 599.9)"/><ellipse cx="398.5" cy="599.3" rx="0.95" ry="0.73" transform="rotate(0 398.5 599.3)"/><ellipse cx="402.4" cy="600.8" rx="0.89" ry="0.75" transform="rotate(0 402.4 600.8)"/><ellipse cx="403.7" cy="599.4" rx="0.77" ry="0.70" transform="rotate(0 403.7 599.4)"/><ellipse cx="406.3" cy="600.9" rx="0.54" ry="0.49" transform="rotate(0 406.3 600.9)"/><ellipse cx="407.6" cy="600.0" rx="0.96" ry="0.56" transform="rotate(0 407.6 600.0)"/><ellipse cx="408.9" cy="599.8" rx="1.23" ry="0.74" transform="rotate(0 408.9 599.8)"/><ellipse cx="411.5" cy="600.1" rx="0.75" ry="0.66" transform="rotate(0 411.5 600.1)"/><ellipse cx="412.8" cy="601.5" rx="1.08" ry="0.74" transform="rotate(0 412.8 601.5)"/><ellipse cx="414.1" cy="599.8" rx="0.60" ry="0.57" transform="rotate(0 414.1 599.8)"/><ellipse cx="415.4" cy="598.4" rx="1.17" ry="0.79" transform="rotate(0 415.4 598.4)"/><ellipse cx="416.7" cy="600.8" rx="0.68" ry="0.46" transform="rotate(0 416.7 600.8)"/><ellipse cx="418.0" cy="600.7" rx="0.74" ry="0.69" transform="rotate(0 418.0 600.7)"/><ellipse cx="421.9" cy="600.3" rx="1.09" ry="0.69" transform="rotate(0 421.9 600.3)"/><ellipse cx="424.5" cy="599.5" rx="0.53" ry="0.61" transform="rotate(0 424.5 599.5)"/><ellipse cx="427.1" cy="600.1" rx="1.19" ry="0.76" transform="rotate(0 427.1 600.1)"/><ellipse cx="431.0" cy="600.2" rx="1.09" ry="0.79" transform="rotate(0 431.0 600.2)"/><ellipse cx="432.3" cy="600.4" rx="0.51" ry="0.57" transform="rotate(0 432.3 600.4)"/><ellipse cx="433.7" cy="599.8" rx="1.18" ry="0.57" transform="rotate(0 433.7 599.8)"/><ellipse cx="436.3" cy="599.8" rx="0.74" ry="0.51" transform="rotate(0 436.3 599.8)"/><ellipse cx="441.5" cy="599.1" rx="1.29" ry="0.78" transform="rotate(0 441.5 599.1)"/><ellipse cx="442.8" cy="599.7" rx="0.80" ry="0.80" transform="rotate(0 442.8 599.7)"/><ellipse cx="446.7" cy="601.4" rx="0.71" ry="0.65" transform="rotate(0 446.7 601.4)"/><ellipse cx="448.0" cy="600.2" rx="0.96" ry="0.78" transform="rotate(0 448.0 600.2)"/><ellipse cx="451.9" cy="600.0" rx="0.83" ry="0.78" transform="rotate(0 451.9 600.0)"/><ellipse cx="453.2" cy="599.9" rx="0.79" ry="0.65" transform="rotate(0 453.2 599.9)"/><ellipse cx="454.5" cy="599.8" rx="0.58" ry="0.77" transform="rotate(0 454.5 599.8)"/><ellipse cx="455.8" cy="599.2" rx="1.06" ry="0.57" transform="rotate(0 455.8 599.2)"/><ellipse cx="457.1" cy="601.8" rx="1.14" ry="0.61" transform="rotate(0 457.1 601.8)"/><ellipse cx="463.6" cy="601.0" rx="0.91" ry="0.79" transform="rotate(0 463.6 601.0)"/><ellipse cx="468.8" cy="598.9" rx="0.66" ry="0.75" transform="rotate(0 468.8 598.9)"/><ellipse cx="470.1" cy="599.6" rx="0.93" ry="0.65" transform="rotate(0 470.1 599.6)"/><ellipse cx="471.4" cy="600.6" rx="0.65" ry="0.59" transform="rotate(0 471.4 600.6)"/><ellipse cx="474.0" cy="599.7" rx="0.50" ry="0.48" transform="rotate(0 474.0 599.7)"/><ellipse cx="476.6" cy="600.0" rx="1.19" ry="0.76" transform="rotate(0 476.6 600.0)"/><ellipse cx="477.9" cy="601.1" rx="0.50" ry="0.71" transform="rotate(0 477.9 601.1)"/><ellipse cx="480.5" cy="600.6" rx="0.69" ry="0.66" transform="rotate(0 480.5 600.6)"/><ellipse cx="483.1" cy="600.1" rx="0.56" ry="0.69" transform="rotate(0 483.1 600.1)"/><ellipse cx="484.4" cy="600.1" rx="1.29" ry="0.56" transform="rotate(0 484.4 600.1)"/><ellipse cx="485.7" cy="600.6" rx="0.88" ry="0.51" transform="rotate(0 485.7 600.6)"/><ellipse cx="487.0" cy="599.8" rx="1.14" ry="0.51" transform="rotate(0 487.0 599.8)"/><ellipse cx="488.3" cy="599.5" rx="1.00" ry="0.61" transform="rotate(0 488.3 599.5)"/><ellipse cx="490.9" cy="600.0" rx="0.80" ry="0.49" transform="rotate(0 490.9 600.0)"/><ellipse cx="494.8" cy="599.1" rx="0.88" ry="0.69" transform="rotate(0 494.8 599.1)"/><ellipse cx="497.4" cy="600.3" rx="0.94" ry="0.76" transform="rotate(0 497.4 600.3)"/><circle cx="413.4" cy="556.9" r="0.55"/><circle cx="417.8" cy="561.9" r="0.56"/><circle cx="421.4" cy="565.0" r="0.63"/><circle cx="436.3" cy="558.2" r="0.74"/><circle cx="432.0" cy="555.4" r="0.61"/><circle cx="439.0" cy="553.8" r="0.59"/><circle cx="408.6" cy="561.9" r="0.73"/><circle cx="435.8" cy="561.0" r="0.45"/><circle cx="384.3" cy="553.4" r="0.64"/><circle cx="381.6" cy="559.3" r="0.73"/><circle cx="392.1" cy="563.3" r="0.64"/><circle cx="437.6" cy="557.3" r="0.73"/><circle cx="412.5" cy="556.2" r="0.80"/><circle cx="380.2" cy="556.0" r="0.59"/><circle cx="432.9" cy="559.0" r="0.47"/><circle cx="499.0" cy="590.2" r="0.89"/><circle cx="493.3" cy="594.5" r="0.66"/><circle cx="505.7" cy="585.5" r="0.69"/><circle cx="519.7" cy="598.0" r="0.95"/><circle cx="512.1" cy="592.5" r="0.53"/><circle cx="491.1" cy="595.8" r="0.82"/><circle cx="508.9" cy="582.8" r="0.60"/><circle cx="517.6" cy="588.3" r="0.46"/><circle cx="500.2" cy="583.7" r="0.49"/><circle cx="519.3" cy="597.6" r="0.90"/><circle cx="490.1" cy="585.4" r="0.51"/><circle cx="511.8" cy="595.2" r="0.88"/><circle cx="513.8" cy="578.0" r="0.46"/><circle cx="492.8" cy="596.1" r="0.91"/><circle cx="505.5" cy="580.9" r="0.92"/><circle cx="493.6" cy="583.1" r="0.45"/><circle cx="519.5" cy="585.4" r="0.87"/><circle cx="514.0" cy="589.5" r="0.99"/><circle cx="513.2" cy="598.2" r="0.98"/><circle cx="492.5" cy="593.8" r="0.57"/></g>
<!-- PLATE -->
<g fill="none" stroke="#000" stroke-width="2.4" stroke-linejoin="round">
<path d="M370.7,598.8 L376.7,588 L385,575 L387.4,573.8 L429,560 L433.8,560 L483.8,575 L489.8,583.3 L493.3,595.2 L492,598.8 Z" fill="#fff"/>
<path d="M375.5,593.6 L491,593.6" stroke-width="1.8"/>
</g>
<!-- FIGURE -->
<g stroke-linecap="round" stroke-linejoin="round">
<path d="M263.5,81.0 C264.3,79.3 266.4,78.8 267.5,79.0 C268.6,79.2 269.4,80.5 269.8,82.0 C270.2,83.5 270.1,85.7 270.0,88.0 C269.9,90.3 269.8,93.5 269.5,96.0 C269.2,98.5 268.7,101.1 268.2,103.0 C267.7,104.9 267.5,106.7 266.7,107.2 C265.9,107.7 264.2,107.5 263.5,106.0 C262.8,104.5 262.5,100.8 262.4,98.0 C262.2,95.2 262.4,91.8 262.6,89.0 C262.8,86.2 262.7,82.7 263.5,81.0 Z" fill="#000" stroke="none"/>
<path d="M272.0,71.0 C271.7,70.0 270.6,66.8 270.2,65.0 C269.8,63.2 269.6,62.1 269.6,60.3 C269.7,58.5 270.1,55.7 270.5,54.0 C270.9,52.3 270.7,51.5 271.8,50.0 C272.9,48.5 274.9,46.6 277.2,45.2 C279.5,43.8 282.8,42.8 285.6,41.8 C288.4,40.8 291.5,40.1 294.0,39.3 C296.5,38.4 298.8,37.2 300.8,36.7 C302.8,36.2 303.8,36.2 305.8,36.4 C307.8,36.5 309.8,36.7 312.6,37.6 C315.4,38.5 319.9,40.4 322.7,41.8 C325.5,43.2 327.8,44.3 329.5,46.0 C331.2,47.7 332.1,49.5 332.8,51.9 C333.5,54.3 333.7,57.5 333.7,60.3 C333.7,63.1 333.2,66.7 332.8,68.8 C332.4,70.9 331.7,72.3 331.5,73.0" stroke="#000" stroke-width="3.0" fill="none"/>
<path d="M277.2,72.2 C278.2,71.8 281.0,70.6 283.0,70.0 C285.0,69.4 286.2,68.9 289.0,68.8 C291.8,68.7 296.1,69.2 300.0,69.6 C303.9,70.0 307.7,70.6 312.6,71.3 C317.5,72.0 326.7,73.4 329.5,73.8" stroke="#000" stroke-width="2.0" fill="none"/>
<path d="M284.5,45.0 C284.8,46.0 285.8,49.0 286.3,51.0 C286.8,53.0 287.1,54.3 287.3,57.0 C287.5,59.7 287.3,65.3 287.3,67.0" stroke="#000" stroke-width="1.3" fill="none"/>
<path d="M291.0,52.5 L298.0,55.5 L302.0,52.3 L307.0,55.0 L312.0,51.8 L317.0,54.5 L322.0,52.5 L326.0,55.0 L330.5,57.0 L331.5,63.0 L331.5,70.5 L326.0,69.8 L318.0,68.0 L311.0,66.3 L304.0,64.5 L298.0,62.0 L293.5,58.5 L297.5,58.5 Z" fill="#000" stroke="none"/>
<path d="M293.0,54.5 L303.0,56.0" stroke="#000" stroke-width="1.2" fill="none"/>
<path d="M331.5,73.0 C332.6,73.7 335.9,75.6 338.0,77.0 C340.1,78.4 342.2,80.0 344.0,81.5 C345.8,83.0 347.5,84.7 348.5,86.0 C349.5,87.3 350.1,88.4 350.0,89.5 C349.9,90.6 349.4,92.1 348.0,92.4 C346.6,92.8 343.7,92.4 341.3,91.6 C338.9,90.8 337.0,88.8 333.6,87.5 C330.2,86.2 325.9,84.8 321.0,83.5 C316.1,82.2 309.4,81.2 304.2,80.0 C299.0,78.8 293.9,77.5 290.0,76.5 C286.1,75.5 283.3,74.6 281.0,74.0 C278.7,73.4 276.8,73.2 276.0,73.0" stroke="#000" stroke-width="3.0" fill="none"/>
<path d="M287.3,75.5 C290.1,76.1 298.6,78.1 304.2,78.9 C309.8,79.8 315.7,79.8 321.0,80.6 C326.3,81.4 332.0,82.8 336.2,84.0 C340.4,85.2 344.6,87.2 346.3,87.8" stroke="#000" stroke-width="1.8" fill="none"/>
<path d="M277.0,75.5 C278.1,75.2 282.0,76.2 285.0,77.0 C288.0,77.8 291.2,79.2 295.0,80.0 C298.8,80.8 303.4,81.2 307.9,82.0 C312.4,82.8 317.7,83.9 322.0,85.0 C326.3,86.1 330.3,87.3 333.6,88.5 C336.9,89.7 339.4,91.2 342.0,92.0 C344.6,92.8 349.2,92.5 349.0,93.0 C348.8,93.5 344.0,94.8 341.0,95.0 C338.0,95.2 333.3,93.9 331.0,94.0 C328.7,94.1 327.9,94.7 327.0,95.5 C326.1,96.3 326.2,97.7 325.5,99.0 C324.8,100.3 323.8,101.4 322.8,103.1 C321.8,104.8 320.6,107.3 319.3,109.2 C318.0,111.1 316.1,112.8 314.9,114.5 C313.7,116.2 313.3,118.0 312.3,119.7 C311.3,121.4 310.0,123.5 308.8,124.9 C307.6,126.4 306.4,127.8 305.3,128.4 C304.2,129.0 302.7,129.2 302.2,128.5 C301.7,127.8 302.0,125.4 302.2,124.0 C302.4,122.6 302.9,121.3 303.5,120.0 C304.1,118.7 304.9,117.5 305.6,116.0 C306.3,114.5 307.4,112.5 307.8,111.0 C308.2,109.5 308.2,108.5 307.8,107.2 C307.4,105.9 306.1,104.4 305.5,103.0 C304.9,101.6 304.7,100.3 304.4,99.0 C304.1,97.7 304.2,96.2 303.9,95.0 C303.6,93.8 303.1,92.8 302.5,92.0 C301.9,91.2 301.2,91.2 300.0,90.3 C298.8,89.4 296.5,87.5 295.0,86.5 C293.5,85.5 292.5,84.8 291.0,84.0 C289.5,83.2 287.6,82.1 286.1,81.4 C284.6,80.7 283.3,80.3 282.0,79.8 C280.7,79.3 279.3,79.2 278.5,78.5 C277.7,77.8 275.9,75.8 277.0,75.5 Z" fill="#000" stroke="none"/>
<path d="M316.7,98.7 L322.8,97.9 L318.4,105.7 Z" fill="#fff" stroke="none"/>
<path d="M269.5,77.0 C270.0,76.8 271.3,75.8 272.5,75.8 C273.7,75.8 275.6,76.2 276.5,77.2 C277.4,78.2 277.9,80.4 278.0,82.0 C278.1,83.6 277.7,85.5 277.0,87.0 C276.3,88.5 275.0,90.2 274.0,91.0 C273.0,91.8 271.5,91.8 271.0,92.0" stroke="#000" stroke-width="2.2" fill="#fff"/>
<path d="M272.5,80.5 C272.8,80.9 274.1,82.0 274.2,83.0 C274.3,84.0 273.2,85.9 273.0,86.5" stroke="#000" stroke-width="1.4" fill="none"/>
<path d="M272.0,96.0 C272.0,97.8 271.8,103.7 272.0,107.0 C272.2,110.3 272.9,113.2 273.3,116.0 C273.7,118.8 274.0,121.8 274.4,124.0 C274.8,126.2 275.2,127.7 275.6,129.4 C276.0,131.1 276.5,133.2 276.7,134.0" stroke="#000" stroke-width="2.4" fill="none"/>
<path d="M272.2,91.7 C272.5,93.4 273.1,98.6 273.9,101.7 C274.6,104.8 275.5,108.0 276.7,110.6 C277.9,113.2 279.3,115.3 281.0,117.2 C282.7,119.1 284.8,120.4 286.7,121.7 C288.6,123.0 290.3,124.1 292.2,125.0 C294.1,125.9 296.1,126.8 297.8,127.2 C299.5,127.6 301.5,127.2 302.2,127.2" stroke="#000" stroke-width="2.4" fill="none"/>
<path d="M276.7,111.0 C277.2,110.8 279.3,115.4 281.0,117.2 C282.7,119.0 284.8,120.4 286.7,121.7 C288.6,123.0 290.3,124.1 292.2,125.0 C294.1,125.9 296.1,126.8 297.8,127.2 C299.5,127.6 301.1,127.0 302.2,127.2 C303.3,127.4 304.9,127.6 304.4,128.3 C303.8,129.1 300.9,130.8 298.9,131.7 C296.9,132.6 294.4,134.0 292.2,134.0 C290.0,134.0 287.5,133.2 285.6,131.7 C283.7,130.2 282.3,127.2 281.0,125.0 C279.7,122.8 278.5,120.6 277.8,118.3 C277.1,116.0 276.2,111.2 276.7,111.0 Z" fill="#000" stroke="none"/>
<path d="M292.2,98.3 C291.8,98.8 290.2,100.5 289.5,101.5 C288.8,102.5 288.1,103.6 287.8,104.0" stroke="#000" stroke-width="1.8" fill="none"/>
<path d="M298.5,99.0 C298.9,99.1 300.2,99.2 301.0,99.4 C301.8,99.6 302.7,99.8 303.5,100.2 C304.3,100.6 305.2,101.5 305.6,101.7" stroke="#000" stroke-width="1.8" fill="none"/>
<path d="M291.0,108.3 C291.5,108.4 292.9,108.4 294.0,108.8 C295.1,109.2 296.6,110.2 297.8,110.6 C299.1,111.0 300.2,111.0 301.5,111.2 C302.8,111.4 304.9,111.6 305.6,111.7" stroke="#000" stroke-width="2.0" fill="none"/>
<path d="M296.0,114.5 C296.6,114.2 298.4,114.1 300.0,114.2 C301.6,114.3 304.8,114.8 305.6,115.3 C306.4,115.8 305.9,116.8 305.0,117.0 C304.1,117.2 301.4,116.6 300.0,116.5 C298.6,116.4 297.2,116.5 296.5,116.2 C295.8,115.9 295.4,114.8 296.0,114.5 Z" fill="#000" stroke="none"/>
<path d="M263.0,106.0 C262.3,106.4 260.5,108.5 259.0,108.5 C257.5,108.5 255.5,106.5 254.0,106.3 C252.5,106.1 251.3,107.0 250.0,107.5 C248.7,108.0 247.7,108.8 246.2,109.5 C244.7,110.2 242.6,111.2 241.0,112.0 C239.4,112.8 238.5,113.4 236.7,114.3 C234.9,115.2 232.4,116.5 230.3,117.5 C228.2,118.5 226.1,119.3 224.0,120.6 C221.9,121.9 219.7,123.8 217.6,125.4 C215.5,127.0 213.2,128.6 211.3,130.2 C209.5,131.8 208.1,132.9 206.5,135.0 C204.9,137.1 203.0,140.3 201.7,142.9 C200.4,145.5 199.6,148.2 198.6,150.8 C197.6,153.4 196.7,156.0 195.4,158.7 C194.1,161.3 191.9,163.8 190.6,166.7 C189.3,169.6 188.6,173.0 187.5,176.2 C186.4,179.4 185.3,182.7 184.3,185.7 C183.3,188.7 182.3,191.4 181.6,194.0 C180.9,196.6 180.8,198.8 180.3,201.0 C179.8,203.2 178.8,206.4 178.5,207.5" stroke="#000" stroke-width="2.8" fill="none"/>
<path d="M178.5,207.5 C177.8,207.9 175.0,208.8 174.0,209.7 C173.0,210.6 172.5,212.0 172.5,213.0 C172.5,214.0 174.2,214.7 174.0,215.5 C173.8,216.3 171.8,216.7 171.0,217.6 C170.2,218.5 169.4,219.9 169.3,220.8 C169.2,221.7 170.8,222.2 170.5,223.0 C170.2,223.8 168.4,224.4 167.7,225.6 C167.0,226.8 166.6,229.0 166.1,230.3 C165.6,231.6 164.8,232.2 164.5,233.5 C164.2,234.8 164.1,237.0 164.5,238.3 C164.9,239.6 166.5,240.9 166.9,241.4" stroke="#000" stroke-width="2.8" fill="none"/>
<path d="M252.0,109.4 C252.4,110.2 252.9,112.5 254.4,114.0 C255.9,115.5 258.9,116.8 261.0,118.3 C263.1,119.8 264.9,121.1 266.7,122.8 C268.5,124.5 270.5,126.8 272.0,128.3 C273.5,129.8 275.0,131.1 275.6,131.7" stroke="#000" stroke-width="2.6" fill="none"/>
<path d="M275.6,131.7 C276.0,132.4 277.3,133.8 278.0,136.0 C278.7,138.2 279.2,141.7 280.0,145.0 C280.8,148.3 282.4,153.9 282.9,155.7" stroke="#000" stroke-width="2.0" fill="none"/>
<path d="M283.3,131.7 C283.8,131.4 285.5,132.8 286.0,134.0 C286.5,135.2 286.2,137.7 286.5,139.0 C286.8,140.3 287.0,140.8 287.5,142.0 C288.0,143.2 289.5,145.2 289.5,146.0 C289.5,146.8 288.3,147.3 287.5,146.5 C286.7,145.7 285.2,142.8 284.5,141.0 C283.8,139.2 283.2,137.6 283.0,136.0 C282.8,134.4 282.8,132.0 283.3,131.7 Z" fill="#000" stroke="none"/>
<path d="M290.0,132.8 C290.4,132.6 292.2,133.3 293.0,134.5 C293.8,135.7 294.6,138.2 295.0,140.0 C295.4,141.8 295.6,144.0 295.5,145.0 C295.4,146.0 295.0,146.8 294.5,146.0 C294.0,145.2 293.2,141.7 292.5,140.0 C291.8,138.3 290.9,137.2 290.5,136.0 C290.1,134.8 289.6,133.1 290.0,132.8 Z" fill="#000" stroke="none"/>
<path d="M290.5,137.0 C290.6,136.3 292.9,137.8 294.0,139.0 C295.1,140.2 296.4,142.3 297.0,144.0 C297.6,145.7 297.8,147.0 297.5,149.0 C297.2,151.0 296.6,153.9 295.5,156.0 C294.4,158.1 292.1,161.1 291.0,161.8 C289.9,162.6 288.8,161.6 289.0,160.5 C289.2,159.4 291.6,157.0 292.5,155.0 C293.4,153.0 294.1,150.5 294.3,148.5 C294.5,146.5 294.1,144.9 293.5,143.0 C292.9,141.1 290.4,137.7 290.5,137.0 Z" fill="#000" stroke="none"/>
<path d="M298.6,131.4 C300.0,131.9 304.1,132.6 307.0,134.3 C309.9,136.0 313.3,138.8 315.7,141.4 C318.1,144.0 320.0,146.9 321.4,150.0 C322.8,153.1 323.8,156.9 324.3,160.0 C324.8,163.1 323.9,166.4 324.3,168.6 C324.8,170.8 326.3,171.0 327.0,172.9 C327.7,174.8 328.1,177.7 328.6,180.0 C329.1,182.3 329.1,184.8 330.0,187.0 C330.9,189.2 333.1,191.5 334.3,192.9 C335.5,194.3 336.6,195.2 337.0,195.7" stroke="#000" stroke-width="2.8" fill="none"/>
<path d="M292.9,200.0 C294.8,199.5 300.5,197.9 304.3,197.0 C308.1,196.1 312.1,195.0 315.7,194.3 C319.3,193.6 322.1,192.7 325.7,192.9 C329.2,193.1 335.1,195.2 337.0,195.7" stroke="#000" stroke-width="2.2" fill="none"/>
<path d="M293.0,204.0 C295.5,202.8 300.5,201.1 304.0,200.0 C307.5,198.9 310.6,198.2 314.0,197.5 C317.4,196.8 321.1,196.1 324.3,196.0 C327.5,195.9 333.0,196.4 333.0,197.0 C333.0,197.6 328.1,198.5 324.3,199.5 C320.5,200.5 314.6,201.8 310.0,203.0 C305.4,204.2 300.3,205.8 297.0,207.0 C293.7,208.2 291.3,210.0 290.0,210.0 C288.7,210.0 288.5,208.0 289.0,207.0 C289.5,206.0 290.5,205.2 293.0,204.0 Z" fill="#000" stroke="none"/>
<path d="M320.8,163.5 C321.6,163.1 322.1,165.8 322.0,168.0 C321.9,170.2 321.4,174.3 320.5,177.0 C319.6,179.7 317.8,181.9 316.5,184.0 C315.2,186.1 314.6,187.9 313.0,189.5 C311.4,191.1 308.9,192.5 307.0,193.8 C305.1,195.1 303.4,196.4 301.7,197.5 C300.0,198.6 298.3,199.6 297.0,200.3 C295.7,201.1 294.6,202.1 293.8,202.0 C293.1,201.9 292.0,201.0 292.5,200.0 C293.0,199.0 295.5,197.2 297.0,196.0 C298.5,194.8 300.1,193.8 301.7,192.5 C303.3,191.2 305.0,189.9 306.5,188.5 C308.0,187.1 309.2,185.8 310.5,184.0 C311.8,182.2 313.2,179.8 314.3,177.5 C315.4,175.2 316.2,172.8 317.3,170.5 C318.4,168.2 320.0,163.9 320.8,163.5 Z" fill="#000" stroke="none"/>
<path d="M309.7,162.7 C309.6,163.9 309.5,166.8 309.0,170.0 C308.5,173.2 306.9,179.8 306.5,181.7" stroke="#000" stroke-width="1.4" fill="none"/>
<path d="M316.0,156.3 C316.0,157.4 316.1,160.6 315.8,163.0 C315.5,165.4 314.6,169.3 314.4,170.6" stroke="#000" stroke-width="1.4" fill="none"/>
<path d="M290.0,161.4 C289.2,161.8 286.4,162.8 285.0,163.5 C283.6,164.2 282.7,164.4 281.4,165.7 C280.1,167.0 278.2,169.5 277.0,171.4 C275.8,173.3 275.0,174.8 274.3,177.0 C273.6,179.2 273.4,181.9 272.9,184.3 C272.4,186.7 271.8,189.3 271.4,191.4 C271.0,193.5 270.6,196.1 270.5,197.0" stroke="#000" stroke-width="2.6" fill="none"/>
<path d="M226.3,122.0 C227.2,122.3 230.0,123.2 232.0,124.0 C234.0,124.8 235.9,125.7 238.3,127.0 C240.7,128.3 244.1,129.9 246.2,131.7 C248.3,133.5 249.7,135.3 251.0,138.0 C252.3,140.7 253.2,144.4 254.0,147.6 C254.8,150.8 255.1,153.8 255.7,157.0 C256.2,160.2 256.8,163.8 257.3,166.7 C257.8,169.6 258.6,173.3 258.9,174.6" stroke="#000" stroke-width="2.6" fill="none"/>
<path d="M258.9,131.7 C259.7,133.8 262.6,140.4 263.7,144.4 C264.8,148.4 264.9,153.7 265.2,155.6" stroke="#000" stroke-width="1.3" fill="none"/>
<path d="M225.6,139.7 C226.1,139.2 230.4,141.4 233.0,143.0 C235.6,144.6 238.7,147.2 241.0,149.0 C243.3,150.8 245.4,152.2 247.0,154.0 C248.6,155.8 250.7,158.8 250.5,159.5 C250.3,160.2 248.1,159.2 246.0,158.0 C243.9,156.8 240.7,154.5 238.0,152.5 C235.3,150.5 232.1,148.1 230.0,146.0 C227.9,143.9 225.1,140.2 225.6,139.7 Z" fill="#000" stroke="none"/>
<path d="M230.3,147.6 C231.6,148.6 235.3,151.1 238.0,153.5 C240.7,155.9 244.8,160.5 246.2,161.9" stroke="#000" stroke-width="1.4" fill="none"/>
<path d="M239.8,160.3 C240.8,160.8 243.9,162.2 246.0,163.5 C248.1,164.8 251.4,167.5 252.5,168.3" stroke="#000" stroke-width="1.2" fill="none"/>
<path d="M200.0,173.0 C200.7,172.7 202.7,171.5 204.0,171.0 C205.3,170.5 207.3,170.2 208.0,170.0" stroke="#000" stroke-width="1.4" fill="none"/>
<path d="M185.5,193.5 L199.0,182.0" stroke="#333" stroke-width="0.8" fill="none"/>
<path d="M187.7,192.9 L201.0,180.6" stroke="#333" stroke-width="0.8" fill="none"/>
<path d="M189.9,192.3 L203.0,179.2" stroke="#333" stroke-width="0.8" fill="none"/>
<path d="M192.1,191.7 L205.0,177.8" stroke="#333" stroke-width="0.8" fill="none"/>
<path d="M194.3,191.1 L207.0,176.4" stroke="#333" stroke-width="0.8" fill="none"/>
<path d="M206.5,186.0 C208.3,186.0 214.5,186.2 217.6,186.0 C220.7,185.8 222.3,185.4 225.0,185.0 C227.7,184.6 230.8,183.9 233.5,183.5 C236.2,183.1 238.3,182.7 241.0,182.3 C243.7,181.9 246.6,181.4 249.4,181.2 C252.2,180.9 256.6,180.9 258.0,180.8" stroke="#000" stroke-width="2.8" fill="none"/>
<path d="M206.5,184.5 C207.5,183.9 211.6,184.8 214.0,185.0 C216.4,185.2 219.9,184.8 221.0,186.0 C222.1,187.2 222.0,191.2 220.8,192.0 C219.6,192.8 216.1,191.1 214.0,190.5 C211.9,189.9 209.2,189.5 208.0,188.5 C206.8,187.5 205.5,185.1 206.5,184.5 Z" fill="#000" stroke="none"/>
<path d="M258.0,180.5 C258.3,181.1 259.2,182.2 260.0,184.0 C260.8,185.8 261.7,189.0 262.9,191.4 C264.1,193.8 265.4,196.4 267.1,198.6 C268.8,200.8 270.8,202.4 272.9,204.3 C275.0,206.2 278.0,208.2 280.0,210.0 C282.0,211.8 282.7,212.5 285.0,215.0 C287.3,217.5 290.8,221.4 293.6,225.0 C296.4,228.6 299.1,232.8 302.0,236.4 C304.9,240.0 307.8,243.5 310.7,246.4 C313.6,249.3 316.4,251.4 319.3,253.6 C322.2,255.8 325.6,257.9 328.0,259.3 C330.4,260.7 332.7,261.6 333.6,262.0" stroke="#000" stroke-width="3.0" fill="none"/>
<path d="M220.0,191.4 C220.9,192.3 223.5,194.9 225.7,197.1 C227.8,199.2 230.5,201.9 232.9,204.3 C235.3,206.7 237.6,209.3 240.0,211.4 C242.4,213.5 244.7,215.2 247.1,217.1 C249.5,219.0 252.2,221.0 254.3,222.9 C256.4,224.8 257.6,226.4 260.0,228.6 C262.4,230.8 265.8,233.6 268.6,236.0 C271.4,238.4 274.3,241.4 277.0,243.0 C279.7,244.6 282.2,244.0 285.0,245.5 C287.8,247.0 291.2,249.9 293.6,252.0 C296.0,254.1 297.9,256.1 299.3,257.9 C300.7,259.7 301.6,262.1 302.0,263.0" stroke="#000" stroke-width="2.8" fill="none"/>
<path d="M259.0,180.0 C259.5,180.3 261.0,183.8 262.0,186.0 C263.0,188.2 265.0,192.3 265.0,193.0 C265.0,193.7 263.0,191.5 262.0,190.0 C261.0,188.5 259.5,185.7 259.0,184.0 C258.5,182.3 258.5,179.7 259.0,180.0 Z" fill="#000" stroke="none"/>
<path d="M248.6,214.3 C249.3,214.6 251.3,214.8 253.0,216.0 C254.7,217.2 257.7,220.5 258.6,221.4" stroke="#000" stroke-width="1.6" fill="none"/>
<path d="M276.0,232.0 C277.2,232.8 281.0,236.0 283.0,237.0 C285.0,238.0 287.2,237.8 288.0,238.0" stroke="#000" stroke-width="1.2" fill="none"/>
<path d="M290.0,243.0 L296.0,247.0" stroke="#000" stroke-width="1.2" fill="none"/>
<path d="M307.0,208.0 C307.6,208.9 309.6,210.5 310.7,213.6 C311.8,216.7 311.9,222.3 313.6,226.4 C315.3,230.5 318.3,234.6 320.7,237.9 C323.1,241.2 326.1,244.1 328.0,246.4 C329.9,248.8 330.8,250.3 332.0,252.0 C333.2,253.7 334.5,255.7 335.0,256.4" stroke="#000" stroke-width="3.8" fill="none"/>
<path d="M330.7,205.0 C331.9,205.9 336.0,208.3 337.9,210.7 C339.8,213.1 340.8,216.2 342.0,219.3 C343.2,222.4 344.3,226.2 345.0,229.3 C345.7,232.4 345.7,235.5 346.4,237.9 C347.1,240.3 348.1,241.7 349.3,243.6 C350.5,245.5 352.3,247.7 353.6,249.3 C354.9,250.9 356.4,252.4 357.0,253.0" stroke="#000" stroke-width="2.8" fill="none"/>
<path d="M313.0,212.0 C314.2,212.5 318.2,213.5 320.0,215.0 C321.8,216.5 323.3,220.0 324.0,221.0" stroke="#000" stroke-width="1.5" fill="none"/>
<path d="M205.0,225.5 C205.0,224.9 210.9,223.7 215.0,222.5 C219.1,221.3 225.0,219.8 229.8,218.5 C234.6,217.2 240.8,215.4 243.8,214.8 C246.8,214.2 247.9,214.4 248.0,215.0 C248.1,215.6 247.5,217.0 244.5,218.2 C241.5,219.4 234.9,221.0 230.0,222.3 C225.1,223.6 219.2,225.3 215.0,225.8 C210.8,226.3 205.0,226.1 205.0,225.5 Z" fill="#000" stroke="none"/>
<path d="M182.4,231.4 C184.5,231.2 190.0,230.5 195.0,230.0 C200.0,229.5 206.6,229.0 212.4,228.5 C218.2,228.0 224.6,227.3 230.0,227.0 C235.4,226.7 242.5,226.8 245.0,226.7" stroke="#444" stroke-width="1.4" fill="none"/>
<path d="M203.0,238.5 C203.0,237.9 207.9,236.9 212.4,236.0 C216.9,235.1 224.2,234.1 230.0,233.3 C235.8,232.5 242.7,231.8 247.3,231.3 C251.9,230.8 255.7,229.9 257.5,230.2 C259.3,230.5 259.7,232.4 258.0,233.3 C256.3,234.2 252.0,234.8 247.3,235.5 C242.6,236.2 235.8,236.9 230.0,237.6 C224.2,238.3 216.9,239.3 212.4,239.5 C207.9,239.7 203.0,239.1 203.0,238.5 Z" fill="#000" stroke="none"/>
<path d="M220.0,246.0 C221.7,245.3 228.8,243.9 235.0,242.8 C241.2,241.7 253.1,239.4 257.0,239.3 C260.9,239.2 261.3,241.2 258.5,242.3 C255.7,243.4 245.6,245.0 240.0,245.8 C234.4,246.6 228.3,247.2 225.0,247.2 C221.7,247.2 218.3,246.7 220.0,246.0 Z" fill="#000" stroke="none"/>
<path d="M236.0,223.0 C236.7,222.1 243.3,220.2 246.0,219.5 C248.7,218.8 251.3,218.4 252.0,219.0 C252.7,219.6 251.7,222.0 250.0,223.0 C248.3,224.0 244.3,225.0 242.0,225.0 C239.7,225.0 235.3,223.9 236.0,223.0 Z" fill="#000" stroke="none"/>
<path d="M165.2,241.9 C167.7,242.0 175.0,242.2 180.0,242.3 C185.0,242.5 190.0,242.3 195.0,242.8 C200.0,243.3 205.7,244.6 210.0,245.5 C214.3,246.4 217.3,247.3 221.0,248.0 C224.7,248.7 228.2,249.1 232.0,249.5 C235.8,249.9 240.1,250.5 243.8,250.6 C247.5,250.7 252.0,250.7 254.3,249.8 C256.6,248.9 257.0,247.4 257.8,245.4 C258.6,243.4 258.9,240.4 259.0,238.0 C259.1,235.6 259.2,233.5 258.5,231.0 C257.8,228.5 256.0,225.2 255.0,223.0 C254.0,220.8 252.9,218.8 252.5,218.0" stroke="#000" stroke-width="2.4" fill="none"/>
<path d="M168.0,242.3 C170.2,241.7 176.3,243.0 180.0,243.6 C183.7,244.2 186.1,244.9 190.0,246.0 C193.9,247.1 199.7,248.8 203.7,250.0 C207.7,251.2 210.5,252.1 214.0,253.0 C217.5,253.9 221.3,254.7 224.6,255.2 C227.9,255.7 230.8,256.0 234.0,256.2 C237.2,256.4 242.1,255.7 244.0,256.4 C245.9,257.1 245.7,259.1 245.5,260.5 C245.3,261.9 245.6,264.2 243.0,264.8 C240.4,265.4 234.9,264.7 229.8,264.0 C224.7,263.3 218.2,261.8 212.4,260.5 C206.6,259.2 200.2,257.3 195.0,256.0 C189.8,254.7 184.8,253.6 181.0,252.6 C177.2,251.6 174.3,250.9 172.0,250.0 C169.7,249.1 167.7,248.3 167.0,247.0 C166.3,245.7 165.8,242.9 168.0,242.3 Z" fill="#000" stroke="none"/>
<path d="M202.5,249.6 L208.5,251.2 L207.5,260.2 L201.5,258.4 Z" fill="#fff" stroke="none"/>
<path d="M179.5,243.6 L183.5,244.4 L183.0,253.0 L179.0,252.0 Z" fill="#fff" stroke="none"/>
<path d="M229.0,258.0 C230.2,257.5 234.7,257.7 236.0,258.2 C237.3,258.7 238.2,260.7 237.0,261.2 C235.8,261.7 230.3,261.8 229.0,261.3 C227.7,260.8 227.8,258.5 229.0,258.0 Z" fill="#fff" stroke="none"/>
<path d="M186.0,267.5 C187.0,267.0 193.6,266.2 198.0,266.0 C202.4,265.8 211.2,265.6 212.4,266.0 C213.6,266.4 208.4,267.7 205.0,268.2 C201.6,268.7 195.2,269.1 192.0,269.0 C188.8,268.9 185.0,268.0 186.0,267.5 Z" fill="#000" stroke="none"/>
<path d="M171.0,282.0 C171.0,281.4 180.2,281.4 185.0,281.5 C189.8,281.6 195.6,282.0 200.0,282.5 C204.4,283.0 211.4,283.8 211.4,284.3 C211.4,284.8 204.4,285.5 200.0,285.6 C195.6,285.7 189.8,285.6 185.0,285.0 C180.2,284.4 171.0,282.6 171.0,282.0 Z" fill="#000" stroke="none"/>
<path d="M215.0,261.5 C216.5,262.3 221.1,265.0 224.2,266.1 C227.3,267.2 230.7,267.9 233.4,268.0 C236.2,268.1 239.2,266.7 240.7,267.0 C242.2,267.3 242.4,268.6 242.6,269.8 C242.8,271.0 242.5,273.2 241.7,274.4 C240.9,275.6 238.3,276.0 238.0,277.2 C237.7,278.4 239.0,280.3 239.8,281.8 C240.6,283.3 242.1,284.7 242.6,286.4 C243.1,288.1 242.9,290.5 242.6,291.9 C242.3,293.3 241.0,294.2 240.7,294.6" stroke="#000" stroke-width="2.0" fill="none"/>
<path d="M166.9,241.4 C166.2,242.2 163.9,243.6 162.6,246.0 C161.3,248.4 160.0,252.1 159.0,255.7 C158.0,259.3 157.3,263.2 156.7,267.6 C156.1,272.0 155.5,277.9 155.5,281.9 C155.5,285.9 156.0,288.4 156.7,291.4 C157.4,294.4 158.7,298.0 159.5,300.0 C160.3,302.0 160.2,301.3 161.4,303.3 C162.6,305.3 165.3,310.2 166.7,311.9 C168.1,313.6 168.2,311.8 170.0,313.3 C171.8,314.8 175.4,319.1 177.6,321.0 C179.8,322.9 181.4,323.9 183.3,324.8 C185.2,325.8 188.1,326.4 189.0,326.7" stroke="#000" stroke-width="2.6" fill="none"/>
<path d="M176.0,318.0 C176.2,317.8 178.1,318.4 180.0,320.0 C181.9,321.6 185.1,324.9 187.7,327.7 C190.2,330.5 192.8,333.9 195.3,336.6 C197.9,339.4 200.4,341.9 203.0,344.2 C205.6,346.5 208.1,348.5 210.6,350.6 C213.1,352.7 215.7,354.8 218.2,356.9 C220.7,359.0 223.5,361.4 225.8,363.3 C228.1,365.2 230.0,366.6 232.1,368.3 C234.2,370.0 236.6,371.7 238.5,373.4 C240.4,375.1 242.4,376.9 243.6,378.5 C244.8,380.1 245.3,380.8 245.5,383.0 C245.7,385.2 245.7,389.3 244.8,392.0 C243.9,394.7 242.1,397.2 240.0,399.0 C237.9,400.8 234.7,402.0 232.0,403.0 C229.3,404.0 226.7,404.8 224.0,405.0 C221.3,405.2 218.1,405.8 216.0,404.5 C213.9,403.2 212.2,399.8 211.4,397.4 C210.6,394.9 211.2,392.0 211.4,389.8 C211.6,387.6 212.6,386.1 212.4,384.0 C212.2,381.9 211.4,380.2 210.5,377.4 C209.6,374.6 208.4,370.4 206.7,367.0 C205.0,363.6 202.5,360.3 200.4,356.9 C198.3,353.5 196.1,350.1 194.0,346.7 C191.9,343.3 189.6,339.8 187.7,336.6 C185.8,333.4 184.1,330.2 182.6,327.7 C181.1,325.1 179.9,322.9 178.8,321.3 C177.7,319.7 175.8,318.2 176.0,318.0 Z" fill="#000" stroke="none"/>
<path d="M216.5,383.5 C217.5,382.1 221.2,379.4 224.0,377.8 C226.8,376.2 231.7,374.3 233.5,374.2 C235.3,374.1 236.2,375.8 235.0,377.0 C233.8,378.2 228.8,380.0 226.0,381.5 C223.2,383.0 219.6,385.7 218.0,386.0 C216.4,386.3 215.5,384.9 216.5,383.5 Z" fill="#fff" stroke="none"/>
<path d="M214.8,390.0 C216.3,388.4 221.1,385.7 225.0,384.2 C228.9,382.7 236.1,380.8 238.5,380.8 C240.9,380.8 241.4,382.6 239.5,384.0 C237.6,385.4 230.9,387.4 227.0,389.0 C223.1,390.6 218.0,393.3 216.0,393.5 C214.0,393.7 213.3,391.6 214.8,390.0 Z" fill="#fff" stroke="none"/>
<path d="M214.0,396.5 C215.6,394.8 221.4,391.8 226.0,390.0 C230.6,388.2 238.8,385.9 241.5,386.0 C244.2,386.1 244.1,388.8 242.0,390.5 C239.9,392.2 233.2,394.9 229.0,396.5 C224.8,398.1 219.0,400.0 216.5,400.0 C214.0,400.0 212.4,398.2 214.0,396.5 Z" fill="#fff" stroke="none"/>
<path d="M221.0,406.0 C222.5,405.0 227.2,402.1 230.0,400.0 C232.8,397.9 236.7,394.7 238.0,393.6" stroke="#000" stroke-width="1.2" fill="none"/>
<path d="M207.5,347.5 C208.9,347.7 212.1,349.3 215.0,351.0 C217.9,352.7 221.7,355.2 225.0,357.5 C228.3,359.8 231.7,362.2 235.0,364.5 C238.3,366.8 241.7,368.9 245.0,371.0 C248.3,373.1 251.6,374.8 255.0,377.0 C258.4,379.2 263.9,382.8 265.5,384.5 C267.1,386.2 266.4,387.8 264.5,387.0 C262.6,386.2 257.4,381.8 254.0,379.5 C250.6,377.2 247.5,375.7 244.0,373.5 C240.5,371.3 236.7,368.8 233.0,366.5 C229.3,364.2 225.5,361.8 222.0,359.5 C218.5,357.2 214.6,354.6 212.0,353.0 C209.4,351.4 207.2,350.9 206.5,350.0 C205.8,349.1 206.1,347.3 207.5,347.5 Z" fill="#000" stroke="none"/>
<path d="M209.0,346.8 C210.8,348.1 216.2,351.9 220.0,354.5 C223.8,357.1 228.0,359.8 232.0,362.5 C236.0,365.2 242.0,369.2 244.0,370.5" stroke="#fff" stroke-width="1.0" fill="none"/>
<path d="M180.5,267.0 C181.5,266.6 187.9,267.0 192.0,267.5 C196.1,268.0 200.6,268.9 205.0,270.0 C209.4,271.1 215.1,272.5 218.6,273.8 C222.1,275.1 223.7,276.5 226.0,278.0 C228.3,279.5 230.7,281.4 232.5,283.0 C234.3,284.6 235.7,286.0 237.0,287.5 C238.3,289.0 240.2,290.9 240.5,292.0 C240.8,293.1 239.5,294.3 238.5,294.0 C237.5,293.7 236.0,291.4 234.5,290.0 C233.0,288.6 231.4,286.9 229.5,285.5 C227.6,284.1 225.6,282.8 223.0,281.5 C220.4,280.2 217.8,278.9 214.0,277.5 C210.2,276.1 204.7,274.2 200.0,273.0 C195.3,271.8 189.2,271.0 186.0,270.0 C182.8,269.0 179.5,267.4 180.5,267.0 Z" fill="#000" stroke="none"/>
<path d="M239.5,293.0 C240.2,293.8 242.6,296.2 244.0,298.0 C245.4,299.8 246.8,301.6 248.1,303.8 C249.4,306.0 250.5,308.1 252.0,311.0 C253.5,313.9 255.6,318.1 257.2,321.3 C258.8,324.5 259.9,327.3 261.4,330.0 C262.9,332.7 265.0,335.1 266.4,337.4 C267.8,339.7 268.4,341.7 269.5,344.0 C270.6,346.3 272.1,348.9 273.3,351.1 C274.5,353.3 275.4,354.9 276.7,357.0 C278.0,359.1 279.5,361.7 281.0,364.0 C282.5,366.3 284.2,368.7 285.5,371.0 C286.8,373.3 288.2,375.8 289.0,378.0 C289.8,380.2 289.9,382.0 290.0,384.0 C290.1,386.0 289.9,388.0 289.5,390.0 C289.1,392.0 288.0,393.5 287.5,396.0 C287.0,398.5 286.8,401.9 286.5,405.0 C286.2,408.1 286.0,410.5 285.7,414.3 C285.4,418.1 285.0,423.7 284.8,428.0 C284.6,432.3 284.6,435.5 284.3,440.0 C284.0,444.5 283.3,450.2 282.8,455.0 C282.3,459.8 282.0,464.1 281.4,468.6 C280.8,473.1 279.7,477.7 279.0,482.0 C278.3,486.3 277.3,492.2 277.0,494.3" stroke="#000" stroke-width="2.8" fill="none"/>
<path d="M211.4,397.4 C211.1,397.9 209.8,398.8 209.5,400.2 C209.2,401.6 209.8,403.9 209.5,406.0 C209.2,408.1 208.2,409.4 207.6,412.6 C207.0,415.8 206.2,421.9 205.7,425.0 C205.1,428.1 204.8,428.4 204.3,431.4 C203.9,434.4 203.2,439.2 203.0,443.0 C202.8,446.8 202.8,450.6 202.9,454.3 C203.0,458.0 203.3,461.7 203.5,465.0 C203.7,468.3 203.9,471.6 204.3,474.3 C204.7,477.0 205.7,479.9 206.0,481.0" stroke="#000" stroke-width="2.8" fill="none"/>
<path d="M245.0,383.0 C245.3,384.8 246.3,390.6 246.7,393.6 C247.1,396.6 247.5,398.5 247.6,401.2 C247.7,403.9 247.4,407.2 247.5,410.0 C247.6,412.8 248.0,415.4 248.2,418.0 C248.4,420.6 248.6,422.0 248.6,425.7 C248.6,429.4 248.3,435.2 248.0,440.0 C247.7,444.8 247.0,449.6 247.0,454.3 C247.0,459.0 247.5,463.2 247.8,468.0 C248.1,472.8 248.2,478.1 248.6,482.9 C249.0,487.7 249.8,494.6 250.0,497.0" stroke="#000" stroke-width="2.6" fill="none"/>
<path d="M247.5,425.0 C246.9,426.5 245.0,431.5 244.0,434.0 C243.0,436.5 242.3,437.7 241.4,440.0 C240.5,442.3 239.4,445.5 238.5,448.0 C237.6,450.5 236.5,451.4 235.7,455.0 C234.9,458.6 234.2,465.2 233.6,469.3 C233.0,473.4 232.3,477.6 232.0,479.3" stroke="#000" stroke-width="2.4" fill="none"/>
<path d="M245.7,421.7 C245.6,420.0 244.6,418.6 243.7,419.7 C242.8,420.8 241.5,425.4 240.5,428.0 C239.5,430.6 238.9,432.8 237.7,435.6 C236.5,438.4 234.8,442.0 233.5,445.0 C232.2,448.0 230.7,450.7 229.8,453.5 C228.9,456.3 228.2,459.4 227.9,462.0 C227.6,464.6 227.6,467.8 227.9,469.3 C228.2,470.8 229.2,472.2 230.0,471.0 C230.8,469.8 232.1,464.6 233.0,462.0 C233.9,459.4 234.8,457.8 235.7,455.5 C236.6,453.2 237.5,450.6 238.5,448.0 C239.5,445.4 240.7,442.6 241.7,439.6 C242.7,436.6 243.8,433.0 244.5,430.0 C245.2,427.0 245.8,423.4 245.7,421.7 Z" fill="#000" stroke="none"/>
<path d="M249.3,400.7 C249.9,401.2 251.6,403.1 253.0,404.0 C254.4,404.9 256.0,405.9 257.5,406.2 C259.0,406.4 260.4,406.0 262.0,405.5 C263.6,405.0 266.3,403.8 267.2,403.4" stroke="#000" stroke-width="1.8" fill="none"/>
<path d="M252.0,411.0 C252.2,410.4 254.6,413.6 256.0,414.5 C257.4,415.4 258.8,416.1 260.3,416.2 C261.8,416.3 263.5,415.8 265.0,415.0 C266.5,414.2 268.0,413.1 269.5,411.5 C271.0,409.9 272.6,407.8 274.0,405.5 C275.4,403.2 277.3,399.1 278.2,398.0 C279.1,396.9 279.5,397.5 279.2,399.0 C278.9,400.5 277.7,404.3 276.5,407.0 C275.3,409.7 273.8,412.8 272.0,415.0 C270.2,417.2 268.2,419.4 266.0,420.5 C263.8,421.6 260.9,421.9 259.0,421.5 C257.1,421.1 255.7,419.8 254.5,418.0 C253.3,416.2 251.8,411.6 252.0,411.0 Z" fill="#000" stroke="none"/>
<path d="M250.0,393.5 C250.7,394.2 252.6,396.5 254.0,397.5 C255.4,398.5 257.8,399.2 258.6,399.5" stroke="#000" stroke-width="1.4" fill="none"/>
<path d="M285.3,402.5 C286.5,401.5 288.2,399.8 286.0,404.0 C283.8,408.2 276.7,420.7 272.0,428.0 C267.3,435.3 260.5,444.8 258.0,448.0 C255.5,451.2 255.5,450.8 257.2,447.5 C258.9,444.2 264.4,434.2 268.0,428.0 C271.6,421.8 276.1,414.2 279.0,410.0 C281.9,405.8 284.1,403.5 285.3,402.5 Z" fill="#000" stroke="none"/>
<path d="M283.5,405.0 C281.6,408.2 275.4,418.5 272.0,424.0 C268.6,429.5 264.5,435.7 263.0,438.0" stroke="#444" stroke-width="0.7" fill="none"/>
<path d="M284.6,414.4 C283.7,416.7 280.8,423.6 279.0,428.0 C277.2,432.4 275.5,436.2 274.0,441.0 C272.5,445.8 270.7,454.3 270.0,457.0" stroke="#333" stroke-width="0.9" fill="none"/>
<path d="M206.5,443.0 L212.5,465.0" stroke="#222" stroke-width="0.8" fill="none"/>
<path d="M208.2,443.6 L214.6,464.0" stroke="#222" stroke-width="0.8" fill="none"/>
<path d="M209.9,444.2 L216.7,463.0" stroke="#222" stroke-width="0.8" fill="none"/>
<path d="M211.6,444.8 L218.8,462.0" stroke="#222" stroke-width="0.8" fill="none"/>
<path d="M213.3,445.4 L220.9,461.0" stroke="#222" stroke-width="0.8" fill="none"/>
<path d="M215.0,446.0 L223.0,460.0" stroke="#222" stroke-width="0.8" fill="none"/>
<path d="M216.7,446.6 L225.1,459.0" stroke="#222" stroke-width="0.8" fill="none"/>
<path d="M218.4,447.2 L227.2,458.0" stroke="#222" stroke-width="0.8" fill="none"/>
<path d="M220.1,447.8 L229.3,457.0" stroke="#222" stroke-width="0.8" fill="none"/>
<path d="M213.6,476.4 C214.7,476.1 217.9,474.9 220.0,474.5 C222.1,474.1 224.2,473.9 226.0,473.8 C227.8,473.7 229.9,473.6 230.7,473.6" stroke="#000" stroke-width="2.4" fill="none"/>
<path d="M215.0,480.7 C216.2,480.6 219.6,480.0 222.0,479.8 C224.4,479.6 228.1,479.4 229.3,479.3" stroke="#000" stroke-width="1.6" fill="none"/>
<path d="M205.0,482.0 C205.2,482.5 204.5,484.4 206.4,485.0 C208.3,485.6 213.1,485.9 216.4,485.7 C219.7,485.5 223.8,484.3 226.4,483.6 C229.0,482.9 231.1,481.8 232.0,481.4" stroke="#000" stroke-width="2.6" fill="none"/>
<path d="M252.1,493.6 C252.9,493.2 255.3,492.2 257.0,491.5 C258.7,490.8 260.3,490.0 262.1,489.3 C263.9,488.6 266.1,488.0 268.0,487.5 C269.9,487.0 272.7,486.6 273.6,486.4" stroke="#000" stroke-width="2.6" fill="none"/>
<path d="M255.0,496.4 C256.2,496.1 259.6,495.2 262.0,494.5 C264.4,493.8 268.1,492.4 269.3,492.0" stroke="#000" stroke-width="1.6" fill="none"/>
<path d="M250.7,497.9 C251.6,498.1 253.8,498.8 256.0,499.0 C258.1,499.2 261.1,499.3 263.6,499.3 C266.1,499.3 268.6,499.0 271.0,498.8 C273.4,498.6 276.5,499.0 277.9,497.9 C279.3,496.8 279.1,493.0 279.3,492.0" stroke="#000" stroke-width="2.6" fill="none"/>
<path d="M203.0,484.0 C202.6,485.8 201.1,491.5 200.5,495.0 C199.9,498.5 200.2,502.2 199.7,505.0 C199.2,507.8 197.6,509.5 197.4,511.7 C197.2,513.9 198.8,516.8 198.6,518.3 C198.4,519.8 196.4,520.5 196.0,521.0" stroke="#000" stroke-width="2.6" fill="none"/>
<path d="M230.0,484.0 C229.6,485.8 228.5,491.5 227.5,495.0 C226.5,498.5 224.8,501.5 224.1,505.0 C223.3,508.5 223.6,513.1 223.0,516.1 C222.4,519.1 221.2,521.7 220.8,522.8" stroke="#000" stroke-width="2.4" fill="none"/>
<path d="M207.5,484.0 C210.0,483.2 219.5,483.2 221.5,485.0 C223.5,486.8 220.4,491.7 219.5,495.0 C218.6,498.3 217.0,501.5 216.3,505.0 C215.6,508.5 215.8,512.4 215.2,516.1 C214.6,519.8 213.7,524.2 213.0,527.2 C212.3,530.2 211.7,533.1 210.8,533.9 C209.9,534.7 208.3,534.0 207.4,532.0 C206.5,530.0 205.5,525.4 205.2,521.7 C204.9,518.0 205.4,513.6 205.6,510.0 C205.8,506.4 206.2,503.3 206.3,500.0 C206.5,496.7 206.3,492.7 206.5,490.0 C206.7,487.3 205.0,484.8 207.5,484.0 Z" fill="#000" stroke="none"/>
<path d="M249.0,497.0 C248.9,498.3 248.8,502.0 248.7,505.0 C248.6,508.0 248.4,511.2 248.2,515.0 C248.0,518.8 247.8,524.2 247.5,528.0 C247.2,531.8 246.8,535.3 246.5,538.0 C246.2,540.7 245.7,543.0 245.5,544.0" stroke="#000" stroke-width="2.6" fill="none"/>
<path d="M276.0,497.0 C276.0,498.3 276.2,502.0 276.2,505.0 C276.2,508.0 276.1,511.7 276.0,515.0 C275.9,518.3 275.5,522.3 275.6,525.0 C275.7,527.7 276.4,530.0 276.5,531.0" stroke="#000" stroke-width="2.4" fill="none"/>
<path d="M252.0,497.0 C254.8,495.4 266.5,496.2 269.0,497.5 C271.5,498.8 267.8,502.1 267.0,505.0 C266.2,507.9 265.0,511.7 264.0,515.0 C263.0,518.3 261.8,522.0 261.0,525.0 C260.2,528.0 259.7,530.5 259.0,533.0 C258.3,535.5 257.8,538.0 257.0,540.0 C256.2,542.0 255.1,545.8 254.5,545.0 C253.9,544.2 253.8,539.2 253.5,535.0 C253.2,530.8 253.2,524.7 253.0,520.0 C252.8,515.3 252.5,510.8 252.3,507.0 C252.1,503.2 249.2,498.6 252.0,497.0 Z" fill="#000" stroke="none"/>
<path d="M195.2,518.3 C194.6,518.9 192.7,520.2 191.9,521.7 C191.1,523.2 190.6,525.2 190.2,527.2 C189.8,529.2 189.9,531.7 189.7,533.9 C189.5,536.1 189.3,538.4 189.1,540.6 C188.9,542.8 188.7,545.4 188.6,547.2 C188.5,549.1 188.4,550.4 188.6,551.7 C188.8,553.0 188.8,554.1 189.7,555.0 C190.6,555.9 191.5,556.7 194.1,557.2 C196.7,557.8 200.9,557.9 205.2,558.3 C209.5,558.7 215.1,559.2 219.7,559.4 C224.3,559.6 229.9,559.7 233.0,559.4 C236.1,559.1 236.8,558.4 238.0,557.5 C239.2,556.6 239.7,554.6 240.0,554.0" stroke="#000" stroke-width="2.8" fill="#fff"/>
<path d="M193.2,522.4 C193.0,523.4 191.8,526.7 192.2,528.6 C192.5,530.5 193.1,532.2 195.3,533.7 C197.5,535.2 202.2,536.9 205.6,537.8 C209.0,538.7 213.4,539.0 216.0,538.9 C218.6,538.8 220.2,537.3 221.0,537.0" stroke="#000" stroke-width="2.2" fill="none"/>
<path d="M195.3,520.3 C195.7,521.3 196.0,524.6 197.4,526.5 C198.8,528.4 201.2,530.4 203.6,531.6 C206.0,532.8 209.4,533.5 211.8,533.7 C214.2,533.9 217.0,533.1 218.0,533.0" stroke="#000" stroke-width="1.6" fill="none"/>
<path d="M189.1,539.0 C191.0,539.2 196.9,539.5 200.5,540.0 C204.1,540.5 206.5,541.1 210.8,541.9 C215.1,542.6 221.6,543.7 226.2,544.5 C230.8,545.3 236.5,546.2 238.6,546.5" stroke="#000" stroke-width="1.8" fill="none"/>
<path d="M205.0,543.5 C205.3,542.8 211.2,541.8 214.0,541.5 C216.8,541.2 219.3,541.7 222.0,542.0 C224.7,542.3 230.0,543.0 230.0,543.5 C230.0,544.0 225.0,544.7 222.0,545.0 C219.0,545.3 214.8,545.8 212.0,545.5 C209.2,545.2 204.7,544.2 205.0,543.5 Z" fill="#000" stroke="none"/>
<path d="M189.7,551.7 C192.3,552.1 199.8,553.2 205.2,553.9 C210.6,554.6 216.9,555.7 221.9,556.1 C226.9,556.5 232.2,556.3 235.2,556.1 C238.2,555.9 239.2,555.2 240.0,555.0" stroke="#000" stroke-width="2.0" fill="none"/>
<path d="M206.0,544.5 C206.2,544.0 212.3,543.0 215.0,542.8 C217.7,542.6 222.2,542.7 222.0,543.2 C221.8,543.7 216.7,545.4 214.0,545.6 C211.3,545.8 205.8,545.0 206.0,544.5 Z" fill="#000" stroke="none"/>
<path d="M220.0,548.0 L226.0,545.8 L227.5,546.8 L221.5,549.2 Z" fill="#000" stroke="none"/>
<path d="M225.0,549.5 L231.0,547.3 L232.5,548.3 L226.5,550.7 Z" fill="#000" stroke="none"/>
<path d="M230.0,551.0 L236.0,548.8 L237.5,549.8 L231.5,552.2 Z" fill="#000" stroke="none"/>
<path d="M219.7,520.6 L228.6,516.1 L238.6,525.0 L235.2,530.6 L227.4,533.9 L219.7,529.4 L219.7,520.6" stroke="#000" stroke-width="2.8" fill="#fff"/>
<path d="M220.5,521.2 L228.3,517.5 L230.0,520.0 L223.0,523.5 Z" fill="#000" stroke="none"/>
<path d="M221.5,532.0 C221.7,530.8 224.5,530.1 225.5,530.5 C226.5,530.9 227.7,533.3 227.5,534.5 C227.3,535.7 225.5,537.9 224.5,537.5 C223.5,537.1 221.3,533.2 221.5,532.0 Z" stroke="#000" stroke-width="2.0" fill="none"/>
<path d="M226.5,534.5 C226.7,533.3 229.5,532.6 230.5,533.0 C231.5,533.4 232.7,535.8 232.5,537.0 C232.3,538.2 230.5,540.4 229.5,540.0 C228.5,539.6 226.3,535.7 226.5,534.5 Z" stroke="#000" stroke-width="2.0" fill="none"/>
<path d="M231.5,537.0 C231.7,535.8 234.5,535.1 235.5,535.5 C236.5,535.9 237.7,538.3 237.5,539.5 C237.3,540.7 235.5,542.9 234.5,542.5 C233.5,542.1 231.3,538.2 231.5,537.0 Z" stroke="#000" stroke-width="2.0" fill="none"/>
<path d="M236.5,539.0 C236.7,537.8 239.5,537.1 240.5,537.5 C241.5,537.9 242.7,540.3 242.5,541.5 C242.3,542.7 240.5,544.9 239.5,544.5 C238.5,544.1 236.3,540.2 236.5,539.0 Z" stroke="#000" stroke-width="2.0" fill="none"/>
<path d="M256.5,536.5 C255.4,537.6 252.1,540.6 250.2,542.9 C248.3,545.2 246.5,548.6 245.0,550.5 C243.5,552.4 242.3,552.7 241.3,554.3 C240.3,555.9 239.6,558.0 239.0,560.0 C238.4,562.0 237.7,564.1 237.5,566.0 C237.3,567.9 237.6,569.9 238.0,571.5 C238.4,573.1 237.6,575.0 240.0,575.9 C242.4,576.8 246.3,576.9 252.7,577.0 C259.1,577.1 270.7,577.2 278.1,576.8 C285.5,576.4 292.2,575.3 297.0,574.5 C301.8,573.7 304.0,573.0 307.0,572.0 C310.0,571.0 313.1,569.8 315.0,568.3 C316.9,566.8 317.8,564.9 318.2,563.2 C318.6,561.5 318.1,559.4 317.3,558.1 C316.5,556.8 315.8,556.1 313.5,555.2 C311.2,554.4 307.2,554.0 303.5,553.0 C299.8,552.0 294.4,551.0 291.5,549.5 C288.6,548.0 287.6,546.0 286.0,544.0 C284.4,542.0 282.6,538.8 281.9,537.8" stroke="#000" stroke-width="2.9" fill="#fff"/>
<path d="M238.5,570.8 C242.1,570.8 252.2,571.2 260.0,571.0 C267.8,570.8 277.5,570.2 285.0,569.6 C292.5,569.0 299.8,568.4 305.0,567.5 C310.2,566.6 314.2,565.0 316.0,564.5" stroke="#000" stroke-width="2.2" fill="none"/>
<path d="M259.0,550.5 C259.4,551.8 260.6,556.0 261.6,558.1 C262.6,560.2 264.4,562.2 265.0,563.0" stroke="#000" stroke-width="1.6" fill="none"/>
<path d="M238.5,558.0 C240.2,558.1 245.1,557.7 249.0,558.5 C252.9,559.3 258.0,561.1 261.7,562.9 C265.4,564.7 269.7,568.2 271.3,569.2" stroke="#000" stroke-width="1.8" fill="none"/>
<path d="M259.0,531.4 C260.5,531.4 264.8,531.3 268.0,531.2 C271.2,531.1 275.8,529.9 278.1,531.0 C280.4,532.1 281.3,535.4 281.9,537.8 C282.5,540.2 283.4,544.0 281.9,545.4 C280.4,546.8 275.8,546.0 273.0,546.2 C270.2,546.4 267.7,547.7 265.4,546.7 C263.1,545.7 260.1,542.8 259.0,540.3 C257.9,537.8 259.0,532.9 259.0,531.4" stroke="#000" stroke-width="2.8" fill="#fff"/>
<path d="M263.5,536.5 L279.4,535.8 L279.8,542.2 L264.5,542.9 Z" fill="#000" stroke="none"/>
<path d="M263.0,545.0 C264.1,544.0 267.0,543.9 270.0,544.0 C273.0,544.1 277.8,544.7 281.0,545.5 C284.2,546.3 286.8,547.7 289.0,549.0 C291.2,550.3 293.3,551.8 294.0,553.5 C294.7,555.2 294.3,558.3 293.0,559.5 C291.7,560.7 288.8,560.8 286.0,560.5 C283.2,560.2 279.0,559.1 276.0,558.0 C273.0,556.9 270.1,555.3 268.0,554.0 C265.9,552.7 264.3,551.5 263.5,550.0 C262.7,548.5 261.9,546.0 263.0,545.0 Z" fill="#000" stroke="none"/>
<ellipse cx="269.0" cy="551.5" rx="2.6" ry="6.2" transform="rotate(-30 269.0 551.5)" fill="#fff" stroke="#000" stroke-width="2.0"/>
<ellipse cx="276.8" cy="552.5" rx="2.6" ry="6.2" transform="rotate(-30 276.8 552.5)" fill="#fff" stroke="#000" stroke-width="2.0"/>
<ellipse cx="283.2" cy="553.5" rx="2.6" ry="6.2" transform="rotate(-30 283.2 553.5)" fill="#fff" stroke="#000" stroke-width="2.0"/>
<ellipse cx="288.2" cy="554.5" rx="2.6" ry="6.2" transform="rotate(-30 288.2 554.5)" fill="#fff" stroke="#000" stroke-width="2.0"/>
<path d="M282.0,555.6 C283.3,556.1 287.3,557.4 290.0,558.5 C292.7,559.6 296.7,561.4 298.0,562.0" stroke="#000" stroke-width="1.6" fill="none"/>
<path d="M274.0,569.5 L280.0,562.0 L282.0,562.5 L276.2,570.0 Z" fill="#000" stroke="none"/>
<path d="M279.0,569.0 L285.0,561.5 L287.0,562.0 L281.2,569.5 Z" fill="#000" stroke="none"/>
<path d="M284.0,568.5 L290.0,561.0 L292.0,561.5 L286.2,569.0 Z" fill="#000" stroke="none"/>
<path d="M300.0,557.0 L309.0,559.0" stroke="#000" stroke-width="1.2" fill="none"/>
<ellipse cx="301.3" cy="273" rx="7.5" ry="10.3" fill="#fff" stroke="#000" stroke-width="2.4"/>
<path d="M304.0,263.5 C304.5,264.2 306.4,265.9 307.0,268.0 C307.6,270.1 307.8,273.7 307.5,276.0 C307.2,278.3 305.8,281.0 305.5,282.0" stroke="#000" stroke-width="1.6" fill="none"/>
<path d="M299.0,259.0 C299.8,259.2 302.1,259.7 303.7,260.5 C305.3,261.3 307.7,263.4 308.5,264.0" stroke="#000" stroke-width="2.0" fill="none"/>
<path d="M309.4,267.9 C309.4,270.0 309.0,278.0 309.4,280.7 C309.8,283.4 310.8,283.3 312.0,284.0 C313.2,284.7 315.6,284.9 316.6,284.8 C317.6,284.7 317.3,283.4 318.0,283.6 C318.7,283.8 319.8,285.5 321.0,285.8 C322.2,286.1 324.2,285.7 325.0,285.7 C325.8,285.7 325.3,285.6 326.0,285.7 C326.7,285.8 327.9,286.3 329.0,286.3 C330.1,286.3 331.3,285.8 332.3,285.7 C333.3,285.6 333.9,286.1 335.0,286.0 C336.1,285.9 337.9,285.5 338.7,285.0 C339.5,284.5 339.8,283.3 340.0,283.0" stroke="#000" stroke-width="2.4" fill="none"/>
<path d="M317.3,270.7 C317.4,271.8 317.8,275.0 317.8,277.1 C317.8,279.3 317.4,282.5 317.3,283.6" stroke="#000" stroke-width="1.8" fill="none"/>
<path d="M325.3,269.3 C325.4,270.6 325.8,274.5 325.8,277.1 C325.8,279.8 325.4,283.7 325.3,285.0" stroke="#000" stroke-width="1.8" fill="none"/>
<path d="M332.3,269.3 C332.4,270.6 332.8,274.5 332.8,277.1 C332.8,279.8 332.4,283.7 332.3,285.0" stroke="#000" stroke-width="1.8" fill="none"/>
<path d="M338.5,267.9 C338.6,269.3 339.0,273.4 339.0,276.2 C339.0,279.0 338.6,283.1 338.5,284.5" stroke="#000" stroke-width="1.8" fill="none"/>
<path d="M311.5,264.5 L313.5,267.0" stroke="#000" stroke-width="1.5" fill="none"/>
<path d="M318.5,264.0 L320.5,266.5" stroke="#000" stroke-width="1.5" fill="none"/>
<path d="M325.5,264.8 L327.5,267.3" stroke="#000" stroke-width="1.5" fill="none"/>
<path d="M332.5,266.0 L334.5,268.5" stroke="#000" stroke-width="1.5" fill="none"/>
<path d="M333.0,257.0 C333.8,256.9 336.0,256.6 337.6,256.2 C339.2,255.8 340.5,254.8 342.4,254.3 C344.3,253.8 347.2,253.8 349.0,253.3 C350.8,252.8 351.8,251.9 352.9,251.4 C354.0,250.9 354.6,250.3 355.7,250.5 C356.8,250.7 358.1,251.9 359.5,252.4 C360.9,252.9 362.7,252.7 364.3,253.3 C365.9,253.9 367.9,255.2 369.0,256.2 C370.1,257.1 370.8,257.9 371.0,259.0 C371.2,260.1 370.6,261.5 370.3,262.5 C370.1,263.5 369.6,264.0 369.5,265.0 C369.4,266.0 370.1,267.2 370.0,268.6 C369.9,270.0 369.3,271.7 369.0,273.3 C368.7,274.9 368.5,276.6 368.0,278.0 C367.5,279.4 367.1,280.8 366.2,281.9 C365.3,283.0 364.0,284.2 362.4,284.8 C360.8,285.4 358.4,285.6 356.7,285.7 C354.9,285.8 353.5,285.7 351.9,285.7 C350.3,285.7 348.9,285.7 347.1,285.7 C345.4,285.7 343.3,285.8 341.4,285.7 C339.5,285.6 336.6,284.9 335.7,284.8" stroke="#000" stroke-width="2.6" fill="#fff"/>
<path d="M341.4,259.0 C341.8,259.7 343.5,261.4 344.0,263.0 C344.5,264.6 344.4,266.8 344.3,268.6 C344.2,270.4 343.8,272.4 343.5,274.0 C343.2,275.6 342.9,276.4 342.4,278.0 C341.9,279.6 340.8,282.8 340.5,283.8" stroke="#000" stroke-width="2.0" fill="none"/>
<path d="M350.0,258.0 C350.4,258.8 352.0,261.2 352.5,263.0 C353.0,264.8 353.0,266.8 352.9,268.6 C352.8,270.4 352.3,272.4 352.0,274.0 C351.7,275.6 351.5,276.2 351.0,278.0 C350.5,279.8 349.3,283.7 349.0,284.8" stroke="#000" stroke-width="2.0" fill="none"/>
<path d="M358.6,259.0 C359.0,259.7 360.5,261.4 361.0,263.0 C361.5,264.6 361.5,266.8 361.4,268.6 C361.3,270.4 360.8,272.4 360.5,274.0 C360.2,275.6 359.9,276.2 359.5,278.0 C359.1,279.8 358.2,283.4 358.0,284.5" stroke="#000" stroke-width="2.0" fill="none"/>
<path d="M365.2,259.0 C365.6,259.7 367.0,261.4 367.5,263.0 C368.0,264.6 367.9,267.7 368.0,268.6" stroke="#000" stroke-width="2.0" fill="none"/>
<path d="M334.3,260.7 C334.6,260.3 335.2,258.7 336.0,258.3 C336.8,257.9 338.2,257.9 339.0,258.3 C339.8,258.7 340.4,260.3 340.7,260.7" stroke="#000" stroke-width="1.6" fill="none"/>
<path d="M342.8,258.7 C343.1,258.3 343.7,256.7 344.5,256.3 C345.3,255.9 346.7,255.9 347.5,256.3 C348.3,256.7 348.9,258.3 349.2,258.7" stroke="#000" stroke-width="1.6" fill="none"/>
<path d="M351.3,258.7 C351.6,258.3 352.2,256.7 353.0,256.3 C353.8,255.9 355.2,255.9 356.0,256.3 C356.8,256.7 357.4,258.3 357.7,258.7" stroke="#000" stroke-width="1.6" fill="none"/>
<path d="M359.3,259.7 C359.6,259.3 360.2,257.7 361.0,257.3 C361.8,256.9 363.2,256.9 364.0,257.3 C364.8,257.7 365.4,259.3 365.7,259.7" stroke="#000" stroke-width="1.6" fill="none"/>
<ellipse cx="355.8" cy="253" rx="3.8" ry="2.6" fill="#fff" stroke="#000" stroke-width="1.8"/>
<path d="M344.3,240.0 C344.9,240.8 346.6,243.2 348.0,245.0 C349.4,246.8 352.1,249.6 352.9,250.5" stroke="#000" stroke-width="2.6" fill="none"/>
<path d="M370.5,269.8 L430.0,267.3 L490.0,265.0 L520.0,263.6 L545.0,262.7 L560.0,262.6" stroke="#000" stroke-width="2.4" fill="none"/>
<path d="M560,262.6 C570,262.8 575,268 575,274.5 C575,282 569.5,286.8 560,287.2" fill="none" stroke="#000" stroke-width="2.6"/>
<path d="M370.0,281.0 L430.0,282.5 L490.0,284.0 L530.0,285.6 L560.0,287.2" stroke="#000" stroke-width="2.4" fill="none"/>
<g fill="none"><path d="M380,277.2 L470,278.6" stroke="#777" stroke-width="1.0"/><path d="M395,279.8 L530,282.3" stroke="#666" stroke-width="1.1"/><path d="M470,281.6 L540,283.2" stroke="#444" stroke-width="1.2"/><path d="M531,274.7 L545,274.7" stroke="#222" stroke-width="1.3" stroke-dasharray="1.5 1"/><path d="M545,273.5 L571,273.5" stroke="#999" stroke-width="1.0"/><path d="M554,270.5 L570,270.5" stroke="#888" stroke-width="1.0"/><path d="M548,276.5 L571,276.8" stroke="#555" stroke-width="1.2"/><path d="M556,279.5 L570,279.5" stroke="#777" stroke-width="1.0"/><path d="M558,267.8 L568,267.8" stroke="#aaa" stroke-width="0.9"/><path d="M430,271.5 L470,271" stroke="#bbb" stroke-width="0.8"/><path d="M455,274.2 L470,274.2" stroke="#444" stroke-width="1" stroke-dasharray="1.5 1.5"/></g>
</g>
</svg>
<div class="cap">Major League Baseball</div>
</body></html>
